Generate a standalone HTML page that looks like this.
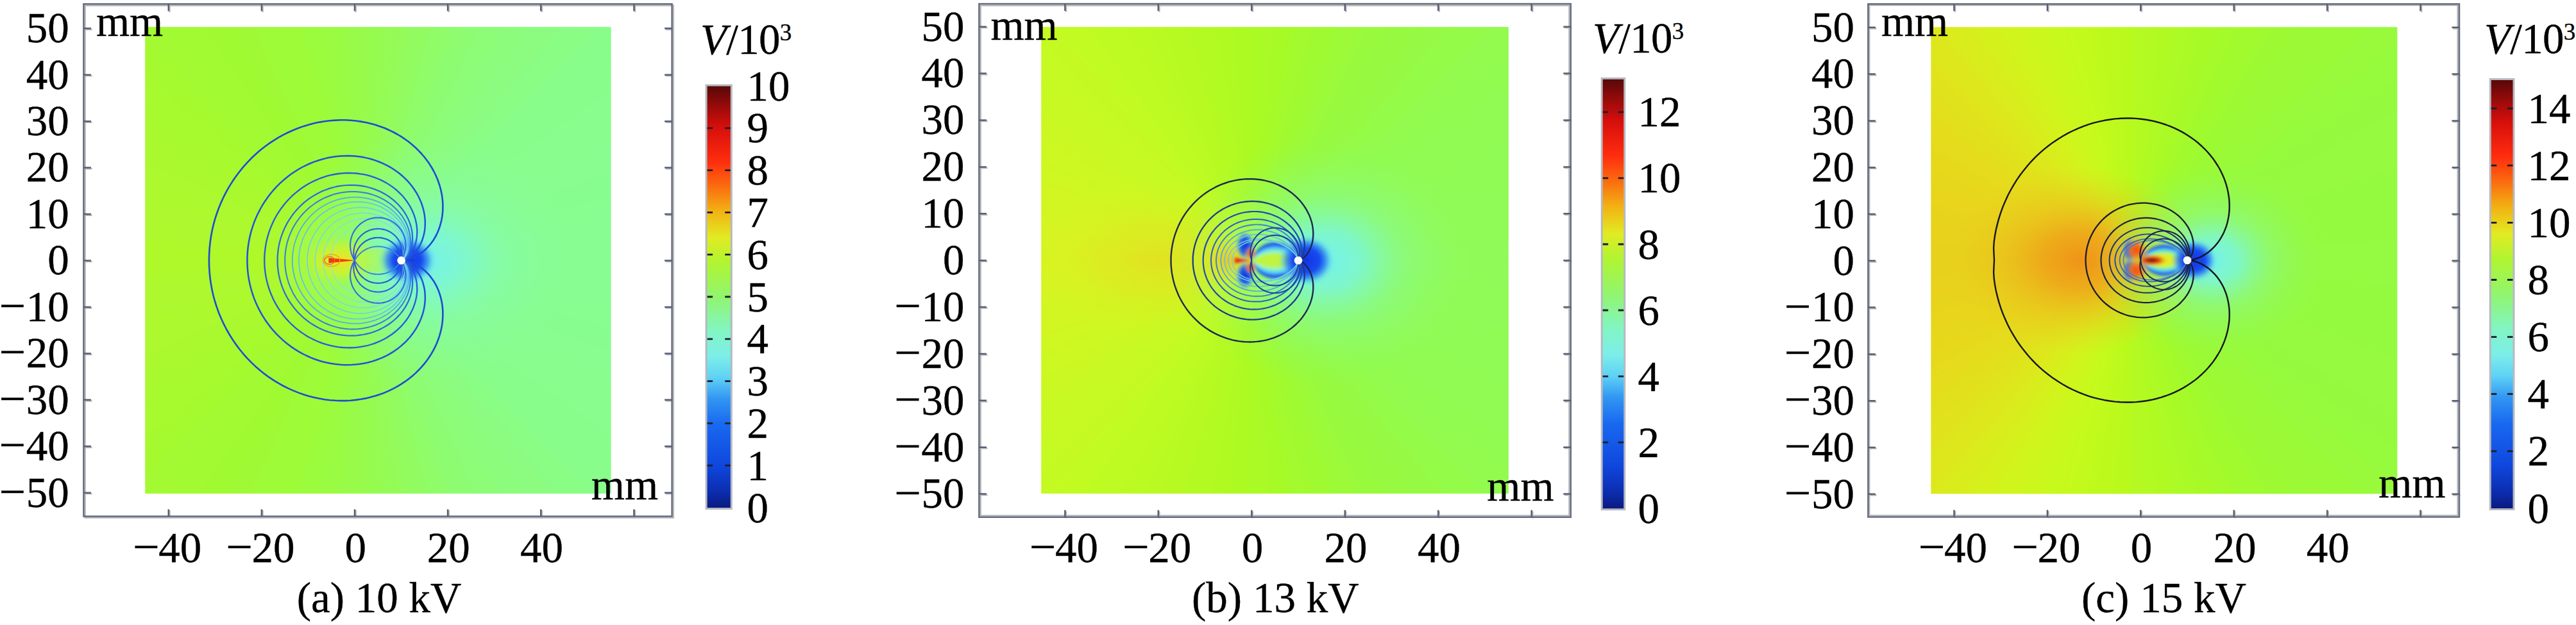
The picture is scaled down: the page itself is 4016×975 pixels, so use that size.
<!DOCTYPE html>
<html><head><meta charset="utf-8"><title>Potential distribution</title>
<style>
html,body{margin:0;padding:0;background:#fff;overflow:hidden;}
svg{display:block;}
text{font-family:"Liberation Serif","Times New Roman",serif;font-size:67px;fill:#000;stroke:#000;stroke-width:0.35px;}
</style></head><body>
<svg width="4016" height="975" viewBox="0 0 4016 975">
<rect width="4016" height="975" fill="#fff"/>
<defs>
<linearGradient id="bga" x1="0" y1="0" x2="1" y2="0">
<stop offset="0" stop-color="#a2fa30"/>
<stop offset="0.3" stop-color="#9dfb38"/>
<stop offset="0.45" stop-color="#97fb4e"/>
<stop offset="0.6" stop-color="#8ffc6c"/>
<stop offset="0.8" stop-color="#8afd84"/>
<stop offset="1" stop-color="#88fd8e"/>
</linearGradient>
<radialGradient id="ra0" cx="0.5" cy="0.5" r="0.5"><stop offset="0" stop-color="#74f2ea" stop-opacity="1"/><stop offset="0.2" stop-color="#7cf6dc" stop-opacity="0.85"/><stop offset="0.5" stop-color="#86fab4" stop-opacity="0.45"/><stop offset="1" stop-color="#88fd8e" stop-opacity="0"/></radialGradient>
<radialGradient id="ra1" cx="0.5" cy="0.5" r="0.5"><stop offset="0" stop-color="#f2e020" stop-opacity="1"/><stop offset="0.5" stop-color="#dcf024" stop-opacity="0.65"/><stop offset="1" stop-color="#b4f62c" stop-opacity="0"/></radialGradient>
<radialGradient id="da0" cx="0.5" cy="0.5" r="0.5"><stop offset="0" stop-color="#1034e4" stop-opacity="1"/><stop offset="0.5" stop-color="#174af0" stop-opacity="1"/><stop offset="0.72" stop-color="#2f86f2" stop-opacity="0.8"/><stop offset="0.88" stop-color="#5cc8f4" stop-opacity="0.4"/><stop offset="1" stop-color="#70e0f0" stop-opacity="0"/></radialGradient>
<clipPath id="cpa"><rect x="226.5" y="42.3" width="725.9" height="727.7"/></clipPath>
<filter id="lba" filterUnits="userSpaceOnUse" x="226.5" y="42.3" width="725.9" height="727.7"><feGaussianBlur stdDeviation="0.6"/></filter>
<filter id="dba" filterUnits="userSpaceOnUse" x="226.5" y="42.3" width="725.9" height="727.7"><feGaussianBlur stdDeviation="2.2"/></filter>
<filter id="fba" filterUnits="userSpaceOnUse" x="166.5" y="-17.7" width="845.9" height="847.7"><feGaussianBlur stdDeviation="7"/></filter>
<filter id="wba" filterUnits="userSpaceOnUse" x="166.5" y="-17.7" width="845.9" height="847.7"><feGaussianBlur stdDeviation="20"/></filter>
<linearGradient id="cba" x1="0" y1="1" x2="0" y2="0">
<stop offset="0.0" stop-color="#0a197d"/>
<stop offset="0.04" stop-color="#0c2daf"/>
<stop offset="0.1" stop-color="#0f46dc"/>
<stop offset="0.2" stop-color="#1969f0"/>
<stop offset="0.26" stop-color="#3296f2"/>
<stop offset="0.31" stop-color="#5fd2f5"/>
<stop offset="0.36" stop-color="#7deee8"/>
<stop offset="0.42" stop-color="#82f5c3"/>
<stop offset="0.5" stop-color="#91f56e"/>
<stop offset="0.58" stop-color="#aff532"/>
<stop offset="0.64" stop-color="#e1eb23"/>
<stop offset="0.7" stop-color="#f2b414"/>
<stop offset="0.76" stop-color="#fa6e0f"/>
<stop offset="0.82" stop-color="#ff2d0f"/>
<stop offset="0.9" stop-color="#d70f0c"/>
<stop offset="0.96" stop-color="#8c0a0a"/>
<stop offset="1.0" stop-color="#550808"/>
</linearGradient>
</defs>
<rect x="226.5" y="42.3" width="725.9" height="727.7" fill="url(#bga)"/>
<g clip-path="url(#cpa)">
<g filter="url(#fba)">
<path d="M567.5 406.2 L-375.7 399.6 L-371.6 494.9Z" fill="#aff82c"/>
<path d="M567.5 406.2 L-372.7 481.8 L-360.3 576.3Z" fill="#aef82d"/>
<path d="M567.5 406.2 L-362.6 563.4 L-341.9 656.5Z" fill="#adf82d"/>
<path d="M567.5 406.2 L-345.3 643.8 L-316.6 734.7Z" fill="#acf92d"/>
<path d="M567.5 406.2 L-321.1 722.4 L-284.6 810.5Z" fill="#abf92e"/>
<path d="M567.5 406.2 L-290.2 798.5 L-246.1 883.1Z" fill="#a9f92e"/>
<path d="M567.5 406.2 L-252.7 871.7 L-201.4 952.2Z" fill="#a8f92f"/>
<path d="M567.5 406.2 L-208.9 941.4 L-150.8 1017.1Z" fill="#a6fa2f"/>
<path d="M567.5 406.2 L-159.3 1007 L-94.8 1077.3Z" fill="#a4fa2f"/>
<path d="M567.5 406.2 L-104.1 1068 L-33.8 1132.4Z" fill="#a3fa30"/>
<path d="M567.5 406.2 L-43.8 1123.9 L31.9 1182Z" fill="#a1fa31"/>
<path d="M567.5 406.2 L21.1 1174.5 L101.6 1225.7Z" fill="#a0fa33"/>
<path d="M567.5 406.2 L90.2 1219.1 L174.8 1263.2Z" fill="#9ffa35"/>
<path d="M567.5 406.2 L162.9 1257.6 L251.1 1294.1Z" fill="#9efb37"/>
<path d="M567.5 406.2 L238.7 1289.6 L329.7 1318.3Z" fill="#9dfb39"/>
<path d="M567.5 406.2 L317 1314.9 L410.2 1335.5Z" fill="#9bfb3d"/>
<path d="M567.5 406.2 L397.2 1333.2 L491.9 1345.7Z" fill="#99fb43"/>
<path d="M567.5 406.2 L478.7 1344.5 L574.1 1348.7Z" fill="#98fb49"/>
<path d="M567.5 406.2 L560.9 1348.7 L656.3 1344.5Z" fill="#96fb4f"/>
<path d="M567.5 406.2 L643.2 1345.7 L737.8 1333.2Z" fill="#94fb56"/>
<path d="M567.5 406.2 L724.8 1335.5 L818 1314.9Z" fill="#92fb5f"/>
<path d="M567.5 406.2 L805.3 1318.3 L896.3 1289.6Z" fill="#90fc67"/>
<path d="M567.5 406.2 L883.9 1294.1 L972.1 1257.6Z" fill="#8efc70"/>
<path d="M567.5 406.2 L960.2 1263.2 L1044.8 1219.1Z" fill="#8dfc76"/>
<path d="M567.5 406.2 L1033.4 1225.7 L1113.9 1174.5Z" fill="#8cfc7b"/>
<path d="M567.5 406.2 L1103.1 1182 L1178.9 1123.9Z" fill="#8bfc80"/>
<path d="M567.5 406.2 L1168.8 1132.4 L1239.2 1068Z" fill="#8afd85"/>
<path d="M567.5 406.2 L1229.8 1077.3 L1294.3 1007Z" fill="#89fd8a"/>
<path d="M567.5 406.2 L1285.9 1017.1 L1344 941.4Z" fill="#89fd8c"/>
<path d="M567.5 406.2 L1336.4 952.2 L1387.7 871.7Z" fill="#89fd8d"/>
<path d="M567.5 406.2 L1381.1 883.1 L1425.2 798.5Z" fill="#89fd8e"/>
<path d="M567.5 406.2 L1419.6 810.5 L1456.1 722.4Z" fill="#89fd8f"/>
<path d="M567.5 406.2 L1451.6 734.7 L1480.3 643.8Z" fill="#88fd8f"/>
<path d="M567.5 406.2 L1476.9 656.5 L1497.6 563.4Z" fill="#88fd90"/>
<path d="M567.5 406.2 L1495.3 576.3 L1507.8 481.8Z" fill="#88fd91"/>
<path d="M567.5 406.2 L1506.6 494.9 L1510.8 399.6Z" fill="#88fd92"/>
<path d="M567.5 406.2 L1510.8 412.8 L1506.6 317.5Z" fill="#88fd92"/>
<path d="M567.5 406.2 L1507.8 330.6 L1495.3 236.1Z" fill="#88fd91"/>
<path d="M567.5 406.2 L1497.6 249 L1476.9 155.9Z" fill="#88fd90"/>
<path d="M567.5 406.2 L1480.3 168.6 L1451.6 77.7Z" fill="#88fd8f"/>
<path d="M567.5 406.2 L1456.1 90 L1419.6 1.9Z" fill="#89fd8f"/>
<path d="M567.5 406.2 L1425.2 13.9 L1381.1 -70.7Z" fill="#89fd8e"/>
<path d="M567.5 406.2 L1387.7 -59.3 L1336.4 -139.8Z" fill="#89fd8d"/>
<path d="M567.5 406.2 L1344 -129 L1285.9 -204.7Z" fill="#89fd8c"/>
<path d="M567.5 406.2 L1294.3 -194.6 L1229.8 -264.9Z" fill="#89fd8a"/>
<path d="M567.5 406.2 L1239.2 -255.6 L1168.8 -320Z" fill="#8afd85"/>
<path d="M567.5 406.2 L1178.9 -311.5 L1103.1 -369.6Z" fill="#8bfc80"/>
<path d="M567.5 406.2 L1113.9 -362.1 L1033.4 -413.3Z" fill="#8cfc7b"/>
<path d="M567.5 406.2 L1044.8 -406.7 L960.2 -450.8Z" fill="#8dfc76"/>
<path d="M567.5 406.2 L972.1 -445.2 L883.9 -481.7Z" fill="#8efc70"/>
<path d="M567.5 406.2 L896.3 -477.2 L805.3 -505.9Z" fill="#90fc67"/>
<path d="M567.5 406.2 L818 -502.5 L724.8 -523.1Z" fill="#92fb5f"/>
<path d="M567.5 406.2 L737.8 -520.8 L643.2 -533.3Z" fill="#94fb56"/>
<path d="M567.5 406.2 L656.3 -532.1 L560.9 -536.3Z" fill="#96fb4f"/>
<path d="M567.5 406.2 L574.1 -536.3 L478.7 -532.1Z" fill="#98fb49"/>
<path d="M567.5 406.2 L491.9 -533.3 L397.2 -520.8Z" fill="#99fb43"/>
<path d="M567.5 406.2 L410.2 -523.1 L317 -502.5Z" fill="#9bfb3d"/>
<path d="M567.5 406.2 L329.7 -505.9 L238.7 -477.2Z" fill="#9dfb39"/>
<path d="M567.5 406.2 L251.1 -481.7 L162.9 -445.2Z" fill="#9efb37"/>
<path d="M567.5 406.2 L174.8 -450.8 L90.2 -406.7Z" fill="#9ffa35"/>
<path d="M567.5 406.2 L101.6 -413.3 L21.1 -362.1Z" fill="#a0fa33"/>
<path d="M567.5 406.2 L31.9 -369.6 L-43.8 -311.5Z" fill="#a1fa31"/>
<path d="M567.5 406.2 L-33.8 -320 L-104.1 -255.6Z" fill="#a3fa30"/>
<path d="M567.5 406.2 L-94.8 -264.9 L-159.3 -194.6Z" fill="#a4fa2f"/>
<path d="M567.5 406.2 L-150.8 -204.7 L-208.9 -129Z" fill="#a6fa2f"/>
<path d="M567.5 406.2 L-201.4 -139.8 L-252.7 -59.3Z" fill="#a8f92f"/>
<path d="M567.5 406.2 L-246.1 -70.7 L-290.2 13.9Z" fill="#a9f92e"/>
<path d="M567.5 406.2 L-284.6 1.9 L-321.1 90Z" fill="#abf92e"/>
<path d="M567.5 406.2 L-316.6 77.7 L-345.3 168.6Z" fill="#acf92d"/>
<path d="M567.5 406.2 L-341.9 155.9 L-362.6 249Z" fill="#adf82d"/>
<path d="M567.5 406.2 L-360.3 236.1 L-372.7 330.6Z" fill="#aef82d"/>
<path d="M567.5 406.2 L-371.6 317.5 L-375.7 412.8Z" fill="#aff82c"/>
</g>

<ellipse cx="669.1" cy="406.2" rx="246.7" ry="195.8" fill="url(#ra0)"/>
<ellipse cx="531.2" cy="406.2" rx="65.3" ry="39.9" fill="url(#ra1)"/>
<g filter="url(#dba)">
<path d="M625.6 406.2 L623.9 403.9 L622 401.8 L620 399.8 L617.9 397.9 L615.7 396.1 L613.4 394.5 L611 393 L608.5 391.7 L605.9 390.6 L603.2 389.6 L600.5 388.8 L597.7 388.2 L594.9 387.7 L592.1 387.4 L589.3 387.3 L586.4 387.4 L583.6 387.7 L580.8 388.2 L578.1 388.8 L575.4 389.6 L572.7 390.6 L570.1 391.7 L567.6 393 L565.2 394.5 L562.8 396.1 L560.6 397.9 L558.5 399.8 L556.5 401.8 L554.7 403.9 L553 406.2 L554.7 408.5 L556.5 410.6 L558.5 412.6 L560.6 414.5 L562.8 416.3 L565.2 417.9 L567.6 419.4 L570.1 420.7 L572.7 421.8 L575.4 422.8 L578.1 423.6 L580.8 424.2 L583.6 424.7 L586.4 425 L589.3 425.1 L592.1 425 L594.9 424.7 L597.7 424.2 L600.5 423.6 L603.2 422.8 L605.9 421.8 L608.5 420.7 L611 419.4 L613.4 417.9 L615.7 416.3 L617.9 414.5 L620 412.6 L622 410.6 L623.9 408.5 L625.6 406.2Z" fill="#b0f850" fill-opacity="0.6"/>
<ellipse cx="635" cy="406.2" rx="45" ry="37.7" fill="url(#da0)"/>

</g>
<g filter="url(#lba)" fill="none" stroke-linejoin="round">
<path d="M325.9 406.2 L326.1 415.6 L326.7 425 L327.6 434.3 L329 443.6 L330.7 452.9 L332.8 462 L335.3 471 L338.2 479.9 L341.4 488.7 L345 497.3 L348.9 505.7 L353.2 514 L357.8 522 L362.7 529.8 L367.9 537.4 L373.4 544.7 L379.1 551.8 L385.2 558.6 L391.5 565.1 L398.1 571.4 L404.8 577.3 L411.8 582.9 L419 588.2 L426.4 593.1 L433.9 597.7 L441.6 602 L449.4 605.9 L457.3 609.4 L465.3 612.6 L473.4 615.5 L481.5 618 L489.7 620.1 L497.9 621.8 L506.2 623.2 L514.4 624.2 L522.6 624.8 L530.7 625.1 L538.8 625.1 L546.8 624.7 L554.8 623.9 L562.6 622.8 L570.3 621.4 L577.8 619.6 L585.2 617.6 L592.4 615.2 L599.5 612.6 L606.3 609.6 L613 606.4 L619.4 602.9 L625.6 599.2 L631.5 595.2 L637.2 591.1 L642.6 586.7 L647.8 582.1 L652.7 577.3 L657.3 572.4 L661.6 567.4 L665.6 562.2 L669.4 556.8 L672.8 551.4 L675.9 545.9 L678.7 540.4 L681.2 534.7 L683.4 529.1 L685.3 523.4 L686.9 517.7 L688.2 512 L689.2 506.4 L689.9 500.8 L690.3 495.3 L690.4 489.8 L690.3 484.4 L689.9 479.1 L689.2 473.9 L688.3 468.9 L687.1 464 L685.7 459.2 L684.1 454.6 L682.3 450.2 L680.3 445.9 L678.1 441.9 L675.8 438 L673.2 434.4 L670.6 430.9 L667.8 427.7 L664.9 424.7 L662 421.9 L658.9 419.4 L655.8 417.1 L652.7 415 L649.6 413.2 L646.4 411.6 L643.3 410.2 L640.3 409 L637.3 408.1 L634.5 407.3 L631.8 406.8 L629.3 406.4 L627.1 406.2 L625.6 406.2 L627.1 406.2 L629.3 406 L631.8 405.6 L634.5 405.1 L637.3 404.3 L640.3 403.4 L643.3 402.2 L646.4 400.8 L649.6 399.2 L652.7 397.4 L655.8 395.3 L658.9 393 L662 390.5 L664.9 387.7 L667.8 384.7 L670.6 381.5 L673.2 378 L675.8 374.4 L678.1 370.5 L680.3 366.5 L682.3 362.2 L684.1 357.8 L685.7 353.2 L687.1 348.4 L688.3 343.5 L689.2 338.5 L689.9 333.3 L690.3 328 L690.4 322.6 L690.3 317.1 L689.9 311.6 L689.2 306 L688.2 300.4 L686.9 294.7 L685.3 289 L683.4 283.3 L681.2 277.7 L678.7 272 L675.9 266.5 L672.8 261 L669.4 255.6 L665.6 250.2 L661.6 245 L657.3 240 L652.7 235.1 L647.8 230.3 L642.6 225.7 L637.2 221.3 L631.5 217.2 L625.6 213.2 L619.4 209.5 L613 206 L606.3 202.8 L599.5 199.8 L592.4 197.2 L585.2 194.8 L577.8 192.8 L570.3 191 L562.6 189.6 L554.8 188.5 L546.8 187.7 L538.8 187.3 L530.7 187.3 L522.6 187.6 L514.4 188.2 L506.2 189.2 L497.9 190.6 L489.7 192.3 L481.5 194.4 L473.4 196.9 L465.3 199.8 L457.3 203 L449.4 206.5 L441.6 210.4 L433.9 214.7 L426.4 219.3 L419 224.2 L411.8 229.5 L404.8 235.1 L398.1 241 L391.5 247.3 L385.2 253.8 L379.1 260.6 L373.4 267.7 L367.9 275 L362.7 282.6 L357.8 290.4 L353.2 298.4 L348.9 306.7 L345 315.1 L341.4 323.7 L338.2 332.5 L335.3 341.4 L332.8 350.4 L330.7 359.5 L329 368.8 L327.6 378.1 L326.7 387.4 L326.1 396.8 L325.9 406.2" stroke="#1f4cd4" stroke-width="2.6"/>
<path d="M385.4 406.2 L385.6 413.7 L386.1 421.3 L386.9 428.7 L388.1 436.2 L389.6 443.5 L391.4 450.8 L393.6 458 L396 465.1 L398.8 472 L401.9 478.8 L405.3 485.4 L408.9 491.9 L412.9 498.2 L417.1 504.2 L421.5 510.1 L426.2 515.7 L431.1 521.1 L436.3 526.2 L441.6 531.1 L447.1 535.7 L452.8 540.1 L458.7 544.1 L464.7 547.9 L470.8 551.4 L477.1 554.5 L483.4 557.4 L489.9 560 L496.4 562.2 L502.9 564.2 L509.5 565.8 L516.1 567.1 L522.7 568.1 L529.3 568.8 L535.9 569.2 L542.4 569.3 L548.8 569.1 L555.2 568.6 L561.5 567.8 L567.7 566.8 L573.8 565.5 L579.7 563.9 L585.5 562 L591.2 559.9 L596.7 557.6 L602 555.1 L607.1 552.3 L612 549.4 L616.7 546.2 L621.3 542.9 L625.6 539.4 L629.6 535.8 L633.5 532.1 L637.1 528.2 L640.5 524.2 L643.6 520.1 L646.5 515.9 L649.2 511.7 L651.6 507.4 L653.7 503.1 L655.7 498.8 L657.4 494.4 L658.8 490.1 L660 485.8 L661 481.5 L661.8 477.2 L662.3 473 L662.7 468.9 L662.8 464.8 L662.7 460.9 L662.5 457 L662.1 453.2 L661.5 449.6 L660.7 446.1 L659.8 442.7 L658.8 439.4 L657.7 436.3 L656.4 433.4 L655 430.5 L653.6 427.9 L652 425.4 L650.4 423.1 L648.8 420.9 L647.1 418.9 L645.4 417.1 L643.7 415.4 L641.9 413.9 L640.2 412.5 L638.6 411.3 L636.9 410.3 L635.4 409.4 L633.8 408.6 L632.4 408 L631.1 407.4 L629.8 407 L628.7 406.7 L627.7 406.5 L626.9 406.3 L626.2 406.2 L625.8 406.2 L625.6 406.2 L625.8 406.2 L626.2 406.2 L626.9 406.1 L627.7 405.9 L628.7 405.7 L629.8 405.4 L631.1 405 L632.4 404.4 L633.8 403.8 L635.4 403 L636.9 402.1 L638.6 401.1 L640.2 399.9 L641.9 398.5 L643.7 397 L645.4 395.3 L647.1 393.5 L648.8 391.5 L650.4 389.3 L652 387 L653.6 384.5 L655 381.9 L656.4 379 L657.7 376.1 L658.8 373 L659.8 369.7 L660.7 366.3 L661.5 362.8 L662.1 359.2 L662.5 355.4 L662.7 351.5 L662.8 347.6 L662.7 343.5 L662.3 339.4 L661.8 335.2 L661 330.9 L660 326.6 L658.8 322.3 L657.4 318 L655.7 313.6 L653.7 309.3 L651.6 305 L649.2 300.7 L646.5 296.5 L643.6 292.3 L640.5 288.2 L637.1 284.2 L633.5 280.3 L629.6 276.6 L625.6 273 L621.3 269.5 L616.7 266.2 L612 263 L607.1 260.1 L602 257.3 L596.7 254.8 L591.2 252.5 L585.5 250.4 L579.7 248.5 L573.8 246.9 L567.7 245.6 L561.5 244.6 L555.2 243.8 L548.8 243.3 L542.4 243.1 L535.9 243.2 L529.3 243.6 L522.7 244.3 L516.1 245.3 L509.5 246.6 L502.9 248.2 L496.4 250.2 L489.9 252.4 L483.4 255 L477.1 257.9 L470.8 261 L464.7 264.5 L458.7 268.3 L452.8 272.3 L447.1 276.7 L441.6 281.3 L436.3 286.2 L431.1 291.3 L426.2 296.7 L421.5 302.3 L417.1 308.2 L412.9 314.2 L408.9 320.5 L405.3 327 L401.9 333.6 L398.8 340.4 L396 347.3 L393.6 354.4 L391.4 361.6 L389.6 368.9 L388.1 376.2 L386.9 383.7 L386.1 391.1 L385.6 398.7 L385.4 406.2" stroke="#2152d8" stroke-width="2.5"/>
<path d="M412.2 406.2 L412.4 412.9 L412.9 419.6 L413.7 426.2 L414.8 432.8 L416.2 439.3 L418 445.8 L420 452.1 L422.4 458.3 L425 464.4 L427.9 470.4 L431.1 476.2 L434.6 481.8 L438.3 487.2 L442.2 492.4 L446.4 497.4 L450.8 502.2 L455.4 506.7 L460.2 511.1 L465.2 515.1 L470.3 518.9 L475.6 522.4 L481 525.7 L486.6 528.6 L492.2 531.3 L497.9 533.7 L503.7 535.8 L509.6 537.7 L515.5 539.2 L521.4 540.4 L527.3 541.4 L533.2 542 L539.1 542.4 L544.9 542.5 L550.7 542.3 L556.4 541.9 L562 541.1 L567.5 540.2 L573 539 L578.2 537.5 L583.4 535.8 L588.4 533.9 L593.3 531.8 L598 529.5 L602.5 527 L606.8 524.3 L611 521.5 L614.9 518.5 L618.7 515.4 L622.2 512.1 L625.6 508.8 L628.7 505.3 L631.6 501.8 L634.3 498.2 L636.7 494.6 L639 490.9 L641 487.1 L642.8 483.4 L644.4 479.7 L645.8 476 L647 472.3 L648 468.6 L648.8 465 L649.5 461.4 L649.9 457.9 L650.2 454.5 L650.3 451.1 L650.2 447.9 L650 444.7 L649.7 441.7 L649.2 438.8 L648.7 436 L648 433.3 L647.2 430.8 L646.4 428.3 L645.4 426.1 L644.4 423.9 L643.4 421.9 L642.3 420 L641.2 418.3 L640 416.7 L638.9 415.3 L637.7 413.9 L636.6 412.7 L635.5 411.6 L634.4 410.7 L633.3 409.9 L632.3 409.1 L631.3 408.5 L630.4 408 L629.6 407.5 L628.8 407.2 L628.1 406.9 L627.5 406.6 L627 406.5 L626.5 406.4 L626.2 406.3 L625.9 406.2 L625.7 406.2 L625.6 406.2 L625.6 406.2 L625.6 406.2 L625.7 406.2 L625.9 406.2 L626.2 406.1 L626.5 406 L627 405.9 L627.5 405.8 L628.1 405.5 L628.8 405.2 L629.6 404.9 L630.4 404.4 L631.3 403.9 L632.3 403.3 L633.3 402.5 L634.4 401.7 L635.5 400.8 L636.6 399.7 L637.7 398.5 L638.9 397.1 L640 395.7 L641.2 394.1 L642.3 392.4 L643.4 390.5 L644.4 388.5 L645.4 386.3 L646.4 384.1 L647.2 381.6 L648 379.1 L648.7 376.4 L649.2 373.6 L649.7 370.7 L650 367.7 L650.2 364.5 L650.3 361.3 L650.2 357.9 L649.9 354.5 L649.5 351 L648.8 347.4 L648 343.8 L647 340.1 L645.8 336.4 L644.4 332.7 L642.8 329 L641 325.3 L639 321.5 L636.7 317.8 L634.3 314.2 L631.6 310.6 L628.7 307.1 L625.6 303.6 L622.2 300.3 L618.7 297 L614.9 293.9 L611 290.9 L606.8 288.1 L602.5 285.4 L598 282.9 L593.3 280.6 L588.4 278.5 L583.4 276.6 L578.2 274.9 L573 273.4 L567.5 272.2 L562 271.3 L556.4 270.5 L550.7 270.1 L544.9 269.9 L539.1 270 L533.2 270.4 L527.3 271 L521.4 272 L515.5 273.2 L509.6 274.7 L503.7 276.6 L497.9 278.7 L492.2 281.1 L486.6 283.8 L481 286.7 L475.6 290 L470.3 293.5 L465.2 297.3 L460.2 301.3 L455.4 305.7 L450.8 310.2 L446.4 315 L442.2 320 L438.3 325.2 L434.6 330.6 L431.1 336.2 L427.9 342 L425 348 L422.4 354.1 L420 360.3 L418 366.6 L416.2 373.1 L414.8 379.6 L413.7 386.2 L412.9 392.8 L412.4 399.5 L412.2 406.2" stroke="#255cdc" stroke-width="2.3"/>
<path d="M432.6 406.2 L432.7 412.3 L433.2 418.3 L433.9 424.3 L435 430.3 L436.4 436.1 L438 441.9 L440 447.6 L442.2 453.2 L444.8 458.7 L447.5 464 L450.6 469.1 L453.9 474.1 L457.4 478.9 L461.2 483.5 L465.1 487.9 L469.3 492 L473.6 496 L478.2 499.7 L482.8 503.1 L487.7 506.3 L492.6 509.2 L497.7 511.9 L502.8 514.3 L508.1 516.4 L513.4 518.3 L518.7 519.9 L524.1 521.2 L529.5 522.2 L534.9 522.9 L540.3 523.4 L545.7 523.6 L551 523.6 L556.3 523.3 L561.4 522.7 L566.5 522 L571.5 520.9 L576.4 519.7 L581.2 518.2 L585.8 516.5 L590.3 514.7 L594.6 512.6 L598.8 510.4 L602.8 508 L606.6 505.5 L610.2 502.8 L613.7 500 L617 497.1 L620 494.1 L622.9 491.1 L625.6 487.9 L628 484.7 L630.3 481.5 L632.4 478.2 L634.2 474.9 L635.9 471.6 L637.4 468.3 L638.7 465 L639.8 461.7 L640.8 458.5 L641.5 455.4 L642.2 452.3 L642.6 449.2 L642.9 446.3 L643.1 443.4 L643.1 440.6 L643 437.9 L642.8 435.3 L642.5 432.9 L642.1 430.5 L641.6 428.2 L641 426.1 L640.4 424.1 L639.7 422.2 L639 420.5 L638.2 418.8 L637.4 417.3 L636.6 415.9 L635.7 414.6 L634.9 413.4 L634.1 412.4 L633.2 411.4 L632.5 410.6 L631.7 409.8 L630.9 409.2 L630.2 408.6 L629.6 408.1 L629 407.7 L628.4 407.3 L627.9 407 L627.4 406.8 L627 406.6 L626.6 406.5 L626.3 406.4 L626.1 406.3 L625.9 406.3 L625.8 406.2 L625.7 406.2 L625.6 406.2 L625.6 406.2 L625.6 406.2 L625.6 406.2 L625.6 406.2 L625.7 406.2 L625.8 406.2 L625.9 406.1 L626.1 406.1 L626.3 406 L626.6 405.9 L627 405.8 L627.4 405.6 L627.9 405.4 L628.4 405.1 L629 404.7 L629.6 404.3 L630.2 403.8 L630.9 403.2 L631.7 402.6 L632.5 401.8 L633.2 401 L634.1 400 L634.9 399 L635.7 397.8 L636.6 396.5 L637.4 395.1 L638.2 393.6 L639 391.9 L639.7 390.2 L640.4 388.3 L641 386.3 L641.6 384.2 L642.1 381.9 L642.5 379.5 L642.8 377.1 L643 374.5 L643.1 371.8 L643.1 369 L642.9 366.1 L642.6 363.2 L642.2 360.1 L641.5 357 L640.8 353.9 L639.8 350.7 L638.7 347.4 L637.4 344.1 L635.9 340.8 L634.2 337.5 L632.4 334.2 L630.3 330.9 L628 327.7 L625.6 324.5 L622.9 321.3 L620 318.3 L617 315.3 L613.7 312.4 L610.2 309.6 L606.6 306.9 L602.8 304.4 L598.8 302 L594.6 299.8 L590.3 297.7 L585.8 295.9 L581.2 294.2 L576.4 292.7 L571.5 291.5 L566.5 290.4 L561.4 289.7 L556.3 289.1 L551 288.8 L545.7 288.8 L540.3 289 L534.9 289.5 L529.5 290.2 L524.1 291.2 L518.7 292.5 L513.4 294.1 L508.1 296 L502.8 298.1 L497.7 300.5 L492.6 303.2 L487.7 306.1 L482.8 309.3 L478.2 312.7 L473.6 316.4 L469.3 320.4 L465.1 324.5 L461.2 328.9 L457.4 333.5 L453.9 338.3 L450.6 343.3 L447.5 348.4 L444.8 353.7 L442.2 359.2 L440 364.8 L438 370.5 L436.4 376.3 L435 382.1 L433.9 388.1 L433.2 394.1 L432.7 400.1 L432.6 406.2" stroke="#2b68e0" stroke-width="2.2"/>
<path d="M444.2 406.2 L444.3 411.9 L444.8 417.6 L445.5 423.2 L446.6 428.8 L447.9 434.3 L449.5 439.8 L451.4 445.1 L453.6 450.3 L456 455.4 L458.7 460.4 L461.7 465.2 L464.9 469.8 L468.3 474.2 L471.9 478.4 L475.7 482.5 L479.8 486.3 L484 489.9 L488.3 493.2 L492.8 496.3 L497.5 499.2 L502.2 501.8 L507.1 504.2 L512 506.2 L517 508.1 L522 509.6 L527.1 510.9 L532.3 511.9 L537.4 512.7 L542.5 513.2 L547.6 513.5 L552.6 513.5 L557.6 513.2 L562.5 512.7 L567.3 512 L572.1 511.1 L576.7 509.9 L581.2 508.5 L585.6 507 L589.9 505.2 L594 503.3 L597.9 501.2 L601.7 499 L605.3 496.6 L608.8 494.1 L612 491.4 L615.1 488.7 L618 485.9 L620.7 483 L623.2 480.1 L625.6 477.1 L627.7 474.1 L629.6 471 L631.4 467.9 L633 464.9 L634.4 461.8 L635.6 458.8 L636.7 455.8 L637.5 452.8 L638.3 449.9 L638.8 447.1 L639.3 444.3 L639.6 441.6 L639.8 439 L639.8 436.5 L639.8 434 L639.6 431.7 L639.3 429.5 L639 427.4 L638.6 425.4 L638.1 423.5 L637.6 421.7 L637 420 L636.4 418.5 L635.7 417 L635.1 415.7 L634.4 414.5 L633.7 413.4 L633 412.4 L632.3 411.4 L631.7 410.6 L631 409.9 L630.4 409.3 L629.8 408.7 L629.2 408.2 L628.7 407.8 L628.2 407.4 L627.8 407.2 L627.4 406.9 L627 406.7 L626.7 406.6 L626.4 406.5 L626.2 406.4 L626 406.3 L625.9 406.3 L625.7 406.2 L625.7 406.2 L625.6 406.2 L625.6 406.2 L625.6 406.2 L625.6 406.2 L625.6 406.2 L625.6 406.2 L625.6 406.2 L625.7 406.2 L625.7 406.2 L625.9 406.1 L626 406.1 L626.2 406 L626.4 405.9 L626.7 405.8 L627 405.7 L627.4 405.5 L627.8 405.2 L628.2 405 L628.7 404.6 L629.2 404.2 L629.8 403.7 L630.4 403.1 L631 402.5 L631.7 401.8 L632.3 401 L633 400 L633.7 399 L634.4 397.9 L635.1 396.7 L635.7 395.4 L636.4 393.9 L637 392.4 L637.6 390.7 L638.1 388.9 L638.6 387 L639 385 L639.3 382.9 L639.6 380.7 L639.8 378.4 L639.8 375.9 L639.8 373.4 L639.6 370.8 L639.3 368.1 L638.8 365.3 L638.3 362.5 L637.5 359.6 L636.7 356.6 L635.6 353.6 L634.4 350.6 L633 347.5 L631.4 344.5 L629.6 341.4 L627.7 338.3 L625.6 335.3 L623.2 332.3 L620.7 329.4 L618 326.5 L615.1 323.7 L612 321 L608.8 318.3 L605.3 315.8 L601.7 313.4 L597.9 311.2 L594 309.1 L589.9 307.2 L585.6 305.4 L581.2 303.9 L576.7 302.5 L572.1 301.3 L567.3 300.4 L562.5 299.7 L557.6 299.2 L552.6 298.9 L547.6 298.9 L542.5 299.2 L537.4 299.7 L532.3 300.5 L527.1 301.5 L522 302.8 L517 304.3 L512 306.2 L507.1 308.2 L502.2 310.6 L497.5 313.2 L492.8 316.1 L488.3 319.2 L484 322.5 L479.8 326.1 L475.7 329.9 L471.9 334 L468.3 338.2 L464.9 342.6 L461.7 347.2 L458.7 352 L456 357 L453.6 362.1 L451.4 367.3 L449.5 372.6 L447.9 378.1 L446.6 383.6 L445.5 389.2 L444.8 394.8 L444.3 400.5 L444.2 406.2" stroke="#357ce4" stroke-width="2.0"/>
<path d="M455.8 406.2 L455.9 411.5 L456.3 416.8 L457.1 422.1 L458.1 427.3 L459.3 432.5 L460.9 437.6 L462.7 442.6 L464.8 447.4 L467.1 452.2 L469.7 456.8 L472.5 461.2 L475.6 465.5 L478.8 469.6 L482.3 473.6 L485.9 477.3 L489.8 480.8 L493.8 484.1 L497.9 487.1 L502.2 490 L506.6 492.6 L511.1 494.9 L515.7 497 L520.4 498.9 L525.1 500.5 L529.9 501.8 L534.7 502.9 L539.5 503.7 L544.3 504.3 L549.1 504.7 L553.9 504.8 L558.6 504.7 L563.2 504.3 L567.8 503.7 L572.3 502.9 L576.7 501.9 L581 500.7 L585.2 499.3 L589.3 497.7 L593.2 496 L597 494.1 L600.6 492 L604.1 489.9 L607.4 487.6 L610.5 485.1 L613.4 482.6 L616.2 480 L618.8 477.4 L621.3 474.6 L623.5 471.8 L625.6 469 L627.4 466.2 L629.2 463.3 L630.7 460.5 L632.1 457.7 L633.3 454.8 L634.3 452 L635.2 449.3 L635.9 446.6 L636.5 444 L637 441.4 L637.3 438.9 L637.6 436.5 L637.7 434.1 L637.7 431.9 L637.6 429.7 L637.4 427.7 L637.1 425.7 L636.8 423.9 L636.4 422.1 L635.9 420.5 L635.5 418.9 L634.9 417.5 L634.4 416.2 L633.8 415 L633.2 413.8 L632.6 412.8 L632 411.9 L631.4 411.1 L630.9 410.3 L630.3 409.6 L629.8 409.1 L629.3 408.5 L628.8 408.1 L628.3 407.7 L627.9 407.4 L627.5 407.1 L627.2 406.9 L626.9 406.7 L626.6 406.6 L626.4 406.5 L626.2 406.4 L626 406.3 L625.9 406.3 L625.8 406.2 L625.7 406.2 L625.6 406.2 L625.6 406.2 L625.6 406.2 L625.6 406.2 L625.6 406.2 L625.6 406.2 L625.6 406.2 L625.6 406.2 L625.6 406.2 L625.7 406.2 L625.8 406.2 L625.9 406.1 L626 406.1 L626.2 406 L626.4 405.9 L626.6 405.8 L626.9 405.7 L627.2 405.5 L627.5 405.3 L627.9 405 L628.3 404.7 L628.8 404.3 L629.3 403.9 L629.8 403.3 L630.3 402.8 L630.9 402.1 L631.4 401.3 L632 400.5 L632.6 399.6 L633.2 398.6 L633.8 397.4 L634.4 396.2 L634.9 394.9 L635.5 393.5 L635.9 391.9 L636.4 390.3 L636.8 388.5 L637.1 386.7 L637.4 384.7 L637.6 382.7 L637.7 380.5 L637.7 378.3 L637.6 375.9 L637.3 373.5 L637 371 L636.5 368.4 L635.9 365.8 L635.2 363.1 L634.3 360.4 L633.3 357.6 L632.1 354.7 L630.7 351.9 L629.2 349.1 L627.4 346.2 L625.6 343.4 L623.5 340.6 L621.3 337.8 L618.8 335 L616.2 332.4 L613.4 329.8 L610.5 327.3 L607.4 324.8 L604.1 322.5 L600.6 320.4 L597 318.3 L593.2 316.4 L589.3 314.7 L585.2 313.1 L581 311.7 L576.7 310.5 L572.3 309.5 L567.8 308.7 L563.2 308.1 L558.6 307.7 L553.9 307.6 L549.1 307.7 L544.3 308.1 L539.5 308.7 L534.7 309.5 L529.9 310.6 L525.1 311.9 L520.4 313.5 L515.7 315.4 L511.1 317.5 L506.6 319.8 L502.2 322.4 L497.9 325.3 L493.8 328.3 L489.8 331.6 L485.9 335.1 L482.3 338.8 L478.8 342.8 L475.6 346.9 L472.5 351.2 L469.7 355.6 L467.1 360.2 L464.8 365 L462.7 369.8 L460.9 374.8 L459.3 379.9 L458.1 385.1 L457.1 390.3 L456.3 395.6 L455.9 400.9 L455.8 406.2" stroke="#50b0ea" stroke-width="1.8"/>
<path d="M465.9 406.2 L466.1 411.2 L466.5 416.2 L467.2 421.2 L468.1 426.1 L469.3 430.9 L470.8 435.7 L472.6 440.4 L474.6 444.9 L476.8 449.4 L479.3 453.7 L482 457.9 L484.9 461.9 L488 465.7 L491.3 469.3 L494.8 472.8 L498.4 476 L502.2 479.1 L506.2 481.9 L510.3 484.5 L514.4 486.9 L518.7 489 L523.1 490.9 L527.5 492.6 L532 494 L536.5 495.2 L541.1 496.1 L545.6 496.8 L550.1 497.3 L554.7 497.5 L559.2 497.5 L563.6 497.3 L568 496.9 L572.3 496.2 L576.5 495.4 L580.6 494.4 L584.6 493.1 L588.5 491.7 L592.3 490.2 L595.9 488.5 L599.4 486.6 L602.8 484.6 L606 482.5 L609 480.3 L611.9 478 L614.6 475.6 L617.1 473.1 L619.5 470.5 L621.7 468 L623.7 465.3 L625.6 462.7 L627.3 460 L628.8 457.4 L630.1 454.7 L631.4 452.1 L632.4 449.4 L633.3 446.9 L634.1 444.3 L634.7 441.9 L635.2 439.4 L635.6 437.1 L635.9 434.8 L636 432.6 L636.1 430.5 L636 428.5 L635.9 426.5 L635.7 424.7 L635.5 423 L635.2 421.3 L634.8 419.8 L634.4 418.3 L633.9 417 L633.4 415.7 L632.9 414.6 L632.4 413.5 L631.9 412.5 L631.4 411.7 L630.9 410.9 L630.4 410.2 L629.9 409.5 L629.4 409 L628.9 408.5 L628.5 408.1 L628.1 407.7 L627.7 407.4 L627.4 407.1 L627.1 406.9 L626.8 406.7 L626.5 406.6 L626.3 406.5 L626.1 406.4 L626 406.3 L625.9 406.3 L625.8 406.2 L625.7 406.2 L625.6 406.2 L625.6 406.2 L625.6 406.2 L625.6 406.2 L625.6 406.2 L625.6 406.2 L625.6 406.2 L625.6 406.2 L625.6 406.2 L625.6 406.2 L625.6 406.2 L625.7 406.2 L625.8 406.2 L625.9 406.1 L626 406.1 L626.1 406 L626.3 405.9 L626.5 405.8 L626.8 405.7 L627.1 405.5 L627.4 405.3 L627.7 405 L628.1 404.7 L628.5 404.3 L628.9 403.9 L629.4 403.4 L629.9 402.9 L630.4 402.2 L630.9 401.5 L631.4 400.7 L631.9 399.9 L632.4 398.9 L632.9 397.8 L633.4 396.7 L633.9 395.4 L634.4 394.1 L634.8 392.6 L635.2 391.1 L635.5 389.4 L635.7 387.7 L635.9 385.9 L636 383.9 L636.1 381.9 L636 379.8 L635.9 377.6 L635.6 375.3 L635.2 373 L634.7 370.5 L634.1 368.1 L633.3 365.5 L632.4 363 L631.4 360.3 L630.1 357.7 L628.8 355 L627.3 352.4 L625.6 349.7 L623.7 347.1 L621.7 344.4 L619.5 341.9 L617.1 339.3 L614.6 336.8 L611.9 334.4 L609 332.1 L606 329.9 L602.8 327.8 L599.4 325.8 L595.9 323.9 L592.3 322.2 L588.5 320.7 L584.6 319.3 L580.6 318 L576.5 317 L572.3 316.2 L568 315.5 L563.6 315.1 L559.2 314.9 L554.7 314.9 L550.1 315.1 L545.6 315.6 L541.1 316.3 L536.5 317.2 L532 318.4 L527.5 319.8 L523.1 321.5 L518.7 323.4 L514.4 325.5 L510.3 327.9 L506.2 330.5 L502.2 333.3 L498.4 336.4 L494.8 339.6 L491.3 343.1 L488 346.7 L484.9 350.5 L482 354.5 L479.3 358.7 L476.8 363 L474.6 367.5 L472.6 372 L470.8 376.7 L469.3 381.5 L468.1 386.3 L467.2 391.2 L466.5 396.2 L466.1 401.2 L465.9 406.2" stroke="#60c4ec" stroke-width="1.7"/>
<path d="M479 406.2 L479.1 410.8 L479.5 415.4 L480.1 419.9 L481 424.4 L482.2 428.9 L483.6 433.3 L485.2 437.5 L487.1 441.7 L489.2 445.8 L491.5 449.7 L494 453.5 L496.7 457.2 L499.6 460.7 L502.7 464 L505.9 467.1 L509.3 470 L512.9 472.8 L516.5 475.3 L520.3 477.7 L524.2 479.8 L528.2 481.7 L532.2 483.3 L536.3 484.8 L540.5 486 L544.7 487 L548.9 487.8 L553.1 488.4 L557.2 488.7 L561.4 488.8 L565.5 488.8 L569.6 488.5 L573.6 488 L577.5 487.3 L581.4 486.5 L585.2 485.4 L588.8 484.2 L592.4 482.9 L595.8 481.4 L599.1 479.7 L602.2 478 L605.2 476.1 L608.1 474.1 L610.8 472 L613.4 469.8 L615.8 467.6 L618.1 465.3 L620.2 462.9 L622.1 460.6 L623.9 458.1 L625.6 455.7 L627 453.3 L628.4 450.8 L629.6 448.4 L630.6 446 L631.5 443.7 L632.3 441.4 L632.9 439.1 L633.4 436.9 L633.8 434.7 L634.1 432.6 L634.3 430.6 L634.5 428.6 L634.5 426.8 L634.4 425 L634.3 423.3 L634.1 421.7 L633.8 420.2 L633.6 418.8 L633.2 417.5 L632.8 416.2 L632.4 415.1 L632 414 L631.6 413 L631.1 412.1 L630.7 411.3 L630.2 410.6 L629.8 409.9 L629.4 409.4 L629 408.8 L628.6 408.4 L628.2 408 L627.8 407.6 L627.5 407.4 L627.2 407.1 L626.9 406.9 L626.7 406.7 L626.5 406.6 L626.3 406.5 L626.1 406.4 L626 406.3 L625.9 406.3 L625.8 406.3 L625.7 406.2 L625.6 406.2 L625.6 406.2 L625.6 406.2 L625.6 406.2 L625.6 406.2 L625.6 406.2 L625.6 406.2 L625.6 406.2 L625.6 406.2 L625.6 406.2 L625.6 406.2 L625.6 406.2 L625.6 406.2 L625.7 406.2 L625.8 406.1 L625.9 406.1 L626 406.1 L626.1 406 L626.3 405.9 L626.5 405.8 L626.7 405.7 L626.9 405.5 L627.2 405.3 L627.5 405 L627.8 404.8 L628.2 404.4 L628.6 404 L629 403.6 L629.4 403 L629.8 402.5 L630.2 401.8 L630.7 401.1 L631.1 400.3 L631.6 399.4 L632 398.4 L632.4 397.3 L632.8 396.2 L633.2 394.9 L633.6 393.6 L633.8 392.2 L634.1 390.7 L634.3 389.1 L634.4 387.4 L634.5 385.6 L634.5 383.8 L634.3 381.8 L634.1 379.8 L633.8 377.7 L633.4 375.5 L632.9 373.3 L632.3 371 L631.5 368.7 L630.6 366.4 L629.6 364 L628.4 361.6 L627 359.1 L625.6 356.7 L623.9 354.3 L622.1 351.8 L620.2 349.5 L618.1 347.1 L615.8 344.8 L613.4 342.6 L610.8 340.4 L608.1 338.3 L605.2 336.3 L602.2 334.4 L599.1 332.7 L595.8 331 L592.4 329.5 L588.8 328.2 L585.2 327 L581.4 325.9 L577.5 325.1 L573.6 324.4 L569.6 323.9 L565.5 323.6 L561.4 323.6 L557.2 323.7 L553.1 324 L548.9 324.6 L544.7 325.4 L540.5 326.4 L536.3 327.6 L532.2 329.1 L528.2 330.7 L524.2 332.6 L520.3 334.7 L516.5 337.1 L512.9 339.6 L509.3 342.4 L505.9 345.3 L502.7 348.4 L499.6 351.7 L496.7 355.2 L494 358.9 L491.5 362.7 L489.2 366.6 L487.1 370.7 L485.2 374.9 L483.6 379.1 L482.2 383.5 L481 388 L480.1 392.5 L479.5 397 L479.1 401.6 L479 406.2" stroke="#6cd0ec" stroke-width="1.6"/>
<path d="M491.3 406.2 L491.4 410.4 L491.8 414.6 L492.4 418.8 L493.3 422.9 L494.3 427 L495.7 431 L497.2 434.9 L498.9 438.7 L500.9 442.4 L503.1 446 L505.4 449.4 L508 452.7 L510.7 455.9 L513.6 458.8 L516.7 461.6 L519.9 464.3 L523.2 466.7 L526.6 468.9 L530.1 471 L533.8 472.8 L537.5 474.5 L541.2 475.9 L545 477.1 L548.9 478.1 L552.8 478.9 L556.6 479.5 L560.5 479.9 L564.4 480.1 L568.2 480.1 L572 479.9 L575.7 479.5 L579.3 479 L582.9 478.2 L586.4 477.3 L589.8 476.3 L593.1 475.1 L596.3 473.7 L599.4 472.2 L602.3 470.6 L605.2 468.9 L607.8 467.1 L610.4 465.2 L612.8 463.3 L615.1 461.2 L617.2 459.1 L619.1 457 L621 454.8 L622.6 452.6 L624.2 450.4 L625.6 448.2 L626.8 446 L627.9 443.8 L628.9 441.6 L629.8 439.5 L630.5 437.4 L631.1 435.4 L631.6 433.4 L632 431.4 L632.3 429.5 L632.6 427.7 L632.7 426 L632.7 424.3 L632.7 422.7 L632.6 421.2 L632.5 419.8 L632.3 418.4 L632.1 417.2 L631.8 416 L631.5 414.9 L631.2 413.9 L630.8 413 L630.5 412.1 L630.1 411.3 L629.7 410.6 L629.4 410 L629 409.4 L628.7 408.9 L628.3 408.5 L628 408.1 L627.7 407.7 L627.4 407.4 L627.1 407.2 L626.9 407 L626.7 406.8 L626.5 406.7 L626.3 406.5 L626.1 406.5 L626 406.4 L625.9 406.3 L625.8 406.3 L625.7 406.3 L625.7 406.2 L625.6 406.2 L625.6 406.2 L625.6 406.2 L625.6 406.2 L625.6 406.2 L625.6 406.2 L625.6 406.2 L625.6 406.2 L625.6 406.2 L625.6 406.2 L625.6 406.2 L625.6 406.2 L625.6 406.2 L625.6 406.2 L625.6 406.2 L625.7 406.2 L625.7 406.1 L625.8 406.1 L625.9 406.1 L626 406 L626.1 405.9 L626.3 405.9 L626.5 405.7 L626.7 405.6 L626.9 405.4 L627.1 405.2 L627.4 405 L627.7 404.7 L628 404.3 L628.3 403.9 L628.7 403.5 L629 403 L629.4 402.4 L629.7 401.8 L630.1 401.1 L630.5 400.3 L630.8 399.4 L631.2 398.5 L631.5 397.5 L631.8 396.4 L632.1 395.2 L632.3 394 L632.5 392.6 L632.6 391.2 L632.7 389.7 L632.7 388.1 L632.7 386.4 L632.6 384.7 L632.3 382.9 L632 381 L631.6 379 L631.1 377 L630.5 375 L629.8 372.9 L628.9 370.8 L627.9 368.6 L626.8 366.4 L625.6 364.2 L624.2 362 L622.6 359.8 L621 357.6 L619.1 355.4 L617.2 353.3 L615.1 351.2 L612.8 349.1 L610.4 347.2 L607.8 345.3 L605.2 343.5 L602.3 341.8 L599.4 340.2 L596.3 338.7 L593.1 337.3 L589.8 336.1 L586.4 335.1 L582.9 334.2 L579.3 333.4 L575.7 332.9 L572 332.5 L568.2 332.3 L564.4 332.3 L560.5 332.5 L556.6 332.9 L552.8 333.5 L548.9 334.3 L545 335.3 L541.2 336.5 L537.5 337.9 L533.8 339.6 L530.1 341.4 L526.6 343.5 L523.2 345.7 L519.9 348.1 L516.7 350.8 L513.6 353.6 L510.7 356.5 L508 359.7 L505.4 363 L503.1 366.4 L500.9 370 L498.9 373.7 L497.2 377.5 L495.7 381.4 L494.3 385.4 L493.3 389.5 L492.4 393.6 L491.8 397.8 L491.4 402 L491.3 406.2" stroke="#78d8e8" stroke-width="1.5"/>
<path d="M503.7 406.2 L503.8 410 L504.1 413.8 L504.7 417.6 L505.5 421.4 L506.5 425 L507.7 428.7 L509.2 432.2 L510.8 435.6 L512.7 439 L514.7 442.2 L517 445.3 L519.3 448.2 L521.9 451 L524.6 453.7 L527.5 456.1 L530.4 458.4 L533.5 460.6 L536.7 462.5 L540 464.3 L543.4 465.9 L546.8 467.2 L550.3 468.4 L553.8 469.4 L557.4 470.2 L560.9 470.8 L564.5 471.2 L568 471.4 L571.5 471.4 L575 471.3 L578.5 471 L581.8 470.5 L585.1 469.8 L588.4 469 L591.5 468.1 L594.6 467 L597.5 465.8 L600.3 464.4 L603.1 463 L605.7 461.4 L608.1 459.8 L610.5 458.1 L612.7 456.3 L614.8 454.5 L616.7 452.6 L618.5 450.6 L620.2 448.7 L621.7 446.7 L623.1 444.7 L624.4 442.7 L625.6 440.7 L626.6 438.8 L627.5 436.8 L628.3 434.9 L629 433.1 L629.5 431.2 L630 429.5 L630.4 427.8 L630.7 426.1 L630.9 424.5 L631 423 L631.1 421.5 L631.1 420.1 L631 418.8 L630.9 417.6 L630.8 416.4 L630.6 415.4 L630.4 414.4 L630.2 413.4 L629.9 412.6 L629.6 411.8 L629.3 411.1 L629 410.4 L628.8 409.8 L628.5 409.3 L628.2 408.8 L627.9 408.4 L627.6 408 L627.4 407.7 L627.2 407.4 L626.9 407.2 L626.7 407 L626.6 406.8 L626.4 406.7 L626.2 406.6 L626.1 406.5 L626 406.4 L625.9 406.3 L625.8 406.3 L625.8 406.3 L625.7 406.2 L625.7 406.2 L625.6 406.2 L625.6 406.2 L625.6 406.2 L625.6 406.2 L625.6 406.2 L625.6 406.2 L625.6 406.2 L625.6 406.2 L625.6 406.2 L625.6 406.2 L625.6 406.2 L625.6 406.2 L625.6 406.2 L625.6 406.2 L625.6 406.2 L625.6 406.2 L625.6 406.2 L625.7 406.2 L625.7 406.2 L625.8 406.1 L625.8 406.1 L625.9 406.1 L626 406 L626.1 405.9 L626.2 405.8 L626.4 405.7 L626.6 405.6 L626.7 405.4 L626.9 405.2 L627.2 405 L627.4 404.7 L627.6 404.4 L627.9 404 L628.2 403.6 L628.5 403.1 L628.8 402.6 L629 402 L629.3 401.3 L629.6 400.6 L629.9 399.8 L630.2 399 L630.4 398 L630.6 397 L630.8 396 L630.9 394.8 L631 393.6 L631.1 392.3 L631.1 390.9 L631 389.4 L630.9 387.9 L630.7 386.3 L630.4 384.6 L630 382.9 L629.5 381.2 L629 379.3 L628.3 377.5 L627.5 375.6 L626.6 373.6 L625.6 371.7 L624.4 369.7 L623.1 367.7 L621.7 365.7 L620.2 363.7 L618.5 361.8 L616.7 359.8 L614.8 357.9 L612.7 356.1 L610.5 354.3 L608.1 352.6 L605.7 351 L603.1 349.4 L600.3 348 L597.5 346.6 L594.6 345.4 L591.5 344.3 L588.4 343.4 L585.1 342.6 L581.8 341.9 L578.5 341.4 L575 341.1 L571.5 341 L568 341 L564.5 341.2 L560.9 341.6 L557.4 342.2 L553.8 343 L550.3 344 L546.8 345.2 L543.4 346.5 L540 348.1 L536.7 349.9 L533.5 351.8 L530.4 354 L527.5 356.3 L524.6 358.7 L521.9 361.4 L519.3 364.2 L517 367.1 L514.7 370.2 L512.7 373.4 L510.8 376.8 L509.2 380.2 L507.7 383.7 L506.5 387.4 L505.5 391 L504.7 394.8 L504.1 398.6 L503.8 402.4 L503.7 406.2" stroke="#84e0e0" stroke-width="1.4"/>
<path d="M515.3 406.2 L515.4 409.7 L515.7 413.1 L516.3 416.5 L517.1 419.9 L518.1 423.2 L519.3 426.4 L520.8 429.6 L522.4 432.7 L524.2 435.6 L526.2 438.4 L528.4 441.1 L530.8 443.7 L533.3 446.1 L535.9 448.4 L538.7 450.4 L541.6 452.3 L544.5 454.1 L547.6 455.6 L550.8 457 L554 458.2 L557.2 459.1 L560.5 459.9 L563.9 460.6 L567.2 461 L570.5 461.2 L573.8 461.3 L577 461.2 L580.3 460.9 L583.4 460.5 L586.5 459.9 L589.5 459.2 L592.5 458.3 L595.3 457.3 L598.1 456.2 L600.7 454.9 L603.2 453.6 L605.6 452.2 L607.9 450.7 L610.1 449.1 L612.1 447.5 L614 445.8 L615.8 444.1 L617.5 442.4 L619 440.6 L620.4 438.9 L621.7 437.1 L622.8 435.4 L623.8 433.6 L624.8 431.9 L625.6 430.2 L626.3 428.6 L626.9 427 L627.4 425.5 L627.8 424 L628.2 422.5 L628.4 421.2 L628.6 419.9 L628.8 418.6 L628.8 417.5 L628.9 416.4 L628.8 415.3 L628.8 414.4 L628.7 413.5 L628.6 412.6 L628.5 411.9 L628.3 411.2 L628.1 410.5 L627.9 410 L627.8 409.4 L627.6 409 L627.4 408.6 L627.2 408.2 L627 407.9 L626.9 407.6 L626.7 407.3 L626.6 407.1 L626.4 407 L626.3 406.8 L626.2 406.7 L626.1 406.6 L626 406.5 L625.9 406.4 L625.8 406.4 L625.8 406.3 L625.7 406.3 L625.7 406.3 L625.7 406.2 L625.6 406.2 L625.6 406.2 L625.6 406.2 L625.6 406.2 L625.6 406.2 L625.6 406.2 L625.6 406.2 L625.6 406.2 L625.6 406.2 L625.6 406.2 L625.6 406.2 L625.6 406.2 L625.6 406.2 L625.6 406.2 L625.6 406.2 L625.6 406.2 L625.6 406.2 L625.6 406.2 L625.6 406.2 L625.6 406.2 L625.6 406.2 L625.6 406.2 L625.6 406.2 L625.6 406.2 L625.6 406.2 L625.7 406.2 L625.7 406.1 L625.7 406.1 L625.8 406.1 L625.8 406 L625.9 406 L626 405.9 L626.1 405.8 L626.2 405.7 L626.3 405.6 L626.4 405.4 L626.6 405.3 L626.7 405.1 L626.9 404.8 L627 404.5 L627.2 404.2 L627.4 403.8 L627.6 403.4 L627.8 403 L627.9 402.4 L628.1 401.9 L628.3 401.2 L628.5 400.5 L628.6 399.8 L628.7 398.9 L628.8 398 L628.8 397.1 L628.9 396 L628.8 394.9 L628.8 393.8 L628.6 392.5 L628.4 391.2 L628.2 389.9 L627.8 388.4 L627.4 386.9 L626.9 385.4 L626.3 383.8 L625.6 382.2 L624.8 380.5 L623.8 378.8 L622.8 377 L621.7 375.3 L620.4 373.5 L619 371.8 L617.5 370 L615.8 368.3 L614 366.6 L612.1 364.9 L610.1 363.3 L607.9 361.7 L605.6 360.2 L603.2 358.8 L600.7 357.5 L598.1 356.2 L595.3 355.1 L592.5 354.1 L589.5 353.2 L586.5 352.5 L583.4 351.9 L580.3 351.5 L577 351.2 L573.8 351.1 L570.5 351.2 L567.2 351.4 L563.9 351.8 L560.5 352.5 L557.2 353.3 L554 354.2 L550.8 355.4 L547.6 356.8 L544.5 358.3 L541.6 360.1 L538.7 362 L535.9 364 L533.3 366.3 L530.8 368.7 L528.4 371.3 L526.2 374 L524.2 376.8 L522.4 379.7 L520.8 382.8 L519.3 386 L518.1 389.2 L517.1 392.5 L516.3 395.9 L515.7 399.3 L515.4 402.7 L515.3 406.2" stroke="#8ce4d8" stroke-width="1.3"/>
<path d="M625.6 406.2 L627.1 403.5 L628.5 400.8 L629.7 397.9 L630.7 395 L631.5 392 L632.1 389 L632.4 385.9 L632.5 382.8 L632.4 379.7 L632.1 376.7 L631.6 373.6 L630.8 370.6 L629.8 367.7 L628.6 364.8 L627.3 362.1 L625.7 359.4 L623.9 356.9 L622 354.5 L619.9 352.2 L617.6 350.1 L615.2 348.1 L612.7 346.4 L610 344.8 L607.3 343.4 L604.4 342.2 L601.5 341.3 L598.5 340.5 L595.4 339.9 L592.4 339.6 L589.3 339.5 L586.2 339.6 L583.1 339.9 L580.1 340.5 L577.1 341.3 L574.1 342.2 L571.3 343.4 L568.5 344.8 L565.9 346.4 L563.3 348.1 L560.9 350.1 L558.7 352.2 L556.6 354.5 L554.6 356.9 L552.9 359.4 L551.3 362.1 L549.9 364.8 L548.7 367.7 L547.8 370.6 L547 373.6 L546.5 376.7 L546.1 379.7 L546 382.8 L546.2 385.9 L546.5 389 L547.1 392 L547.8 395 L548.8 397.9 L550 400.8 L551.4 403.5 L553 406.2" stroke="#2f6fe0" stroke-width="2.1"/>
<path d="M625.6 406.2 L627.1 408.9 L628.5 411.6 L629.7 414.5 L630.7 417.4 L631.5 420.4 L632.1 423.4 L632.4 426.5 L632.5 429.6 L632.4 432.7 L632.1 435.7 L631.6 438.8 L630.8 441.8 L629.8 444.7 L628.6 447.6 L627.3 450.3 L625.7 453 L623.9 455.5 L622 457.9 L619.9 460.2 L617.6 462.3 L615.2 464.3 L612.7 466 L610 467.6 L607.3 469 L604.4 470.2 L601.5 471.1 L598.5 471.9 L595.4 472.5 L592.4 472.8 L589.3 472.9 L586.2 472.8 L583.1 472.5 L580.1 471.9 L577.1 471.1 L574.1 470.2 L571.3 469 L568.5 467.6 L565.9 466 L563.3 464.3 L560.9 462.3 L558.7 460.2 L556.6 457.9 L554.6 455.5 L552.9 453 L551.3 450.3 L549.9 447.6 L548.7 444.7 L547.8 441.8 L547 438.8 L546.5 435.7 L546.1 432.7 L546 429.6 L546.2 426.5 L546.5 423.4 L547.1 420.4 L547.8 417.4 L548.8 414.5 L550 411.6 L551.4 408.9 L553 406.2" stroke="#2f6fe0" stroke-width="2.1"/>
<path d="M625.6 406.2 L626.2 403.9 L626.7 401.6 L627 399.2 L627.2 396.9 L627.3 394.5 L627.2 392.1 L626.9 389.8 L626.6 387.4 L626 385.1 L625.3 382.9 L624.5 380.6 L623.6 378.5 L622.5 376.4 L621.2 374.3 L619.9 372.4 L618.4 370.5 L616.9 368.7 L615.2 367.1 L613.4 365.5 L611.5 364.1 L609.5 362.7 L607.5 361.5 L605.4 360.5 L603.2 359.5 L601 358.7 L598.7 358.1 L596.4 357.6 L594 357.2 L591.7 357 L589.3 356.9 L586.9 357 L584.5 357.2 L582.2 357.6 L579.9 358.1 L577.6 358.7 L575.4 359.5 L573.2 360.5 L571.1 361.5 L569 362.7 L567.1 364.1 L565.2 365.5 L563.4 367.1 L561.7 368.7 L560.1 370.5 L558.7 372.4 L557.3 374.3 L556.1 376.4 L555 378.5 L554 380.6 L553.2 382.9 L552.5 385.1 L552 387.4 L551.6 389.8 L551.4 392.1 L551.3 394.5 L551.3 396.9 L551.5 399.2 L551.9 401.6 L552.4 403.9 L553 406.2" stroke="#2a62dc" stroke-width="2.1"/>
<path d="M625.6 406.2 L626.2 408.5 L626.7 410.8 L627 413.2 L627.2 415.5 L627.3 417.9 L627.2 420.3 L626.9 422.6 L626.6 425 L626 427.3 L625.3 429.5 L624.5 431.8 L623.6 433.9 L622.5 436 L621.2 438.1 L619.9 440 L618.4 441.9 L616.9 443.7 L615.2 445.3 L613.4 446.9 L611.5 448.3 L609.5 449.7 L607.5 450.9 L605.4 451.9 L603.2 452.9 L601 453.7 L598.7 454.3 L596.4 454.8 L594 455.2 L591.7 455.4 L589.3 455.5 L586.9 455.4 L584.5 455.2 L582.2 454.8 L579.9 454.3 L577.6 453.7 L575.4 452.9 L573.2 451.9 L571.1 450.9 L569 449.7 L567.1 448.3 L565.2 446.9 L563.4 445.3 L561.7 443.7 L560.1 441.9 L558.7 440 L557.3 438.1 L556.1 436 L555 433.9 L554 431.8 L553.2 429.5 L552.5 427.3 L552 425 L551.6 422.6 L551.4 420.3 L551.3 417.9 L551.3 415.5 L551.5 413.2 L551.9 410.8 L552.4 408.5 L553 406.2" stroke="#2a62dc" stroke-width="2.1"/>
<path d="M625.6 406.2 L625.5 404.3 L625.3 402.5 L625 400.6 L624.6 398.8 L624.2 397 L623.6 395.2 L623 393.4 L622.2 391.7 L621.4 390 L620.5 388.4 L619.5 386.8 L618.4 385.3 L617.2 383.8 L616 382.4 L614.7 381 L613.3 379.8 L611.9 378.6 L610.4 377.4 L608.8 376.4 L607.2 375.4 L605.6 374.5 L603.9 373.7 L602.1 373 L600.4 372.4 L598.6 371.9 L596.7 371.4 L594.9 371.1 L593 370.9 L591.2 370.7 L589.3 370.7 L587.4 370.7 L585.5 370.9 L583.7 371.1 L581.8 371.4 L580 371.9 L578.2 372.4 L576.4 373 L574.7 373.7 L573 374.5 L571.3 375.4 L569.7 376.4 L568.2 377.4 L566.7 378.6 L565.3 379.8 L563.9 381 L562.6 382.4 L561.3 383.8 L560.2 385.3 L559.1 386.8 L558.1 388.4 L557.2 390 L556.4 391.7 L555.6 393.4 L555 395.2 L554.4 397 L553.9 398.8 L553.5 400.6 L553.3 402.5 L553.1 404.3 L553 406.2" stroke="#2458d8" stroke-width="2.1"/>
<path d="M625.6 406.2 L625.5 408.1 L625.3 409.9 L625 411.8 L624.6 413.6 L624.2 415.4 L623.6 417.2 L623 419 L622.2 420.7 L621.4 422.4 L620.5 424 L619.5 425.6 L618.4 427.1 L617.2 428.6 L616 430 L614.7 431.4 L613.3 432.6 L611.9 433.8 L610.4 435 L608.8 436 L607.2 437 L605.6 437.9 L603.9 438.7 L602.1 439.4 L600.4 440 L598.6 440.5 L596.7 441 L594.9 441.3 L593 441.5 L591.2 441.7 L589.3 441.7 L587.4 441.7 L585.5 441.5 L583.7 441.3 L581.8 441 L580 440.5 L578.2 440 L576.4 439.4 L574.7 438.7 L573 437.9 L571.3 437 L569.7 436 L568.2 435 L566.7 433.8 L565.3 432.6 L563.9 431.4 L562.6 430 L561.3 428.6 L560.2 427.1 L559.1 425.6 L558.1 424 L557.2 422.4 L556.4 420.7 L555.6 419 L555 417.2 L554.4 415.4 L553.9 413.6 L553.5 411.8 L553.3 409.9 L553.1 408.1 L553 406.2" stroke="#2458d8" stroke-width="2.1"/>
<path d="M625.6 406.2 L624.8 404.9 L624.1 403.6 L623.3 402.4 L622.4 401.2 L621.5 400 L620.6 398.9 L619.6 397.8 L618.6 396.7 L617.5 395.7 L616.4 394.7 L615.3 393.7 L614.1 392.8 L612.9 391.9 L611.7 391.1 L610.4 390.3 L609.2 389.6 L607.8 388.9 L606.5 388.2 L605.2 387.6 L603.8 387.1 L602.4 386.6 L601 386.1 L599.5 385.7 L598.1 385.4 L596.6 385.1 L595.2 384.9 L593.7 384.7 L592.2 384.6 L590.8 384.5 L589.3 384.4 L587.8 384.5 L586.3 384.6 L584.8 384.7 L583.4 384.9 L581.9 385.1 L580.5 385.4 L579 385.7 L577.6 386.1 L576.2 386.6 L574.8 387.1 L573.4 387.6 L572.1 388.2 L570.7 388.9 L569.4 389.6 L568.1 390.3 L566.9 391.1 L565.6 391.9 L564.4 392.8 L563.3 393.7 L562.2 394.7 L561.1 395.7 L560 396.7 L559 397.8 L558 398.9 L557.1 400 L556.2 401.2 L555.3 402.4 L554.5 403.6 L553.7 404.9 L553 406.2" stroke="#3b7fe0" stroke-width="1.9"/>
<path d="M625.6 406.2 L624.8 407.5 L624.1 408.8 L623.3 410 L622.4 411.2 L621.5 412.4 L620.6 413.5 L619.6 414.6 L618.6 415.7 L617.5 416.7 L616.4 417.7 L615.3 418.7 L614.1 419.6 L612.9 420.5 L611.7 421.3 L610.4 422.1 L609.2 422.8 L607.8 423.5 L606.5 424.2 L605.2 424.8 L603.8 425.3 L602.4 425.8 L601 426.3 L599.5 426.7 L598.1 427 L596.6 427.3 L595.2 427.5 L593.7 427.7 L592.2 427.8 L590.8 427.9 L589.3 427.9 L587.8 427.9 L586.3 427.8 L584.8 427.7 L583.4 427.5 L581.9 427.3 L580.5 427 L579 426.7 L577.6 426.3 L576.2 425.8 L574.8 425.3 L573.4 424.8 L572.1 424.2 L570.7 423.5 L569.4 422.8 L568.1 422.1 L566.9 421.3 L565.6 420.5 L564.4 419.6 L563.3 418.7 L562.2 417.7 L561.1 416.7 L560 415.7 L559 414.6 L558 413.5 L557.1 412.4 L556.2 411.2 L555.3 410 L554.5 408.8 L553.7 407.5 L553 406.2" stroke="#3b7fe0" stroke-width="1.9"/>
<path d="M512.4 402.2 L555.2 406.2 L512.4 410.2 Z" fill="#f03a10"/><ellipse cx="513.8" cy="406.2" rx="8" ry="6" stroke="#f06820" stroke-width="1.4"/><ellipse cx="516.7" cy="406.2" rx="13" ry="9.5" stroke="#f0a020" stroke-width="1.3"/>
</g>
<circle cx="625.6" cy="406.2" r="6.3" fill="#fff"/>
</g>
<g fill="none" stroke-width="2.5"><g stroke="#b3b9b7"><path d="M132.6 8.5 H1049.8 V807.6 H132.6 Z"/><path transform="translate(1.6,1.6)" d="M130.4 768.7 h11.5 M1047.6 768.7 h-11.5 M130.4 696.3 h11.5 M1047.6 696.3 h-11.5 M130.4 623.8 h11.5 M1047.6 623.8 h-11.5 M130.4 551.4 h11.5 M1047.6 551.4 h-11.5 M130.4 478.9 h11.5 M1047.6 478.9 h-11.5 M130.4 406.5 h11.5 M1047.6 406.5 h-11.5 M130.4 334.1 h11.5 M1047.6 334.1 h-11.5 M130.4 261.6 h11.5 M1047.6 261.6 h-11.5 M130.4 189.2 h11.5 M1047.6 189.2 h-11.5 M130.4 116.7 h11.5 M1047.6 116.7 h-11.5 M130.4 44.3 h11.5 M1047.6 44.3 h-11.5 M262.8 6.3 v11 M262.8 805.4 v-11 M407.9 6.3 v11 M407.9 805.4 v-11 M553 6.3 v11 M553 805.4 v-11 M698.1 6.3 v11 M698.1 805.4 v-11 M843.2 6.3 v11 M843.2 805.4 v-11 M988.4 6.3 v11 M988.4 805.4 v-11"/></g><path d="M130.4 6.3 H1047.6 V805.4 H130.4 Z" stroke="#676b81"/><path d="M130.4 768.7 h11.5 M1047.6 768.7 h-11.5 M130.4 696.3 h11.5 M1047.6 696.3 h-11.5 M130.4 623.8 h11.5 M1047.6 623.8 h-11.5 M130.4 551.4 h11.5 M1047.6 551.4 h-11.5 M130.4 478.9 h11.5 M1047.6 478.9 h-11.5 M130.4 406.5 h11.5 M1047.6 406.5 h-11.5 M130.4 334.1 h11.5 M1047.6 334.1 h-11.5 M130.4 261.6 h11.5 M1047.6 261.6 h-11.5 M130.4 189.2 h11.5 M1047.6 189.2 h-11.5 M130.4 116.7 h11.5 M1047.6 116.7 h-11.5 M130.4 44.3 h11.5 M1047.6 44.3 h-11.5 M262.8 6.3 v11 M262.8 805.4 v-11 M407.9 6.3 v11 M407.9 805.4 v-11 M553 6.3 v11 M553 805.4 v-11 M698.1 6.3 v11 M698.1 805.4 v-11 M843.2 6.3 v11 M843.2 805.4 v-11 M988.4 6.3 v11 M988.4 805.4 v-11" stroke="#5a5e74"/></g>
<text x="107.7" y="790.5" text-anchor="end"><tspan font-size="74" dy="1.2">−</tspan><tspan dy="-1.2" dx="0.5">50</tspan></text>
<text x="107.7" y="718.1" text-anchor="end"><tspan font-size="74" dy="1.2">−</tspan><tspan dy="-1.2" dx="0.5">40</tspan></text>
<text x="107.7" y="645.6" text-anchor="end"><tspan font-size="74" dy="1.2">−</tspan><tspan dy="-1.2" dx="0.5">30</tspan></text>
<text x="107.7" y="573.2" text-anchor="end"><tspan font-size="74" dy="1.2">−</tspan><tspan dy="-1.2" dx="0.5">20</tspan></text>
<text x="107.7" y="500.7" text-anchor="end"><tspan font-size="74" dy="1.2">−</tspan><tspan dy="-1.2" dx="0.5">10</tspan></text>
<text x="107.7" y="428.3" text-anchor="end">0</text>
<text x="107.7" y="355.9" text-anchor="end">10</text>
<text x="107.7" y="283.4" text-anchor="end">20</text>
<text x="107.7" y="211" text-anchor="end">30</text>
<text x="107.7" y="138.5" text-anchor="end">40</text>
<text x="107.7" y="66.1" text-anchor="end">50</text>
<text x="207.1" y="876.5"><tspan font-size="74" dy="1.2">−</tspan><tspan dy="-1.2" dx="-1.5">40</tspan></text>
<text x="352.2" y="876.5"><tspan font-size="74" dy="1.2">−</tspan><tspan dy="-1.2" dx="-1.5">20</tspan></text>
<text x="554.2" y="876.5" text-anchor="middle">0</text>
<text x="699.3" y="876.5" text-anchor="middle">20</text>
<text x="844.4" y="876.5" text-anchor="middle">40</text>
<text x="149.9" y="56.3">mm</text>
<text x="1026" y="779" text-anchor="end">mm</text>
<text x="591" y="954.5" text-anchor="middle">(a) 10 kV</text>
<rect x="1101.1" y="133" width="39.2" height="660.5" fill="url(#cba)" stroke="#b6b9c0" stroke-width="3"/>
<path d="M1102.6 726.2 h8.5 M1138.8 726.2 h-8.5 M1102.6 660.4 h8.5 M1138.8 660.4 h-8.5 M1102.6 594.6 h8.5 M1138.8 594.6 h-8.5 M1102.6 528.8 h8.5 M1138.8 528.8 h-8.5 M1102.6 463 h8.5 M1138.8 463 h-8.5 M1102.6 397.2 h8.5 M1138.8 397.2 h-8.5 M1102.6 331.4 h8.5 M1138.8 331.4 h-8.5 M1102.6 265.6 h8.5 M1138.8 265.6 h-8.5 M1102.6 199.8 h8.5 M1138.8 199.8 h-8.5" stroke="#1c1c28" stroke-width="2.8" fill="none"/>
<text x="1164.5" y="814.5">0</text>
<text x="1164.5" y="748.7">1</text>
<text x="1164.5" y="682.9">2</text>
<text x="1164.5" y="617.1">3</text>
<text x="1164.5" y="551.3">4</text>
<text x="1164.5" y="485.5">5</text>
<text x="1164.5" y="419.7">6</text>
<text x="1164.5" y="353.9">7</text>
<text x="1164.5" y="288.1">8</text>
<text x="1164.5" y="222.3">9</text>
<text x="1164.5" y="156.5">10</text>
<text x="1092" y="84" letter-spacing="-0.7"><tspan font-style="italic">V</tspan>/10<tspan font-size="37" dy="-21">3</tspan></text>
<defs>
<linearGradient id="bgb" x1="0" y1="0" x2="1" y2="0">
<stop offset="0" stop-color="#c4fc20"/>
<stop offset="0.3" stop-color="#bafb20"/>
<stop offset="0.5" stop-color="#a6fa28"/>
<stop offset="0.7" stop-color="#97fb44"/>
<stop offset="1" stop-color="#90fb54"/>
</linearGradient>
<radialGradient id="rb0" cx="0.5" cy="0.5" r="0.5"><stop offset="0" stop-color="#e8d420" stop-opacity="0.55"/><stop offset="0.4" stop-color="#e4e020" stop-opacity="0.4"/><stop offset="1" stop-color="#d4f420" stop-opacity="0"/></radialGradient>
<radialGradient id="rb1" cx="0.5" cy="0.5" r="0.5"><stop offset="0" stop-color="#74f2ea" stop-opacity="1"/><stop offset="0.22" stop-color="#7cf6dc" stop-opacity="0.88"/><stop offset="0.5" stop-color="#88fa9c" stop-opacity="0.5"/><stop offset="1" stop-color="#90fb54" stop-opacity="0"/></radialGradient>
<radialGradient id="rb2" cx="0.5" cy="0.5" r="0.5"><stop offset="0" stop-color="#f0c020" stop-opacity="0.9"/><stop offset="0.5" stop-color="#e8dc20" stop-opacity="0.6"/><stop offset="1" stop-color="#d8ec20" stop-opacity="0"/></radialGradient>
<radialGradient id="db0" cx="0.5" cy="0.5" r="0.5"><stop offset="0" stop-color="#1034e4" stop-opacity="1"/><stop offset="0.5" stop-color="#174af0" stop-opacity="1"/><stop offset="0.72" stop-color="#2f86f2" stop-opacity="0.8"/><stop offset="0.88" stop-color="#5cc8f4" stop-opacity="0.4"/><stop offset="1" stop-color="#70e0f0" stop-opacity="0"/></radialGradient>
<radialGradient id="db1" cx="0.5" cy="0.5" r="0.5"><stop offset="0" stop-color="#0c34e0" stop-opacity="1"/><stop offset="0.55" stop-color="#1c58f0" stop-opacity="0.95"/><stop offset="0.8" stop-color="#4090f0" stop-opacity="0.6"/><stop offset="1" stop-color="#70d0f0" stop-opacity="0"/></radialGradient>
<radialGradient id="db2" cx="0.5" cy="0.5" r="0.5"><stop offset="0" stop-color="#0c34e0" stop-opacity="1"/><stop offset="0.55" stop-color="#1c58f0" stop-opacity="0.95"/><stop offset="0.8" stop-color="#4090f0" stop-opacity="0.6"/><stop offset="1" stop-color="#70d0f0" stop-opacity="0"/></radialGradient>
<radialGradient id="db3" cx="0.5" cy="0.5" r="0.5"><stop offset="0" stop-color="#f84814" stop-opacity="1"/><stop offset="0.45" stop-color="#f67016" stop-opacity="0.95"/><stop offset="0.8" stop-color="#f0a01c" stop-opacity="0.5"/><stop offset="1" stop-color="#f0b020" stop-opacity="0"/></radialGradient>
<radialGradient id="db4" cx="0.5" cy="0.5" r="0.5"><stop offset="0" stop-color="#f84814" stop-opacity="1"/><stop offset="0.45" stop-color="#f67016" stop-opacity="0.95"/><stop offset="0.8" stop-color="#f0a01c" stop-opacity="0.5"/><stop offset="1" stop-color="#f0b020" stop-opacity="0"/></radialGradient>
<clipPath id="cpb"><rect x="1623.5" y="42.3" width="728.1" height="727.7"/></clipPath>
<filter id="lbb" filterUnits="userSpaceOnUse" x="1623.5" y="42.3" width="728.1" height="727.7"><feGaussianBlur stdDeviation="0.6"/></filter>
<filter id="dbb" filterUnits="userSpaceOnUse" x="1623.5" y="42.3" width="728.1" height="727.7"><feGaussianBlur stdDeviation="2.2"/></filter>
<filter id="fbb" filterUnits="userSpaceOnUse" x="1563.5" y="-17.7" width="848.1" height="847.7"><feGaussianBlur stdDeviation="7"/></filter>
<filter id="wbb" filterUnits="userSpaceOnUse" x="1563.5" y="-17.7" width="848.1" height="847.7"><feGaussianBlur stdDeviation="20"/></filter>
<linearGradient id="cbb" x1="0" y1="1" x2="0" y2="0">
<stop offset="0.0" stop-color="#0a197d"/>
<stop offset="0.04" stop-color="#0c2daf"/>
<stop offset="0.1" stop-color="#0f46dc"/>
<stop offset="0.2" stop-color="#1969f0"/>
<stop offset="0.26" stop-color="#3296f2"/>
<stop offset="0.31" stop-color="#5fd2f5"/>
<stop offset="0.36" stop-color="#7deee8"/>
<stop offset="0.42" stop-color="#82f5c3"/>
<stop offset="0.5" stop-color="#91f56e"/>
<stop offset="0.58" stop-color="#aff532"/>
<stop offset="0.64" stop-color="#e1eb23"/>
<stop offset="0.7" stop-color="#f2b414"/>
<stop offset="0.76" stop-color="#fa6e0f"/>
<stop offset="0.82" stop-color="#ff2d0f"/>
<stop offset="0.9" stop-color="#d70f0c"/>
<stop offset="0.96" stop-color="#8c0a0a"/>
<stop offset="1.0" stop-color="#550808"/>
</linearGradient>
</defs>
<rect x="1623.5" y="42.3" width="728.1" height="727.7" fill="url(#bgb)"/>
<g clip-path="url(#cpb)">
<g filter="url(#fbb)">
<path d="M1951.3 406.3 L1005.8 399.7 L1010 495.2Z" fill="#d7f420"/>
<path d="M1951.3 406.3 L1008.9 482.1 L1021.3 576.8Z" fill="#d5f520"/>
<path d="M1951.3 406.3 L1019.1 563.8 L1039.8 657.2Z" fill="#d3f620"/>
<path d="M1951.3 406.3 L1036.3 644.4 L1065.1 735.6Z" fill="#d1f620"/>
<path d="M1951.3 406.3 L1060.6 723.2 L1097.2 811.5Z" fill="#cff720"/>
<path d="M1951.3 406.3 L1091.6 799.6 L1135.8 884.4Z" fill="#cdf820"/>
<path d="M1951.3 406.3 L1129.2 872.9 L1180.6 953.6Z" fill="#cbf820"/>
<path d="M1951.3 406.3 L1173 942.7 L1231.3 1018.6Z" fill="#c8f920"/>
<path d="M1951.3 406.3 L1222.8 1008.5 L1287.4 1079Z" fill="#c6fa20"/>
<path d="M1951.3 406.3 L1278.1 1069.6 L1348.6 1134.2Z" fill="#c4fa20"/>
<path d="M1951.3 406.3 L1338.5 1125.7 L1414.4 1183.9Z" fill="#c1fb20"/>
<path d="M1951.3 406.3 L1403.6 1176.4 L1484.3 1227.7Z" fill="#befb20"/>
<path d="M1951.3 406.3 L1472.9 1221.1 L1557.7 1265.3Z" fill="#bcfb20"/>
<path d="M1951.3 406.3 L1545.7 1259.7 L1634.1 1296.3Z" fill="#b8fa20"/>
<path d="M1951.3 406.3 L1621.7 1291.8 L1713 1320.5Z" fill="#b6fa20"/>
<path d="M1951.3 406.3 L1700.2 1317.1 L1793.6 1337.8Z" fill="#b2fa21"/>
<path d="M1951.3 406.3 L1780.6 1335.5 L1875.5 1348Z" fill="#b0fa22"/>
<path d="M1951.3 406.3 L1862.3 1346.8 L1957.9 1351Z" fill="#acfa24"/>
<path d="M1951.3 406.3 L1944.7 1351 L2040.3 1346.8Z" fill="#aafa25"/>
<path d="M1951.3 406.3 L2027.1 1348 L2122 1335.5Z" fill="#a6fa28"/>
<path d="M1951.3 406.3 L2109 1337.8 L2202.4 1317.1Z" fill="#a3fa2e"/>
<path d="M1951.3 406.3 L2189.6 1320.5 L2280.9 1291.8Z" fill="#9ffa32"/>
<path d="M1951.3 406.3 L2268.5 1296.3 L2356.9 1259.7Z" fill="#9cfa38"/>
<path d="M1951.3 406.3 L2344.9 1265.3 L2429.7 1221.1Z" fill="#99fa3c"/>
<path d="M1951.3 406.3 L2418.3 1227.7 L2499 1176.4Z" fill="#97fa41"/>
<path d="M1951.3 406.3 L2488.2 1183.9 L2564.1 1125.7Z" fill="#96fa45"/>
<path d="M1951.3 406.3 L2554 1134.2 L2624.5 1069.6Z" fill="#94fb49"/>
<path d="M1951.3 406.3 L2615.2 1079 L2679.8 1008.5Z" fill="#92fb4e"/>
<path d="M1951.3 406.3 L2671.3 1018.6 L2729.6 942.7Z" fill="#91fb50"/>
<path d="M1951.3 406.3 L2722 953.6 L2773.4 872.9Z" fill="#91fb52"/>
<path d="M1951.3 406.3 L2766.8 884.4 L2811 799.6Z" fill="#91fb52"/>
<path d="M1951.3 406.3 L2805.4 811.5 L2842 723.2Z" fill="#91fb54"/>
<path d="M1951.3 406.3 L2837.5 735.6 L2866.3 644.4Z" fill="#90fb54"/>
<path d="M1951.3 406.3 L2862.8 657.2 L2883.5 563.8Z" fill="#90fb56"/>
<path d="M1951.3 406.3 L2881.3 576.8 L2893.7 482.1Z" fill="#90fb56"/>
<path d="M1951.3 406.3 L2892.6 495.2 L2896.8 399.7Z" fill="#90fb58"/>
<path d="M1951.3 406.3 L2896.8 412.9 L2892.6 317.4Z" fill="#90fb58"/>
<path d="M1951.3 406.3 L2893.7 330.5 L2881.3 235.8Z" fill="#90fb56"/>
<path d="M1951.3 406.3 L2883.5 248.8 L2862.8 155.4Z" fill="#90fb56"/>
<path d="M1951.3 406.3 L2866.3 168.2 L2837.5 77Z" fill="#90fb54"/>
<path d="M1951.3 406.3 L2842 89.4 L2805.4 1.1Z" fill="#91fb54"/>
<path d="M1951.3 406.3 L2811 13 L2766.8 -71.8Z" fill="#91fb52"/>
<path d="M1951.3 406.3 L2773.4 -60.3 L2722 -141Z" fill="#91fb52"/>
<path d="M1951.3 406.3 L2729.6 -130.1 L2671.3 -206Z" fill="#91fb50"/>
<path d="M1951.3 406.3 L2679.8 -195.9 L2615.2 -266.4Z" fill="#92fb4e"/>
<path d="M1951.3 406.3 L2624.5 -257 L2554 -321.6Z" fill="#94fb49"/>
<path d="M1951.3 406.3 L2564.1 -313.1 L2488.2 -371.3Z" fill="#96fa45"/>
<path d="M1951.3 406.3 L2499 -363.8 L2418.3 -415.1Z" fill="#97fa41"/>
<path d="M1951.3 406.3 L2429.7 -408.5 L2344.9 -452.7Z" fill="#99fa3c"/>
<path d="M1951.3 406.3 L2356.9 -447.1 L2268.5 -483.7Z" fill="#9cfa38"/>
<path d="M1951.3 406.3 L2280.9 -479.2 L2189.6 -507.9Z" fill="#9ffa32"/>
<path d="M1951.3 406.3 L2202.4 -504.5 L2109 -525.2Z" fill="#a3fa2e"/>
<path d="M1951.3 406.3 L2122 -522.9 L2027.1 -535.4Z" fill="#a6fa28"/>
<path d="M1951.3 406.3 L2040.3 -534.2 L1944.7 -538.4Z" fill="#aafa25"/>
<path d="M1951.3 406.3 L1957.9 -538.4 L1862.3 -534.2Z" fill="#acfa24"/>
<path d="M1951.3 406.3 L1875.5 -535.4 L1780.6 -522.9Z" fill="#b0fa22"/>
<path d="M1951.3 406.3 L1793.6 -525.2 L1700.2 -504.5Z" fill="#b2fa21"/>
<path d="M1951.3 406.3 L1713 -507.9 L1621.7 -479.2Z" fill="#b6fa20"/>
<path d="M1951.3 406.3 L1634.1 -483.7 L1545.7 -447.1Z" fill="#b8fa20"/>
<path d="M1951.3 406.3 L1557.7 -452.7 L1472.9 -408.5Z" fill="#bcfb20"/>
<path d="M1951.3 406.3 L1484.3 -415.1 L1403.6 -363.8Z" fill="#befb20"/>
<path d="M1951.3 406.3 L1414.4 -371.3 L1338.5 -313.1Z" fill="#c1fb20"/>
<path d="M1951.3 406.3 L1348.6 -321.6 L1278.1 -257Z" fill="#c4fa20"/>
<path d="M1951.3 406.3 L1287.4 -266.4 L1222.8 -195.9Z" fill="#c6fa20"/>
<path d="M1951.3 406.3 L1231.3 -206 L1173 -130.1Z" fill="#c8f920"/>
<path d="M1951.3 406.3 L1180.6 -141 L1129.2 -60.3Z" fill="#cbf820"/>
<path d="M1951.3 406.3 L1135.8 -71.8 L1091.6 13Z" fill="#cdf820"/>
<path d="M1951.3 406.3 L1097.2 1.1 L1060.6 89.4Z" fill="#cff720"/>
<path d="M1951.3 406.3 L1065.1 77 L1036.3 168.2Z" fill="#d1f620"/>
<path d="M1951.3 406.3 L1039.8 155.4 L1019.1 248.8Z" fill="#d3f620"/>
<path d="M1951.3 406.3 L1021.3 235.8 L1008.9 330.5Z" fill="#d5f520"/>
<path d="M1951.3 406.3 L1010 317.4 L1005.8 412.9Z" fill="#d7f420"/>
</g>

<ellipse cx="1805.8" cy="406.3" rx="218.2" ry="123.5" fill="url(#rb0)"/>
<ellipse cx="2067.7" cy="406.3" rx="240" ry="196.2" fill="url(#rb1)"/>
<ellipse cx="1914.9" cy="406.3" rx="50.9" ry="43.6" fill="url(#rb2)"/>
<g filter="url(#dbb)">
<path d="M2024 406.3 L2023.1 403.1 L2021.9 400.1 L2020.4 397.1 L2018.6 394.3 L2016.6 391.6 L2014.4 389.2 L2012 386.9 L2009.4 384.9 L2006.6 383.1 L2003.7 381.6 L2000.6 380.3 L1997.5 379.3 L1994.3 378.5 L1991 378.1 L1987.7 378 L1984.4 378.1 L1981.1 378.5 L1977.8 379.3 L1974.7 380.3 L1971.6 381.6 L1968.7 383.1 L1965.9 384.9 L1963.3 386.9 L1960.9 389.2 L1958.7 391.6 L1956.7 394.3 L1955 397.1 L1953.5 400.1 L1952.2 403.1 L1951.3 406.3 L1952.2 409.5 L1953.5 412.5 L1955 415.5 L1956.7 418.3 L1958.7 421 L1960.9 423.4 L1963.3 425.7 L1965.9 427.7 L1968.7 429.5 L1971.6 431 L1974.7 432.3 L1977.8 433.3 L1981.1 434.1 L1984.4 434.5 L1987.7 434.6 L1991 434.5 L1994.3 434.1 L1997.5 433.3 L2000.6 432.3 L2003.7 431 L2006.6 429.5 L2009.4 427.7 L2012 425.7 L2014.4 423.4 L2016.6 421 L2018.6 418.3 L2020.4 415.5 L2021.9 412.5 L2023.1 409.5 L2024 406.3Z" fill="#1c50f0" fill-opacity="0.95"/>
<path d="M2024 406.3 L2022.5 403.7 L2020.9 401.3 L2019 399 L2017 396.8 L2014.9 394.7 L2012.6 392.9 L2010.1 391.2 L2007.6 389.6 L2004.9 388.3 L2002.2 387.1 L1999.4 386.2 L1996.5 385.5 L1993.6 384.9 L1990.6 384.6 L1987.7 384.5 L1984.7 384.6 L1981.7 384.9 L1978.8 385.5 L1976 386.2 L1973.1 387.1 L1970.4 388.3 L1967.7 389.6 L1965.2 391.2 L1962.8 392.9 L1960.5 394.7 L1958.3 396.8 L1956.3 399 L1954.5 401.3 L1952.8 403.7 L1951.3 406.3 L1952.8 408.9 L1954.5 411.3 L1956.3 413.6 L1958.3 415.8 L1960.5 417.9 L1962.8 419.7 L1965.2 421.4 L1967.7 423 L1970.4 424.3 L1973.1 425.5 L1976 426.4 L1978.8 427.1 L1981.7 427.7 L1984.7 428 L1987.7 428.1 L1990.6 428 L1993.6 427.7 L1996.5 427.1 L1999.4 426.4 L2002.2 425.5 L2004.9 424.3 L2007.6 423 L2010.1 421.4 L2012.6 419.7 L2014.9 417.9 L2017 415.8 L2019 413.6 L2020.9 411.3 L2022.5 408.9 L2024 406.3Z" fill="#50c8f4" fill-opacity="1"/>
<path d="M2024 406.3 L2022.2 404.3 L2020.2 402.3 L2018.1 400.5 L2016 398.8 L2013.7 397.3 L2011.4 395.8 L2008.9 394.6 L2006.4 393.4 L2003.9 392.4 L2001.2 391.5 L1998.6 390.8 L1995.9 390.3 L1993.2 389.9 L1990.4 389.7 L1987.7 389.6 L1984.9 389.7 L1982.2 389.9 L1979.4 390.3 L1976.7 390.8 L1974.1 391.5 L1971.5 392.4 L1968.9 393.4 L1966.4 394.6 L1964 395.8 L1961.6 397.3 L1959.4 398.8 L1957.2 400.5 L1955.1 402.3 L1953.2 404.3 L1951.3 406.3 L1953.2 408.3 L1955.1 410.3 L1957.2 412.1 L1959.4 413.8 L1961.6 415.3 L1964 416.8 L1966.4 418 L1968.9 419.2 L1971.5 420.2 L1974.1 421.1 L1976.7 421.8 L1979.4 422.3 L1982.2 422.7 L1984.9 422.9 L1987.7 423 L1990.4 422.9 L1993.2 422.7 L1995.9 422.3 L1998.6 421.8 L2001.2 421.1 L2003.9 420.2 L2006.4 419.2 L2008.9 418 L2011.4 416.8 L2013.7 415.3 L2016 413.8 L2018.1 412.1 L2020.2 410.3 L2022.2 408.3 L2024 406.3Z" fill="#90f4c0" fill-opacity="1"/>
<path d="M2024 406.3 L2021.9 404.9 L2019.6 403.6 L2017.4 402.4 L2015.1 401.3 L2012.7 400.3 L2010.3 399.4 L2007.9 398.6 L2005.4 397.8 L2002.9 397.2 L2000.4 396.6 L1997.9 396.2 L1995.3 395.8 L1992.8 395.6 L1990.2 395.4 L1987.7 395.4 L1985.1 395.4 L1982.5 395.6 L1980 395.8 L1977.4 396.2 L1974.9 396.6 L1972.4 397.2 L1969.9 397.8 L1967.5 398.6 L1965 399.4 L1962.6 400.3 L1960.3 401.3 L1958 402.4 L1955.7 403.6 L1953.5 404.9 L1951.3 406.3 L1953.5 407.7 L1955.7 409 L1958 410.2 L1960.3 411.3 L1962.6 412.3 L1965 413.2 L1967.5 414 L1969.9 414.8 L1972.4 415.4 L1974.9 416 L1977.4 416.4 L1980 416.8 L1982.5 417 L1985.1 417.2 L1987.7 417.2 L1990.2 417.2 L1992.8 417 L1995.3 416.8 L1997.9 416.4 L2000.4 416 L2002.9 415.4 L2005.4 414.8 L2007.9 414 L2010.3 413.2 L2012.7 412.3 L2015.1 411.3 L2017.4 410.2 L2019.6 409 L2021.9 407.7 L2024 406.3Z" fill="#c0f440" fill-opacity="1"/>
<ellipse cx="2036.4" cy="406.3" rx="43.6" ry="39.2" fill="url(#db0)"/>
<ellipse cx="1941.1" cy="383" rx="14.5" ry="21.8" fill="url(#db1)"/>
<ellipse cx="1941.1" cy="429.6" rx="14.5" ry="21.8" fill="url(#db2)"/>
<ellipse cx="1949.8" cy="395.4" rx="8.7" ry="10.2" fill="url(#db3)"/>
<ellipse cx="1949.8" cy="417.2" rx="8.7" ry="10.2" fill="url(#db4)"/>
<path d="M1925.1 401.9 L1951.3 406.3 L1925.1 410.7 Z" fill="#e02c10"/>
</g>
<g filter="url(#lbb)" fill="none" stroke-linejoin="round">
<path d="M1825.5 406.3 L1825.6 412.5 L1826.1 418.7 L1826.8 424.9 L1827.9 431.1 L1829.2 437.1 L1830.8 443.1 L1832.7 449 L1834.9 454.8 L1837.3 460.5 L1840 466 L1843 471.4 L1846.2 476.7 L1849.6 481.7 L1853.3 486.6 L1857.2 491.2 L1861.3 495.7 L1865.6 499.9 L1870 504 L1874.6 507.7 L1879.4 511.3 L1884.3 514.6 L1889.4 517.6 L1894.5 520.4 L1899.7 522.9 L1905.1 525.2 L1910.5 527.1 L1915.9 528.9 L1921.4 530.3 L1926.9 531.5 L1932.4 532.4 L1937.9 533 L1943.3 533.4 L1948.8 533.5 L1954.1 533.3 L1959.5 532.9 L1964.7 532.3 L1969.9 531.4 L1974.9 530.3 L1979.8 528.9 L1984.7 527.4 L1989.3 525.6 L1993.9 523.7 L1998.2 521.5 L2002.5 519.2 L2006.5 516.8 L2010.4 514.1 L2014.1 511.4 L2017.6 508.5 L2020.9 505.5 L2024 502.4 L2027 499.2 L2029.7 495.9 L2032.2 492.5 L2034.5 489.1 L2036.6 485.7 L2038.5 482.2 L2040.2 478.8 L2041.8 475.3 L2043.1 471.8 L2044.2 468.4 L2045.2 464.9 L2045.9 461.5 L2046.5 458.2 L2046.9 454.9 L2047.2 451.7 L2047.3 448.6 L2047.3 445.6 L2047.1 442.6 L2046.8 439.8 L2046.4 437 L2045.9 434.4 L2045.2 431.9 L2044.5 429.5 L2043.7 427.2 L2042.8 425.1 L2041.9 423.1 L2040.9 421.2 L2039.9 419.4 L2038.9 417.8 L2037.8 416.3 L2036.7 414.9 L2035.6 413.7 L2034.5 412.5 L2033.5 411.5 L2032.5 410.6 L2031.5 409.8 L2030.5 409.1 L2029.6 408.5 L2028.7 408 L2027.9 407.6 L2027.2 407.2 L2026.5 406.9 L2025.9 406.7 L2025.4 406.6 L2025 406.5 L2024.6 406.4 L2024.4 406.3 L2024.2 406.3 L2024.1 406.3 L2024 406.3 L2024.1 406.3 L2024.2 406.3 L2024.4 406.3 L2024.6 406.2 L2025 406.1 L2025.4 406 L2025.9 405.9 L2026.5 405.7 L2027.2 405.4 L2027.9 405 L2028.7 404.6 L2029.6 404.1 L2030.5 403.5 L2031.5 402.8 L2032.5 402 L2033.5 401.1 L2034.5 400.1 L2035.6 398.9 L2036.7 397.7 L2037.8 396.3 L2038.9 394.8 L2039.9 393.2 L2040.9 391.4 L2041.9 389.5 L2042.8 387.5 L2043.7 385.4 L2044.5 383.1 L2045.2 380.7 L2045.9 378.2 L2046.4 375.6 L2046.8 372.8 L2047.1 370 L2047.3 367 L2047.3 364 L2047.2 360.9 L2046.9 357.7 L2046.5 354.4 L2045.9 351.1 L2045.2 347.7 L2044.2 344.2 L2043.1 340.8 L2041.8 337.3 L2040.2 333.8 L2038.5 330.4 L2036.6 326.9 L2034.5 323.5 L2032.2 320.1 L2029.7 316.7 L2027 313.4 L2024 310.2 L2020.9 307.1 L2017.6 304.1 L2014.1 301.2 L2010.4 298.5 L2006.5 295.8 L2002.5 293.4 L1998.2 291.1 L1993.9 288.9 L1989.3 287 L1984.7 285.2 L1979.8 283.7 L1974.9 282.3 L1969.9 281.2 L1964.7 280.3 L1959.5 279.7 L1954.1 279.3 L1948.8 279.1 L1943.3 279.2 L1937.9 279.6 L1932.4 280.2 L1926.9 281.1 L1921.4 282.3 L1915.9 283.7 L1910.5 285.5 L1905.1 287.4 L1899.7 289.7 L1894.5 292.2 L1889.4 295 L1884.3 298 L1879.4 301.3 L1874.6 304.9 L1870 308.6 L1865.6 312.7 L1861.3 316.9 L1857.2 321.4 L1853.3 326 L1849.6 330.9 L1846.2 335.9 L1843 341.2 L1840 346.6 L1837.3 352.1 L1834.9 357.8 L1832.7 363.6 L1830.8 369.5 L1829.2 375.5 L1827.9 381.5 L1826.8 387.7 L1826.1 393.9 L1825.6 400.1 L1825.5 406.3" stroke="#1c2a50" stroke-width="2.4"/>
<path d="M1859.7 406.3 L1859.8 411.5 L1860.2 416.6 L1861 421.7 L1862 426.8 L1863.3 431.7 L1864.8 436.6 L1866.7 441.4 L1868.8 446.1 L1871.1 450.7 L1873.7 455.1 L1876.6 459.3 L1879.6 463.4 L1882.9 467.3 L1886.4 471 L1890 474.5 L1893.8 477.8 L1897.8 480.9 L1902 483.7 L1906.2 486.3 L1910.6 488.6 L1915.1 490.7 L1919.6 492.6 L1924.2 494.2 L1928.9 495.6 L1933.6 496.7 L1938.3 497.5 L1943 498.1 L1947.7 498.5 L1952.4 498.6 L1957 498.5 L1961.6 498.1 L1966.1 497.6 L1970.5 496.8 L1974.8 495.8 L1979 494.6 L1983.1 493.2 L1987.1 491.7 L1990.9 490 L1994.6 488.1 L1998.1 486.1 L2001.4 484 L2004.7 481.7 L2007.7 479.4 L2010.5 476.9 L2013.2 474.4 L2015.7 471.8 L2018.1 469.2 L2020.2 466.5 L2022.2 463.8 L2024 461.1 L2025.7 458.3 L2027.1 455.6 L2028.4 452.9 L2029.6 450.2 L2030.6 447.6 L2031.4 445 L2032.1 442.5 L2032.7 440 L2033.1 437.6 L2033.5 435.3 L2033.7 433.1 L2033.8 430.9 L2033.8 428.8 L2033.7 426.9 L2033.6 425 L2033.3 423.2 L2033.1 421.6 L2032.7 420 L2032.4 418.5 L2031.9 417.2 L2031.5 415.9 L2031 414.8 L2030.6 413.7 L2030.1 412.7 L2029.6 411.8 L2029.1 411 L2028.6 410.3 L2028.1 409.7 L2027.7 409.1 L2027.2 408.6 L2026.8 408.2 L2026.5 407.8 L2026.1 407.5 L2025.8 407.3 L2025.5 407 L2025.2 406.9 L2025 406.7 L2024.8 406.6 L2024.6 406.5 L2024.5 406.4 L2024.3 406.4 L2024.3 406.4 L2024.2 406.3 L2024.1 406.3 L2024.1 406.3 L2024.1 406.3 L2024 406.3 L2024 406.3 L2024 406.3 L2024 406.3 L2024 406.3 L2024 406.3 L2024 406.3 L2024.1 406.3 L2024.1 406.3 L2024.1 406.3 L2024.2 406.3 L2024.3 406.2 L2024.3 406.2 L2024.5 406.2 L2024.6 406.1 L2024.8 406 L2025 405.9 L2025.2 405.7 L2025.5 405.6 L2025.8 405.3 L2026.1 405.1 L2026.5 404.8 L2026.8 404.4 L2027.2 404 L2027.7 403.5 L2028.1 402.9 L2028.6 402.3 L2029.1 401.6 L2029.6 400.8 L2030.1 399.9 L2030.6 398.9 L2031 397.8 L2031.5 396.7 L2031.9 395.4 L2032.4 394.1 L2032.7 392.6 L2033.1 391 L2033.3 389.4 L2033.6 387.6 L2033.7 385.7 L2033.8 383.8 L2033.8 381.7 L2033.7 379.5 L2033.5 377.3 L2033.1 375 L2032.7 372.6 L2032.1 370.1 L2031.4 367.6 L2030.6 365 L2029.6 362.4 L2028.4 359.7 L2027.1 357 L2025.7 354.3 L2024 351.5 L2022.2 348.8 L2020.2 346.1 L2018.1 343.4 L2015.7 340.8 L2013.2 338.2 L2010.5 335.7 L2007.7 333.2 L2004.7 330.9 L2001.4 328.6 L1998.1 326.5 L1994.6 324.5 L1990.9 322.6 L1987.1 320.9 L1983.1 319.4 L1979 318 L1974.8 316.8 L1970.5 315.8 L1966.1 315 L1961.6 314.5 L1957 314.1 L1952.4 314 L1947.7 314.1 L1943 314.5 L1938.3 315.1 L1933.6 315.9 L1928.9 317 L1924.2 318.4 L1919.6 320 L1915.1 321.9 L1910.6 324 L1906.2 326.3 L1902 328.9 L1897.8 331.7 L1893.8 334.8 L1890 338.1 L1886.4 341.6 L1882.9 345.3 L1879.6 349.2 L1876.6 353.3 L1873.7 357.5 L1871.1 361.9 L1868.8 366.5 L1866.7 371.2 L1864.8 376 L1863.3 380.9 L1862 385.8 L1861 390.9 L1860.2 396 L1859.8 401.1 L1859.7 406.3" stroke="#1f3a8a" stroke-width="2.3"/>
<path d="M1875.7 406.3 L1875.8 411 L1876.3 415.6 L1877 420.2 L1878 424.7 L1879.3 429.2 L1880.9 433.6 L1882.8 437.9 L1884.9 442 L1887.2 446 L1889.8 449.9 L1892.7 453.5 L1895.7 457.1 L1899 460.4 L1902.4 463.5 L1906.1 466.4 L1909.8 469 L1913.7 471.5 L1917.8 473.7 L1921.9 475.6 L1926.1 477.4 L1930.4 478.8 L1934.8 480.1 L1939.2 481.1 L1943.6 481.8 L1948 482.3 L1952.4 482.6 L1956.7 482.6 L1961 482.4 L1965.3 482 L1969.5 481.4 L1973.5 480.5 L1977.5 479.5 L1981.4 478.3 L1985.2 476.9 L1988.8 475.4 L1992.3 473.8 L1995.6 472 L1998.8 470 L2001.8 468 L2004.6 465.9 L2007.3 463.7 L2009.9 461.5 L2012.2 459.2 L2014.4 456.8 L2016.4 454.4 L2018.2 452 L2019.9 449.6 L2021.5 447.3 L2022.8 444.9 L2024 442.6 L2025.1 440.3 L2026 438 L2026.8 435.8 L2027.5 433.7 L2028 431.7 L2028.5 429.7 L2028.8 427.8 L2029.1 426 L2029.2 424.2 L2029.3 422.6 L2029.3 421 L2029.3 419.6 L2029.2 418.2 L2029 416.9 L2028.9 415.8 L2028.6 414.7 L2028.4 413.7 L2028.1 412.7 L2027.8 411.9 L2027.6 411.2 L2027.3 410.5 L2027 409.9 L2026.7 409.3 L2026.4 408.8 L2026.1 408.4 L2025.9 408.1 L2025.7 407.7 L2025.4 407.5 L2025.2 407.2 L2025 407 L2024.9 406.9 L2024.7 406.7 L2024.6 406.6 L2024.5 406.6 L2024.4 406.5 L2024.3 406.4 L2024.2 406.4 L2024.2 406.4 L2024.1 406.3 L2024.1 406.3 L2024.1 406.3 L2024.1 406.3 L2024 406.3 L2024 406.3 L2024 406.3 L2024 406.3 L2024 406.3 L2024 406.3 L2024 406.3 L2024 406.3 L2024 406.3 L2024 406.3 L2024 406.3 L2024 406.3 L2024 406.3 L2024 406.3 L2024 406.3 L2024.1 406.3 L2024.1 406.3 L2024.1 406.3 L2024.1 406.3 L2024.2 406.2 L2024.2 406.2 L2024.3 406.2 L2024.4 406.1 L2024.5 406 L2024.6 406 L2024.7 405.9 L2024.9 405.7 L2025 405.6 L2025.2 405.4 L2025.4 405.1 L2025.7 404.9 L2025.9 404.5 L2026.1 404.2 L2026.4 403.8 L2026.7 403.3 L2027 402.7 L2027.3 402.1 L2027.6 401.4 L2027.8 400.7 L2028.1 399.9 L2028.4 398.9 L2028.6 397.9 L2028.9 396.8 L2029 395.7 L2029.2 394.4 L2029.3 393 L2029.3 391.6 L2029.3 390 L2029.2 388.4 L2029.1 386.6 L2028.8 384.8 L2028.5 382.9 L2028 380.9 L2027.5 378.9 L2026.8 376.8 L2026 374.6 L2025.1 372.3 L2024 370 L2022.8 367.7 L2021.5 365.3 L2019.9 363 L2018.2 360.6 L2016.4 358.2 L2014.4 355.8 L2012.2 353.4 L2009.9 351.1 L2007.3 348.9 L2004.6 346.7 L2001.8 344.6 L1998.8 342.6 L1995.6 340.6 L1992.3 338.8 L1988.8 337.2 L1985.2 335.7 L1981.4 334.3 L1977.5 333.1 L1973.5 332.1 L1969.5 331.2 L1965.3 330.6 L1961 330.2 L1956.7 330 L1952.4 330 L1948 330.3 L1943.6 330.8 L1939.2 331.5 L1934.8 332.5 L1930.4 333.8 L1926.1 335.2 L1921.9 337 L1917.8 338.9 L1913.7 341.1 L1909.8 343.6 L1906.1 346.2 L1902.4 349.1 L1899 352.2 L1895.7 355.5 L1892.7 359.1 L1889.8 362.7 L1887.2 366.6 L1884.9 370.6 L1882.8 374.7 L1880.9 379 L1879.3 383.4 L1878 387.9 L1877 392.4 L1876.3 397 L1875.8 401.6 L1875.7 406.3" stroke="#2248b0" stroke-width="2.2"/>
<path d="M1888 406.3 L1888.2 410.6 L1888.6 414.8 L1889.4 419 L1890.4 423.2 L1891.8 427.2 L1893.4 431.2 L1895.3 435 L1897.5 438.8 L1899.9 442.3 L1902.6 445.7 L1905.4 449 L1908.5 452 L1911.8 454.8 L1915.3 457.4 L1918.9 459.8 L1922.7 462 L1926.6 463.9 L1930.5 465.6 L1934.6 467 L1938.7 468.2 L1942.9 469.2 L1947.1 469.9 L1951.3 470.3 L1955.5 470.6 L1959.7 470.6 L1963.8 470.4 L1967.9 470 L1971.9 469.3 L1975.7 468.5 L1979.5 467.5 L1983.2 466.3 L1986.7 465 L1990.2 463.5 L1993.4 461.9 L1996.5 460.2 L1999.5 458.4 L2002.3 456.5 L2004.9 454.5 L2007.4 452.5 L2009.7 450.4 L2011.8 448.3 L2013.8 446.1 L2015.6 444 L2017.2 441.8 L2018.7 439.7 L2020.1 437.6 L2021.3 435.6 L2022.3 433.6 L2023.2 431.6 L2024 429.7 L2024.7 427.9 L2025.3 426.1 L2025.7 424.4 L2026.1 422.8 L2026.4 421.3 L2026.6 419.9 L2026.8 418.5 L2026.8 417.3 L2026.9 416.1 L2026.9 415 L2026.8 414 L2026.7 413.1 L2026.6 412.2 L2026.5 411.5 L2026.3 410.8 L2026.2 410.2 L2026 409.6 L2025.8 409.1 L2025.6 408.7 L2025.5 408.3 L2025.3 408 L2025.2 407.7 L2025 407.4 L2024.9 407.2 L2024.8 407 L2024.7 406.9 L2024.6 406.8 L2024.5 406.7 L2024.4 406.6 L2024.3 406.5 L2024.3 406.5 L2024.2 406.4 L2024.2 406.4 L2024.1 406.4 L2024.1 406.3 L2024.1 406.3 L2024.1 406.3 L2024.1 406.3 L2024 406.3 L2024 406.3 L2024 406.3 L2024 406.3 L2024 406.3 L2024 406.3 L2024 406.3 L2024 406.3 L2024 406.3 L2024 406.3 L2024 406.3 L2024 406.3 L2024 406.3 L2024 406.3 L2024 406.3 L2024 406.3 L2024 406.3 L2024 406.3 L2024 406.3 L2024 406.3 L2024 406.3 L2024 406.3 L2024 406.3 L2024.1 406.3 L2024.1 406.3 L2024.1 406.3 L2024.1 406.3 L2024.1 406.2 L2024.2 406.2 L2024.2 406.2 L2024.3 406.1 L2024.3 406.1 L2024.4 406 L2024.5 405.9 L2024.6 405.8 L2024.7 405.7 L2024.8 405.6 L2024.9 405.4 L2025 405.2 L2025.2 404.9 L2025.3 404.6 L2025.5 404.3 L2025.6 403.9 L2025.8 403.5 L2026 403 L2026.2 402.4 L2026.3 401.8 L2026.5 401.1 L2026.6 400.4 L2026.7 399.5 L2026.8 398.6 L2026.9 397.6 L2026.9 396.5 L2026.8 395.3 L2026.8 394.1 L2026.6 392.7 L2026.4 391.3 L2026.1 389.8 L2025.7 388.2 L2025.3 386.5 L2024.7 384.7 L2024 382.9 L2023.2 381 L2022.3 379 L2021.3 377 L2020.1 375 L2018.7 372.9 L2017.2 370.8 L2015.6 368.6 L2013.8 366.5 L2011.8 364.3 L2009.7 362.2 L2007.4 360.1 L2004.9 358.1 L2002.3 356.1 L1999.5 354.2 L1996.5 352.4 L1993.4 350.7 L1990.2 349.1 L1986.7 347.6 L1983.2 346.3 L1979.5 345.1 L1975.7 344.1 L1971.9 343.3 L1967.9 342.6 L1963.8 342.2 L1959.7 342 L1955.5 342 L1951.3 342.3 L1947.1 342.7 L1942.9 343.4 L1938.7 344.4 L1934.6 345.6 L1930.5 347 L1926.6 348.7 L1922.7 350.6 L1918.9 352.8 L1915.3 355.2 L1911.8 357.8 L1908.5 360.6 L1905.4 363.6 L1902.6 366.9 L1899.9 370.3 L1897.5 373.8 L1895.3 377.6 L1893.4 381.4 L1891.8 385.4 L1890.4 389.4 L1889.4 393.6 L1888.6 397.8 L1888.2 402 L1888 406.3" stroke="#2a5cc8" stroke-width="2.0"/>
<path d="M1896 406.3 L1896.2 410.3 L1896.7 414.3 L1897.5 418.3 L1898.6 422.1 L1900 425.9 L1901.7 429.6 L1903.7 433.2 L1906 436.6 L1908.5 439.8 L1911.3 442.9 L1914.3 445.8 L1917.5 448.4 L1920.9 450.9 L1924.4 453.1 L1928.1 455.1 L1932 456.9 L1935.9 458.4 L1939.9 459.6 L1944 460.6 L1948.1 461.4 L1952.3 461.9 L1956.4 462.2 L1960.5 462.2 L1964.6 462.1 L1968.6 461.7 L1972.5 461.1 L1976.4 460.3 L1980.1 459.3 L1983.7 458.2 L1987.2 456.9 L1990.6 455.5 L1993.8 454 L1996.8 452.3 L1999.7 450.6 L2002.4 448.8 L2004.9 446.9 L2007.3 445 L2009.5 443 L2011.5 441 L2013.4 439 L2015.1 437.1 L2016.6 435.1 L2018 433.2 L2019.3 431.3 L2020.4 429.5 L2021.3 427.7 L2022.2 426 L2022.9 424.3 L2023.5 422.7 L2024 421.3 L2024.5 419.8 L2024.8 418.5 L2025.1 417.3 L2025.3 416.1 L2025.4 415 L2025.5 414 L2025.6 413.1 L2025.6 412.3 L2025.5 411.5 L2025.5 410.8 L2025.4 410.2 L2025.4 409.7 L2025.3 409.2 L2025.2 408.7 L2025.1 408.3 L2025 408 L2024.9 407.7 L2024.8 407.5 L2024.7 407.3 L2024.6 407.1 L2024.5 406.9 L2024.4 406.8 L2024.4 406.7 L2024.3 406.6 L2024.3 406.5 L2024.2 406.5 L2024.2 406.4 L2024.2 406.4 L2024.1 406.4 L2024.1 406.4 L2024.1 406.3 L2024.1 406.3 L2024.1 406.3 L2024.1 406.3 L2024 406.3 L2024 406.3 L2024 406.3 L2024 406.3 L2024 406.3 L2024 406.3 L2024 406.3 L2024 406.3 L2024 406.3 L2024 406.3 L2024 406.3 L2024 406.3 L2024 406.3 L2024 406.3 L2024 406.3 L2024 406.3 L2024 406.3 L2024 406.3 L2024 406.3 L2024 406.3 L2024 406.3 L2024 406.3 L2024 406.3 L2024 406.3 L2024 406.3 L2024 406.3 L2024 406.3 L2024 406.3 L2024 406.3 L2024 406.3 L2024 406.3 L2024.1 406.3 L2024.1 406.3 L2024.1 406.3 L2024.1 406.3 L2024.1 406.2 L2024.1 406.2 L2024.2 406.2 L2024.2 406.2 L2024.2 406.1 L2024.3 406.1 L2024.3 406 L2024.4 405.9 L2024.4 405.8 L2024.5 405.7 L2024.6 405.5 L2024.7 405.3 L2024.8 405.1 L2024.9 404.9 L2025 404.6 L2025.1 404.3 L2025.2 403.9 L2025.3 403.4 L2025.4 402.9 L2025.4 402.4 L2025.5 401.8 L2025.5 401.1 L2025.6 400.3 L2025.6 399.5 L2025.5 398.6 L2025.4 397.6 L2025.3 396.5 L2025.1 395.3 L2024.8 394.1 L2024.5 392.8 L2024 391.3 L2023.5 389.9 L2022.9 388.3 L2022.2 386.6 L2021.3 384.9 L2020.4 383.1 L2019.3 381.3 L2018 379.4 L2016.6 377.5 L2015.1 375.5 L2013.4 373.6 L2011.5 371.6 L2009.5 369.6 L2007.3 367.6 L2004.9 365.7 L2002.4 363.8 L1999.7 362 L1996.8 360.3 L1993.8 358.6 L1990.6 357.1 L1987.2 355.7 L1983.7 354.4 L1980.1 353.3 L1976.4 352.3 L1972.5 351.5 L1968.6 350.9 L1964.6 350.5 L1960.5 350.4 L1956.4 350.4 L1952.3 350.7 L1948.1 351.2 L1944 352 L1939.9 353 L1935.9 354.2 L1932 355.7 L1928.1 357.5 L1924.4 359.5 L1920.9 361.7 L1917.5 364.2 L1914.3 366.8 L1911.3 369.7 L1908.5 372.8 L1906 376 L1903.7 379.4 L1901.7 383 L1900 386.7 L1898.6 390.5 L1897.5 394.3 L1896.7 398.3 L1896.2 402.3 L1896 406.3" stroke="#3b7fd8" stroke-width="1.9"/>
<path d="M1903.3 406.3 L1903.5 410.1 L1904 413.8 L1904.9 417.6 L1906.1 421.2 L1907.6 424.7 L1909.5 428.1 L1911.7 431.4 L1914.1 434.5 L1916.8 437.4 L1919.8 440.1 L1923 442.6 L1926.4 444.9 L1930 447 L1933.7 448.8 L1937.6 450.3 L1941.6 451.6 L1945.6 452.6 L1949.8 453.4 L1953.9 453.9 L1958 454.2 L1962.2 454.3 L1966.2 454.1 L1970.3 453.7 L1974.2 453.1 L1978 452.3 L1981.8 451.3 L1985.4 450.1 L1988.8 448.8 L1992.1 447.4 L1995.2 445.9 L1998.2 444.3 L2001 442.6 L2003.6 440.8 L2006 439.1 L2008.3 437.2 L2010.3 435.4 L2012.2 433.6 L2013.9 431.7 L2015.5 430 L2016.9 428.2 L2018.2 426.5 L2019.3 424.9 L2020.2 423.3 L2021.1 421.8 L2021.8 420.3 L2022.4 419 L2023 417.7 L2023.4 416.5 L2023.7 415.4 L2024 414.3 L2024.3 413.4 L2024.4 412.5 L2024.5 411.7 L2024.6 411 L2024.7 410.4 L2024.7 409.8 L2024.7 409.3 L2024.7 408.8 L2024.7 408.5 L2024.6 408.1 L2024.6 407.8 L2024.5 407.5 L2024.5 407.3 L2024.4 407.1 L2024.4 407 L2024.3 406.8 L2024.3 406.7 L2024.2 406.6 L2024.2 406.6 L2024.2 406.5 L2024.2 406.5 L2024.1 406.4 L2024.1 406.4 L2024.1 406.4 L2024.1 406.3 L2024.1 406.3 L2024.1 406.3 L2024 406.3 L2024 406.3 L2024 406.3 L2024 406.3 L2024 406.3 L2024 406.3 L2024 406.3 L2024 406.3 L2024 406.3 L2024 406.3 L2024 406.3 L2024 406.3 L2024 406.3 L2024 406.3 L2024 406.3 L2024 406.3 L2024 406.3 L2024 406.3 L2024 406.3 L2024 406.3 L2024 406.3 L2024 406.3 L2024 406.3 L2024 406.3 L2024 406.3 L2024 406.3 L2024 406.3 L2024 406.3 L2024 406.3 L2024 406.3 L2024 406.3 L2024 406.3 L2024 406.3 L2024 406.3 L2024 406.3 L2024 406.3 L2024 406.3 L2024 406.3 L2024 406.3 L2024 406.3 L2024 406.3 L2024 406.3 L2024 406.3 L2024 406.3 L2024 406.3 L2024.1 406.3 L2024.1 406.3 L2024.1 406.3 L2024.1 406.2 L2024.1 406.2 L2024.1 406.2 L2024.2 406.1 L2024.2 406.1 L2024.2 406 L2024.2 406 L2024.3 405.9 L2024.3 405.8 L2024.4 405.6 L2024.4 405.5 L2024.5 405.3 L2024.5 405.1 L2024.6 404.8 L2024.6 404.5 L2024.7 404.1 L2024.7 403.8 L2024.7 403.3 L2024.7 402.8 L2024.7 402.2 L2024.6 401.6 L2024.5 400.9 L2024.4 400.1 L2024.3 399.2 L2024 398.3 L2023.7 397.2 L2023.4 396.1 L2023 394.9 L2022.4 393.6 L2021.8 392.3 L2021.1 390.8 L2020.2 389.3 L2019.3 387.7 L2018.2 386.1 L2016.9 384.4 L2015.5 382.6 L2013.9 380.9 L2012.2 379 L2010.3 377.2 L2008.3 375.4 L2006 373.5 L2003.6 371.8 L2001 370 L1998.2 368.3 L1995.2 366.7 L1992.1 365.2 L1988.8 363.8 L1985.4 362.5 L1981.8 361.3 L1978 360.3 L1974.2 359.5 L1970.3 358.9 L1966.2 358.5 L1962.2 358.3 L1958 358.4 L1953.9 358.7 L1949.8 359.2 L1945.6 360 L1941.6 361 L1937.6 362.3 L1933.7 363.8 L1930 365.6 L1926.4 367.7 L1923 370 L1919.8 372.5 L1916.8 375.2 L1914.1 378.1 L1911.7 381.2 L1909.5 384.5 L1907.6 387.9 L1906.1 391.4 L1904.9 395 L1904 398.8 L1903.5 402.5 L1903.3 406.3" stroke="#55a8e0" stroke-width="1.8"/>
<path d="M1909.1 406.3 L1909.3 409.9 L1909.9 413.5 L1910.9 417 L1912.3 420.4 L1914.1 423.7 L1916.2 426.9 L1918.6 429.8 L1921.4 432.6 L1924.4 435.2 L1927.7 437.6 L1931.3 439.7 L1935 441.5 L1938.9 443.1 L1943 444.4 L1947.1 445.4 L1951.4 446.2 L1955.6 446.7 L1959.9 447 L1964.1 447 L1968.4 446.7 L1972.5 446.2 L1976.5 445.6 L1980.4 444.7 L1984.2 443.7 L1987.8 442.5 L1991.3 441.1 L1994.6 439.7 L1997.7 438.1 L2000.6 436.5 L2003.3 434.9 L2005.8 433.2 L2008.1 431.5 L2010.2 429.7 L2012.1 428 L2013.8 426.4 L2015.3 424.7 L2016.7 423.2 L2017.9 421.6 L2019 420.2 L2020 418.8 L2020.8 417.5 L2021.5 416.3 L2022 415.2 L2022.5 414.2 L2022.9 413.2 L2023.3 412.3 L2023.5 411.5 L2023.7 410.8 L2023.9 410.2 L2024 409.6 L2024.1 409.1 L2024.2 408.7 L2024.2 408.3 L2024.2 408 L2024.2 407.7 L2024.2 407.4 L2024.2 407.2 L2024.2 407 L2024.2 406.9 L2024.2 406.8 L2024.2 406.7 L2024.1 406.6 L2024.1 406.5 L2024.1 406.5 L2024.1 406.4 L2024.1 406.4 L2024.1 406.4 L2024.1 406.4 L2024.1 406.3 L2024.1 406.3 L2024 406.3 L2024 406.3 L2024 406.3 L2024 406.3 L2024 406.3 L2024 406.3 L2024 406.3 L2024 406.3 L2024 406.3 L2024 406.3 L2024 406.3 L2024 406.3 L2024 406.3 L2024 406.3 L2024 406.3 L2024 406.3 L2024 406.3 L2024 406.3 L2024 406.3 L2024 406.3 L2024 406.3 L2024 406.3 L2024 406.3 L2024 406.3 L2024 406.3 L2024 406.3 L2024 406.3 L2024 406.3 L2024 406.3 L2024 406.3 L2024 406.3 L2024 406.3 L2024 406.3 L2024 406.3 L2024 406.3 L2024 406.3 L2024 406.3 L2024 406.3 L2024 406.3 L2024 406.3 L2024 406.3 L2024 406.3 L2024 406.3 L2024 406.3 L2024 406.3 L2024 406.3 L2024 406.3 L2024 406.3 L2024 406.3 L2024 406.3 L2024 406.3 L2024 406.3 L2024 406.3 L2024 406.3 L2024 406.3 L2024 406.3 L2024 406.3 L2024 406.3 L2024 406.3 L2024.1 406.3 L2024.1 406.3 L2024.1 406.2 L2024.1 406.2 L2024.1 406.2 L2024.1 406.2 L2024.1 406.1 L2024.1 406.1 L2024.1 406 L2024.2 405.9 L2024.2 405.8 L2024.2 405.7 L2024.2 405.6 L2024.2 405.4 L2024.2 405.2 L2024.2 404.9 L2024.2 404.6 L2024.2 404.3 L2024.2 403.9 L2024.1 403.5 L2024 403 L2023.9 402.4 L2023.7 401.8 L2023.5 401.1 L2023.3 400.3 L2022.9 399.4 L2022.5 398.4 L2022 397.4 L2021.5 396.3 L2020.8 395.1 L2020 393.8 L2019 392.4 L2017.9 391 L2016.7 389.4 L2015.3 387.9 L2013.8 386.2 L2012.1 384.6 L2010.2 382.9 L2008.1 381.1 L2005.8 379.4 L2003.3 377.7 L2000.6 376.1 L1997.7 374.5 L1994.6 372.9 L1991.3 371.5 L1987.8 370.1 L1984.2 368.9 L1980.4 367.9 L1976.5 367 L1972.5 366.4 L1968.4 365.9 L1964.1 365.6 L1959.9 365.6 L1955.6 365.9 L1951.4 366.4 L1947.1 367.2 L1943 368.2 L1938.9 369.5 L1935 371.1 L1931.3 372.9 L1927.7 375 L1924.4 377.4 L1921.4 380 L1918.6 382.8 L1916.2 385.7 L1914.1 388.9 L1912.3 392.2 L1910.9 395.6 L1909.9 399.1 L1909.3 402.7 L1909.1 406.3" stroke="#66c0e4" stroke-width="1.7"/>
<path d="M1914.9 406.3 L1915.2 409.7 L1915.9 413.1 L1917.1 416.4 L1918.7 419.6 L1920.8 422.6 L1923.3 425.5 L1926.2 428.1 L1929.4 430.6 L1933 432.7 L1936.8 434.6 L1940.8 436.2 L1945 437.5 L1949.4 438.6 L1953.9 439.3 L1958.4 439.7 L1962.9 439.9 L1967.4 439.8 L1971.8 439.4 L1976.1 438.8 L1980.3 438 L1984.4 437.1 L1988.2 435.9 L1991.9 434.6 L1995.3 433.2 L1998.6 431.7 L2001.6 430.2 L2004.3 428.6 L2006.9 427 L2009.2 425.4 L2011.3 423.8 L2013.2 422.3 L2014.8 420.8 L2016.3 419.4 L2017.6 418 L2018.7 416.7 L2019.7 415.5 L2020.5 414.4 L2021.2 413.4 L2021.8 412.5 L2022.3 411.6 L2022.7 410.9 L2023 410.2 L2023.3 409.6 L2023.5 409.1 L2023.7 408.6 L2023.8 408.2 L2023.9 407.9 L2023.9 407.6 L2024 407.4 L2024 407.2 L2024.1 407 L2024.1 406.8 L2024.1 406.7 L2024.1 406.6 L2024.1 406.6 L2024.1 406.5 L2024.1 406.4 L2024.1 406.4 L2024.1 406.4 L2024 406.4 L2024 406.3 L2024 406.3 L2024 406.3 L2024 406.3 L2024 406.3 L2024 406.3 L2024 406.3 L2024 406.3 L2024 406.3 L2024 406.3 L2024 406.3 L2024 406.3 L2024 406.3 L2024 406.3 L2024 406.3 L2024 406.3 L2024 406.3 L2024 406.3 L2024 406.3 L2024 406.3 L2024 406.3 L2024 406.3 L2024 406.3 L2024 406.3 L2024 406.3 L2024 406.3 L2024 406.3 L2024 406.3 L2024 406.3 L2024 406.3 L2024 406.3 L2024 406.3 L2024 406.3 L2024 406.3 L2024 406.3 L2024 406.3 L2024 406.3 L2024 406.3 L2024 406.3 L2024 406.3 L2024 406.3 L2024 406.3 L2024 406.3 L2024 406.3 L2024 406.3 L2024 406.3 L2024 406.3 L2024 406.3 L2024 406.3 L2024 406.3 L2024 406.3 L2024 406.3 L2024 406.3 L2024 406.3 L2024 406.3 L2024 406.3 L2024 406.3 L2024 406.3 L2024 406.3 L2024 406.3 L2024 406.3 L2024 406.3 L2024 406.3 L2024 406.3 L2024 406.3 L2024 406.3 L2024 406.3 L2024 406.3 L2024 406.3 L2024 406.3 L2024 406.3 L2024 406.3 L2024 406.3 L2024 406.3 L2024 406.3 L2024 406.3 L2024 406.3 L2024 406.3 L2024 406.3 L2024 406.2 L2024.1 406.2 L2024.1 406.2 L2024.1 406.2 L2024.1 406.1 L2024.1 406 L2024.1 406 L2024.1 405.9 L2024.1 405.8 L2024.1 405.6 L2024 405.4 L2024 405.2 L2023.9 405 L2023.9 404.7 L2023.8 404.4 L2023.7 404 L2023.5 403.5 L2023.3 403 L2023 402.4 L2022.7 401.7 L2022.3 401 L2021.8 400.1 L2021.2 399.2 L2020.5 398.2 L2019.7 397.1 L2018.7 395.9 L2017.6 394.6 L2016.3 393.2 L2014.8 391.8 L2013.2 390.3 L2011.3 388.8 L2009.2 387.2 L2006.9 385.6 L2004.3 384 L2001.6 382.4 L1998.6 380.9 L1995.3 379.4 L1991.9 378 L1988.2 376.7 L1984.4 375.5 L1980.3 374.6 L1976.1 373.8 L1971.8 373.2 L1967.4 372.8 L1962.9 372.7 L1958.4 372.9 L1953.9 373.3 L1949.4 374 L1945 375.1 L1940.8 376.4 L1936.8 378 L1933 379.9 L1929.4 382 L1926.2 384.5 L1923.3 387.1 L1920.8 390 L1918.7 393 L1917.1 396.2 L1915.9 399.5 L1915.2 402.9 L1914.9 406.3" stroke="#70c8e0" stroke-width="1.6"/>
<path d="M1920.8 406.3 L1921 409.5 L1921.7 412.7 L1922.8 415.9 L1924.4 418.9 L1926.3 421.8 L1928.7 424.5 L1931.4 427 L1934.5 429.3 L1937.8 431.3 L1941.4 433.1 L1945.3 434.6 L1949.3 435.9 L1953.4 436.8 L1957.6 437.5 L1961.9 437.9 L1966.1 438.1 L1970.4 438 L1974.6 437.7 L1978.7 437.1 L1982.6 436.3 L1986.5 435.4 L1990.1 434.3 L1993.6 433.1 L1996.9 431.8 L1999.9 430.4 L2002.8 428.9 L2005.4 427.4 L2007.8 425.9 L2010 424.4 L2012 422.9 L2013.7 421.4 L2015.3 420 L2016.7 418.7 L2017.9 417.4 L2019 416.2 L2019.9 415 L2020.7 414 L2021.4 413 L2021.9 412.1 L2022.4 411.3 L2022.8 410.6 L2023.1 410 L2023.3 409.4 L2023.5 408.9 L2023.7 408.5 L2023.8 408.1 L2023.9 407.8 L2024 407.5 L2024 407.3 L2024 407.1 L2024.1 406.9 L2024.1 406.8 L2024.1 406.7 L2024.1 406.6 L2024.1 406.5 L2024.1 406.5 L2024.1 406.4 L2024.1 406.4 L2024.1 406.4 L2024 406.4 L2024 406.3 L2024 406.3 L2024 406.3 L2024 406.3 L2024 406.3 L2024 406.3 L2024 406.3 L2024 406.3 L2024 406.3 L2024 406.3 L2024 406.3 L2024 406.3 L2024 406.3 L2024 406.3 L2024 406.3 L2024 406.3 L2024 406.3 L2024 406.3 L2024 406.3 L2024 406.3 L2024 406.3 L2024 406.3 L2024 406.3 L2024 406.3 L2024 406.3 L2024 406.3 L2024 406.3 L2024 406.3 L2024 406.3 L2024 406.3 L2024 406.3 L2024 406.3 L2024 406.3 L2024 406.3 L2024 406.3 L2024 406.3 L2024 406.3 L2024 406.3 L2024 406.3 L2024 406.3 L2024 406.3 L2024 406.3 L2024 406.3 L2024 406.3 L2024 406.3 L2024 406.3 L2024 406.3 L2024 406.3 L2024 406.3 L2024 406.3 L2024 406.3 L2024 406.3 L2024 406.3 L2024 406.3 L2024 406.3 L2024 406.3 L2024 406.3 L2024 406.3 L2024 406.3 L2024 406.3 L2024 406.3 L2024 406.3 L2024 406.3 L2024 406.3 L2024 406.3 L2024 406.3 L2024 406.3 L2024 406.3 L2024 406.3 L2024 406.3 L2024 406.3 L2024 406.3 L2024 406.3 L2024 406.3 L2024 406.3 L2024 406.3 L2024 406.3 L2024 406.3 L2024 406.3 L2024 406.2 L2024.1 406.2 L2024.1 406.2 L2024.1 406.2 L2024.1 406.1 L2024.1 406.1 L2024.1 406 L2024.1 405.9 L2024.1 405.8 L2024.1 405.7 L2024 405.5 L2024 405.3 L2024 405.1 L2023.9 404.8 L2023.8 404.5 L2023.7 404.1 L2023.5 403.7 L2023.3 403.2 L2023.1 402.6 L2022.8 402 L2022.4 401.3 L2021.9 400.5 L2021.4 399.6 L2020.7 398.6 L2019.9 397.6 L2019 396.4 L2017.9 395.2 L2016.7 393.9 L2015.3 392.6 L2013.7 391.2 L2012 389.7 L2010 388.2 L2007.8 386.7 L2005.4 385.2 L2002.8 383.7 L1999.9 382.2 L1996.9 380.8 L1993.6 379.5 L1990.1 378.3 L1986.5 377.2 L1982.6 376.3 L1978.7 375.5 L1974.6 374.9 L1970.4 374.6 L1966.1 374.5 L1961.9 374.7 L1957.6 375.1 L1953.4 375.8 L1949.3 376.7 L1945.3 378 L1941.4 379.5 L1937.8 381.3 L1934.5 383.3 L1931.4 385.6 L1928.7 388.1 L1926.3 390.8 L1924.4 393.7 L1922.8 396.7 L1921.7 399.9 L1921 403.1 L1920.8 406.3" stroke="#78cce0" stroke-width="1.5"/>
<path d="M2024 406.3 L2024.7 404 L2025.3 401.6 L2025.7 399.2 L2026 396.8 L2026.1 394.4 L2026.1 391.9 L2025.9 389.5 L2025.5 387.1 L2025 384.7 L2024.4 382.4 L2023.6 380.1 L2022.6 377.8 L2021.5 375.6 L2020.3 373.5 L2018.9 371.5 L2017.5 369.6 L2015.9 367.7 L2014.2 366 L2012.3 364.4 L2010.4 362.9 L2008.4 361.5 L2006.3 360.3 L2004.2 359.1 L2001.9 358.2 L1999.6 357.3 L1997.3 356.7 L1994.9 356.1 L1992.5 355.7 L1990.1 355.5 L1987.7 355.4 L1985.2 355.5 L1982.8 355.7 L1980.4 356.1 L1978 356.7 L1975.7 357.3 L1973.4 358.2 L1971.2 359.1 L1969 360.3 L1966.9 361.5 L1964.9 362.9 L1963 364.4 L1961.2 366 L1959.5 367.7 L1957.9 369.6 L1956.4 371.5 L1955 373.5 L1953.8 375.6 L1952.7 377.8 L1951.8 380.1 L1951 382.4 L1950.3 384.7 L1949.8 387.1 L1949.5 389.5 L1949.3 391.9 L1949.2 394.4 L1949.3 396.8 L1949.6 399.2 L1950 401.6 L1950.6 404 L1951.3 406.3" stroke="#1f3fa8" stroke-width="2.0"/>
<path d="M2024 406.3 L2024.7 408.6 L2025.3 411 L2025.7 413.4 L2026 415.8 L2026.1 418.2 L2026.1 420.7 L2025.9 423.1 L2025.5 425.5 L2025 427.9 L2024.4 430.2 L2023.6 432.5 L2022.6 434.8 L2021.5 437 L2020.3 439.1 L2018.9 441.1 L2017.5 443 L2015.9 444.9 L2014.2 446.6 L2012.3 448.2 L2010.4 449.7 L2008.4 451.1 L2006.3 452.3 L2004.2 453.5 L2001.9 454.4 L1999.6 455.3 L1997.3 455.9 L1994.9 456.5 L1992.5 456.9 L1990.1 457.1 L1987.7 457.2 L1985.2 457.1 L1982.8 456.9 L1980.4 456.5 L1978 455.9 L1975.7 455.3 L1973.4 454.4 L1971.2 453.5 L1969 452.3 L1966.9 451.1 L1964.9 449.7 L1963 448.2 L1961.2 446.6 L1959.5 444.9 L1957.9 443 L1956.4 441.1 L1955 439.1 L1953.8 437 L1952.7 434.8 L1951.8 432.5 L1951 430.2 L1950.3 427.9 L1949.8 425.5 L1949.5 423.1 L1949.3 420.7 L1949.2 418.2 L1949.3 415.8 L1949.6 413.4 L1950 411 L1950.6 408.6 L1951.3 406.3" stroke="#1f3fa8" stroke-width="2.0"/>
<path d="M2024 406.3 L2024.1 404.3 L2024.1 402.3 L2024 400.3 L2023.8 398.3 L2023.4 396.3 L2023 394.4 L2022.4 392.5 L2021.8 390.6 L2021 388.7 L2020.1 386.9 L2019.2 385.2 L2018.1 383.5 L2017 381.8 L2015.7 380.2 L2014.4 378.7 L2013 377.3 L2011.5 376 L2010 374.7 L2008.4 373.5 L2006.7 372.4 L2005 371.4 L2003.2 370.5 L2001.3 369.7 L1999.5 369 L1997.6 368.4 L1995.6 367.9 L1993.6 367.6 L1991.7 367.3 L1989.7 367.1 L1987.7 367.1 L1985.7 367.1 L1983.7 367.3 L1981.7 367.6 L1979.7 367.9 L1977.8 368.4 L1975.9 369 L1974 369.7 L1972.2 370.5 L1970.4 371.4 L1968.6 372.4 L1966.9 373.5 L1965.3 374.7 L1963.8 376 L1962.3 377.3 L1960.9 378.7 L1959.6 380.2 L1958.3 381.8 L1957.2 383.5 L1956.1 385.2 L1955.2 386.9 L1954.3 388.7 L1953.6 390.6 L1952.9 392.5 L1952.4 394.4 L1951.9 396.3 L1951.6 398.3 L1951.3 400.3 L1951.2 402.3 L1951.2 404.3 L1951.3 406.3" stroke="#1c3aa0" stroke-width="2.0"/>
<path d="M2024 406.3 L2024.1 408.3 L2024.1 410.3 L2024 412.3 L2023.8 414.3 L2023.4 416.3 L2023 418.2 L2022.4 420.1 L2021.8 422 L2021 423.9 L2020.1 425.7 L2019.2 427.4 L2018.1 429.1 L2017 430.8 L2015.7 432.4 L2014.4 433.9 L2013 435.3 L2011.5 436.6 L2010 437.9 L2008.4 439.1 L2006.7 440.2 L2005 441.2 L2003.2 442.1 L2001.3 442.9 L1999.5 443.6 L1997.6 444.2 L1995.6 444.7 L1993.6 445 L1991.7 445.3 L1989.7 445.5 L1987.7 445.5 L1985.7 445.5 L1983.7 445.3 L1981.7 445 L1979.7 444.7 L1977.8 444.2 L1975.9 443.6 L1974 442.9 L1972.2 442.1 L1970.4 441.2 L1968.6 440.2 L1966.9 439.1 L1965.3 437.9 L1963.8 436.6 L1962.3 435.3 L1960.9 433.9 L1959.6 432.4 L1958.3 430.8 L1957.2 429.1 L1956.1 427.4 L1955.2 425.7 L1954.3 423.9 L1953.6 422 L1952.9 420.1 L1952.4 418.2 L1951.9 416.3 L1951.6 414.3 L1951.3 412.3 L1951.2 410.3 L1951.2 408.3 L1951.3 406.3" stroke="#1c3aa0" stroke-width="2.0"/>

</g>
<circle cx="2024" cy="406.3" r="6.3" fill="#fff"/>
</g>
<g fill="none" stroke-width="2.5"><g stroke="#b3b9b7"><path d="M1528.7 8.4 H2446.5 V804.5 H1528.7 Z"/><path transform="translate(1.6,1.6)" d="M1526.4 770.6 h11.5 M2448.8 770.6 h-11.5 M1526.4 697.7 h11.5 M2448.8 697.7 h-11.5 M1526.4 624.8 h11.5 M2448.8 624.8 h-11.5 M1526.4 551.9 h11.5 M2448.8 551.9 h-11.5 M1526.4 479 h11.5 M2448.8 479 h-11.5 M1526.4 406.2 h11.5 M2448.8 406.2 h-11.5 M1526.4 333.3 h11.5 M2448.8 333.3 h-11.5 M1526.4 260.4 h11.5 M2448.8 260.4 h-11.5 M1526.4 187.5 h11.5 M2448.8 187.5 h-11.5 M1526.4 114.6 h11.5 M2448.8 114.6 h-11.5 M1526.4 41.7 h11.5 M2448.8 41.7 h-11.5 M1660.4 6.1 v11 M1660.4 806.8 v-11 M1805.8 6.1 v11 M1805.8 806.8 v-11 M1951.3 6.1 v11 M1951.3 806.8 v-11 M2096.8 6.1 v11 M2096.8 806.8 v-11 M2242.2 6.1 v11 M2242.2 806.8 v-11 M2387.7 6.1 v11 M2387.7 806.8 v-11"/></g><path d="M1526.4 6.1 H2448.8 V806.8 H1526.4 Z" stroke="#676b81"/><path d="M1526.4 770.6 h11.5 M2448.8 770.6 h-11.5 M1526.4 697.7 h11.5 M2448.8 697.7 h-11.5 M1526.4 624.8 h11.5 M2448.8 624.8 h-11.5 M1526.4 551.9 h11.5 M2448.8 551.9 h-11.5 M1526.4 479 h11.5 M2448.8 479 h-11.5 M1526.4 406.2 h11.5 M2448.8 406.2 h-11.5 M1526.4 333.3 h11.5 M2448.8 333.3 h-11.5 M1526.4 260.4 h11.5 M2448.8 260.4 h-11.5 M1526.4 187.5 h11.5 M2448.8 187.5 h-11.5 M1526.4 114.6 h11.5 M2448.8 114.6 h-11.5 M1526.4 41.7 h11.5 M2448.8 41.7 h-11.5 M1660.4 6.1 v11 M1660.4 806.8 v-11 M1805.8 6.1 v11 M1805.8 806.8 v-11 M1951.3 6.1 v11 M1951.3 806.8 v-11 M2096.8 6.1 v11 M2096.8 806.8 v-11 M2242.2 6.1 v11 M2242.2 806.8 v-11 M2387.7 6.1 v11 M2387.7 806.8 v-11" stroke="#5a5e74"/></g>
<text x="1503.6" y="792.4" text-anchor="end"><tspan font-size="74" dy="1.2">−</tspan><tspan dy="-1.2" dx="0.5">50</tspan></text>
<text x="1503.6" y="719.5" text-anchor="end"><tspan font-size="74" dy="1.2">−</tspan><tspan dy="-1.2" dx="0.5">40</tspan></text>
<text x="1503.6" y="646.6" text-anchor="end"><tspan font-size="74" dy="1.2">−</tspan><tspan dy="-1.2" dx="0.5">30</tspan></text>
<text x="1503.6" y="573.7" text-anchor="end"><tspan font-size="74" dy="1.2">−</tspan><tspan dy="-1.2" dx="0.5">20</tspan></text>
<text x="1503.6" y="500.8" text-anchor="end"><tspan font-size="74" dy="1.2">−</tspan><tspan dy="-1.2" dx="0.5">10</tspan></text>
<text x="1503.6" y="428" text-anchor="end">0</text>
<text x="1503.6" y="355.1" text-anchor="end">10</text>
<text x="1503.6" y="282.2" text-anchor="end">20</text>
<text x="1503.6" y="209.3" text-anchor="end">30</text>
<text x="1503.6" y="136.4" text-anchor="end">40</text>
<text x="1503.6" y="63.5" text-anchor="end">50</text>
<text x="1604.7" y="876.5"><tspan font-size="74" dy="1.2">−</tspan><tspan dy="-1.2" dx="-1.5">40</tspan></text>
<text x="1750.1" y="876.5"><tspan font-size="74" dy="1.2">−</tspan><tspan dy="-1.2" dx="-1.5">20</tspan></text>
<text x="1952.5" y="876.5" text-anchor="middle">0</text>
<text x="2098" y="876.5" text-anchor="middle">20</text>
<text x="2243.4" y="876.5" text-anchor="middle">40</text>
<text x="1544.5" y="62.1">mm</text>
<text x="2422.6" y="780.6" text-anchor="end">mm</text>
<text x="1988.3" y="954.5" text-anchor="middle">(b) 13 kV</text>
<rect x="2497.2" y="122.3" width="35.6" height="672.4" fill="url(#cbb)" stroke="#b6b9c0" stroke-width="3"/>
<path d="M2498.7 690.1 h8.5 M2531.3 690.1 h-8.5 M2498.7 587.1 h8.5 M2531.3 587.1 h-8.5 M2498.7 484 h8.5 M2531.3 484 h-8.5 M2498.7 381 h8.5 M2531.3 381 h-8.5 M2498.7 277.9 h8.5 M2531.3 277.9 h-8.5 M2498.7 174.8 h8.5 M2531.3 174.8 h-8.5" stroke="#1c1c28" stroke-width="2.8" fill="none"/>
<text x="2553.5" y="815.7">0</text>
<text x="2553.5" y="712.6">2</text>
<text x="2553.5" y="609.6">4</text>
<text x="2553.5" y="506.5">6</text>
<text x="2553.5" y="403.5">8</text>
<text x="2553.5" y="300.4">10</text>
<text x="2553.5" y="197.3">12</text>
<text x="2483" y="82.3" letter-spacing="-0.7"><tspan font-style="italic">V</tspan>/10<tspan font-size="37" dy="-21">3</tspan></text>
<defs>
<linearGradient id="bgc" x1="0" y1="0" x2="1" y2="0">
<stop offset="0" stop-color="#dcee1c"/>
<stop offset="0.25" stop-color="#d0f81c"/>
<stop offset="0.5" stop-color="#b2fa20"/>
<stop offset="0.7" stop-color="#9dfa30"/>
<stop offset="1" stop-color="#94fa40"/>
</linearGradient>
<radialGradient id="rc0" cx="0.5" cy="0.5" r="0.5"><stop offset="0" stop-color="#f09418" stop-opacity="1"/><stop offset="0.3" stop-color="#eea41a" stop-opacity="0.85"/><stop offset="0.6" stop-color="#ebba1c" stop-opacity="0.5"/><stop offset="1" stop-color="#e8cc1e" stop-opacity="0"/></radialGradient>
<radialGradient id="rc1" cx="0.5" cy="0.5" r="0.5"><stop offset="0" stop-color="#74f2ea" stop-opacity="1"/><stop offset="0.22" stop-color="#7cf6dc" stop-opacity="0.85"/><stop offset="0.5" stop-color="#8cf890" stop-opacity="0.5"/><stop offset="1" stop-color="#98fa44" stop-opacity="0"/></radialGradient>
<radialGradient id="dc0" cx="0.5" cy="0.5" r="0.5"><stop offset="0" stop-color="#1034e4" stop-opacity="1"/><stop offset="0.5" stop-color="#174af0" stop-opacity="1"/><stop offset="0.72" stop-color="#2f86f2" stop-opacity="0.8"/><stop offset="0.88" stop-color="#5cc8f4" stop-opacity="0.4"/><stop offset="1" stop-color="#70e0f0" stop-opacity="0"/></radialGradient>
<radialGradient id="dc1" cx="0.5" cy="0.5" r="0.5"><stop offset="0" stop-color="#0c34e0" stop-opacity="1"/><stop offset="0.55" stop-color="#1c58f0" stop-opacity="0.95"/><stop offset="0.8" stop-color="#4090f0" stop-opacity="0.6"/><stop offset="1" stop-color="#70d0f0" stop-opacity="0"/></radialGradient>
<radialGradient id="dc2" cx="0.5" cy="0.5" r="0.5"><stop offset="0" stop-color="#0c34e0" stop-opacity="1"/><stop offset="0.55" stop-color="#1c58f0" stop-opacity="0.95"/><stop offset="0.8" stop-color="#4090f0" stop-opacity="0.6"/><stop offset="1" stop-color="#70d0f0" stop-opacity="0"/></radialGradient>
<radialGradient id="dc3" cx="0.5" cy="0.5" r="0.5"><stop offset="0" stop-color="#f84814" stop-opacity="1"/><stop offset="0.45" stop-color="#f67016" stop-opacity="0.95"/><stop offset="0.8" stop-color="#f0a01c" stop-opacity="0.5"/><stop offset="1" stop-color="#f0b020" stop-opacity="0"/></radialGradient>
<radialGradient id="dc4" cx="0.5" cy="0.5" r="0.5"><stop offset="0" stop-color="#f84814" stop-opacity="1"/><stop offset="0.45" stop-color="#f67016" stop-opacity="0.95"/><stop offset="0.8" stop-color="#f0a01c" stop-opacity="0.5"/><stop offset="1" stop-color="#f0b020" stop-opacity="0"/></radialGradient>
<radialGradient id="dc5" cx="0.5" cy="0.5" r="0.5"><stop offset="0" stop-color="#6a0808" stop-opacity="1"/><stop offset="0.45" stop-color="#d82410" stop-opacity="0.95"/><stop offset="0.8" stop-color="#f0a020" stop-opacity="0.6"/><stop offset="1" stop-color="#f0e020" stop-opacity="0"/></radialGradient>
<clipPath id="cpc"><rect x="3010.6" y="42.5" width="726.6" height="727.7"/></clipPath>
<filter id="lbc" filterUnits="userSpaceOnUse" x="3010.6" y="42.5" width="726.6" height="727.7"><feGaussianBlur stdDeviation="0.6"/></filter>
<filter id="dbc" filterUnits="userSpaceOnUse" x="3010.6" y="42.5" width="726.6" height="727.7"><feGaussianBlur stdDeviation="2.2"/></filter>
<filter id="fbc" filterUnits="userSpaceOnUse" x="2950.6" y="-17.5" width="846.6" height="847.7"><feGaussianBlur stdDeviation="7"/></filter>
<filter id="wbc" filterUnits="userSpaceOnUse" x="2950.6" y="-17.5" width="846.6" height="847.7"><feGaussianBlur stdDeviation="20"/></filter>
<linearGradient id="cbc" x1="0" y1="1" x2="0" y2="0">
<stop offset="0.0" stop-color="#0a197d"/>
<stop offset="0.04" stop-color="#0c2daf"/>
<stop offset="0.1" stop-color="#0f46dc"/>
<stop offset="0.2" stop-color="#1969f0"/>
<stop offset="0.26" stop-color="#3296f2"/>
<stop offset="0.31" stop-color="#5fd2f5"/>
<stop offset="0.36" stop-color="#7deee8"/>
<stop offset="0.42" stop-color="#82f5c3"/>
<stop offset="0.5" stop-color="#91f56e"/>
<stop offset="0.58" stop-color="#aff532"/>
<stop offset="0.64" stop-color="#e1eb23"/>
<stop offset="0.7" stop-color="#f2b414"/>
<stop offset="0.76" stop-color="#fa6e0f"/>
<stop offset="0.82" stop-color="#ff2d0f"/>
<stop offset="0.9" stop-color="#d70f0c"/>
<stop offset="0.96" stop-color="#8c0a0a"/>
<stop offset="1.0" stop-color="#550808"/>
</linearGradient>
</defs>
<rect x="3010.6" y="42.5" width="726.6" height="727.7" fill="url(#bgc)"/>
<g clip-path="url(#cpc)">
<g filter="url(#fbc)">
<path d="M3322.8 406 L2377.7 399.4 L2381.9 494.9Z" fill="#e8d11e"/>
<path d="M3322.8 406 L2380.7 481.7 L2393.2 576.5Z" fill="#e8d21e"/>
<path d="M3322.8 406 L2390.9 563.5 L2411.6 656.8Z" fill="#e8d31e"/>
<path d="M3322.8 406 L2408.2 644 L2436.9 735.2Z" fill="#e8d51e"/>
<path d="M3322.8 406 L2432.4 722.8 L2469 811.1Z" fill="#e7d71e"/>
<path d="M3322.8 406 L2463.4 799.1 L2507.6 883.9Z" fill="#e6d91e"/>
<path d="M3322.8 406 L2501 872.4 L2552.4 953Z" fill="#e5dc1e"/>
<path d="M3322.8 406 L2544.8 942.2 L2603 1018Z" fill="#e2df1d"/>
<path d="M3322.8 406 L2594.5 1007.9 L2659.2 1078.4Z" fill="#e0e31d"/>
<path d="M3322.8 406 L2649.8 1069.1 L2720.3 1133.6Z" fill="#dee71c"/>
<path d="M3322.8 406 L2710.2 1125.1 L2786.1 1183.3Z" fill="#d9ec1c"/>
<path d="M3322.8 406 L2775.3 1175.7 L2855.9 1227.1Z" fill="#d4f11c"/>
<path d="M3322.8 406 L2844.5 1220.5 L2929.3 1264.6Z" fill="#d0f51c"/>
<path d="M3322.8 406 L2917.4 1259 L3005.7 1295.6Z" fill="#cbf71c"/>
<path d="M3322.8 406 L2993.3 1291.1 L3084.5 1319.8Z" fill="#c6f91c"/>
<path d="M3322.8 406 L3071.8 1316.4 L3165.1 1337.1Z" fill="#c2fa1c"/>
<path d="M3322.8 406 L3152.2 1334.8 L3247 1347.3Z" fill="#bdfa1e"/>
<path d="M3322.8 406 L3233.8 1346.1 L3329.4 1350.3Z" fill="#b9fa1e"/>
<path d="M3322.8 406 L3316.2 1350.3 L3411.7 1346.1Z" fill="#b4fa20"/>
<path d="M3322.8 406 L3398.6 1347.3 L3493.4 1334.8Z" fill="#b0fa22"/>
<path d="M3322.8 406 L3480.4 1337.1 L3573.7 1316.4Z" fill="#acfa25"/>
<path d="M3322.8 406 L3561 1319.8 L3652.2 1291.1Z" fill="#a8fa28"/>
<path d="M3322.8 406 L3639.8 1295.6 L3728.1 1259Z" fill="#a4fa2b"/>
<path d="M3322.8 406 L3716.2 1264.6 L3801 1220.5Z" fill="#a0fa2e"/>
<path d="M3322.8 406 L3789.6 1227.1 L3870.2 1175.7Z" fill="#9dfa31"/>
<path d="M3322.8 406 L3859.4 1183.3 L3935.3 1125.1Z" fill="#9bfa34"/>
<path d="M3322.8 406 L3925.2 1133.6 L3995.7 1069.1Z" fill="#9afa37"/>
<path d="M3322.8 406 L3986.4 1078.4 L4051 1007.9Z" fill="#98fa3a"/>
<path d="M3322.8 406 L4042.5 1018 L4100.7 942.2Z" fill="#96fa3d"/>
<path d="M3322.8 406 L4093.1 953 L4144.5 872.4Z" fill="#95fa3e"/>
<path d="M3322.8 406 L4137.9 883.9 L4182.1 799.1Z" fill="#95fa3f"/>
<path d="M3322.8 406 L4176.5 811.1 L4213.1 722.8Z" fill="#95fa3f"/>
<path d="M3322.8 406 L4208.6 735.2 L4237.3 644Z" fill="#94fa40"/>
<path d="M3322.8 406 L4233.9 656.8 L4254.6 563.5Z" fill="#94fa41"/>
<path d="M3322.8 406 L4252.3 576.5 L4264.8 481.7Z" fill="#94fa41"/>
<path d="M3322.8 406 L4263.7 494.9 L4267.8 399.4Z" fill="#94fa42"/>
<path d="M3322.8 406 L4267.8 412.6 L4263.7 317.1Z" fill="#94fa42"/>
<path d="M3322.8 406 L4264.8 330.3 L4252.3 235.5Z" fill="#94fa41"/>
<path d="M3322.8 406 L4254.6 248.5 L4233.9 155.2Z" fill="#94fa41"/>
<path d="M3322.8 406 L4237.3 168 L4208.6 76.8Z" fill="#94fa40"/>
<path d="M3322.8 406 L4213.1 89.2 L4176.5 0.9Z" fill="#95fa3f"/>
<path d="M3322.8 406 L4182.1 12.9 L4137.9 -71.9Z" fill="#95fa3f"/>
<path d="M3322.8 406 L4144.5 -60.4 L4093.1 -141Z" fill="#95fa3e"/>
<path d="M3322.8 406 L4100.7 -130.2 L4042.5 -206Z" fill="#96fa3d"/>
<path d="M3322.8 406 L4051 -195.9 L3986.4 -266.4Z" fill="#98fa3a"/>
<path d="M3322.8 406 L3995.7 -257.1 L3925.2 -321.6Z" fill="#9afa37"/>
<path d="M3322.8 406 L3935.3 -313.1 L3859.4 -371.3Z" fill="#9bfa34"/>
<path d="M3322.8 406 L3870.2 -363.7 L3789.6 -415.1Z" fill="#9dfa31"/>
<path d="M3322.8 406 L3801 -408.5 L3716.2 -452.6Z" fill="#a0fa2e"/>
<path d="M3322.8 406 L3728.1 -447 L3639.8 -483.6Z" fill="#a4fa2b"/>
<path d="M3322.8 406 L3652.2 -479.1 L3561 -507.8Z" fill="#a8fa28"/>
<path d="M3322.8 406 L3573.7 -504.4 L3480.4 -525.1Z" fill="#acfa25"/>
<path d="M3322.8 406 L3493.4 -522.8 L3398.6 -535.3Z" fill="#b0fa22"/>
<path d="M3322.8 406 L3411.7 -534.1 L3316.2 -538.3Z" fill="#b4fa20"/>
<path d="M3322.8 406 L3329.4 -538.3 L3233.8 -534.1Z" fill="#b9fa1e"/>
<path d="M3322.8 406 L3247 -535.3 L3152.2 -522.8Z" fill="#bdfa1e"/>
<path d="M3322.8 406 L3165.1 -525.1 L3071.8 -504.4Z" fill="#c2fa1c"/>
<path d="M3322.8 406 L3084.5 -507.8 L2993.3 -479.1Z" fill="#c6f91c"/>
<path d="M3322.8 406 L3005.7 -483.6 L2917.4 -447Z" fill="#cbf71c"/>
<path d="M3322.8 406 L2929.3 -452.6 L2844.5 -408.5Z" fill="#d0f51c"/>
<path d="M3322.8 406 L2855.9 -415.1 L2775.3 -363.7Z" fill="#d4f11c"/>
<path d="M3322.8 406 L2786.1 -371.3 L2710.2 -313.1Z" fill="#d9ec1c"/>
<path d="M3322.8 406 L2720.3 -321.6 L2649.8 -257.1Z" fill="#dee71c"/>
<path d="M3322.8 406 L2659.2 -266.4 L2594.5 -195.9Z" fill="#e0e31d"/>
<path d="M3322.8 406 L2603 -206 L2544.8 -130.2Z" fill="#e2df1d"/>
<path d="M3322.8 406 L2552.4 -141 L2501 -60.4Z" fill="#e5dc1e"/>
<path d="M3322.8 406 L2507.6 -71.9 L2463.4 12.9Z" fill="#e6d91e"/>
<path d="M3322.8 406 L2469 0.9 L2432.4 89.2Z" fill="#e7d71e"/>
<path d="M3322.8 406 L2436.9 76.8 L2408.2 168Z" fill="#e8d51e"/>
<path d="M3322.8 406 L2411.6 155.2 L2390.9 248.5Z" fill="#e8d31e"/>
<path d="M3322.8 406 L2393.2 235.5 L2380.7 330.3Z" fill="#e8d21e"/>
<path d="M3322.8 406 L2381.9 317.1 L2377.7 412.6Z" fill="#e8d11e"/>
</g>

<ellipse cx="3242.8" cy="406" rx="203.6" ry="145.3" fill="url(#rc0)"/>
<ellipse cx="3450" cy="406" rx="181.8" ry="152.5" fill="url(#rc1)"/>
<g filter="url(#dbc)">
<path d="M3410 406 L3408.7 403.2 L3407.2 400.6 L3405.4 398 L3403.5 395.6 L3401.4 393.4 L3399.1 391.3 L3396.7 389.4 L3394.1 387.7 L3391.4 386.3 L3388.6 385 L3385.8 383.9 L3382.8 383.1 L3379.8 382.5 L3376.7 382.1 L3373.7 382 L3370.6 382.1 L3367.5 382.5 L3364.5 383.1 L3361.5 383.9 L3358.7 385 L3355.9 386.3 L3353.2 387.7 L3350.6 389.4 L3348.2 391.3 L3345.9 393.4 L3343.8 395.6 L3341.9 398 L3340.1 400.6 L3338.6 403.2 L3337.3 406 L3338.6 408.8 L3340.1 411.4 L3341.9 414 L3343.8 416.4 L3345.9 418.6 L3348.2 420.7 L3350.6 422.6 L3353.2 424.3 L3355.9 425.7 L3358.7 427 L3361.5 428.1 L3364.5 428.9 L3367.5 429.5 L3370.6 429.9 L3373.7 430 L3376.7 429.9 L3379.8 429.5 L3382.8 428.9 L3385.8 428.1 L3388.6 427 L3391.4 425.7 L3394.1 424.3 L3396.7 422.6 L3399.1 420.7 L3401.4 418.6 L3403.5 416.4 L3405.4 414 L3407.2 411.4 L3408.7 408.8 L3410 406Z" fill="#1c50f0" fill-opacity="0.95"/>
<path d="M3410 406 L3408.3 403.7 L3406.5 401.6 L3404.5 399.5 L3402.4 397.6 L3400.1 395.9 L3397.8 394.3 L3395.4 392.8 L3392.9 391.5 L3390.3 390.3 L3387.6 389.4 L3384.9 388.6 L3382.1 387.9 L3379.3 387.5 L3376.5 387.2 L3373.7 387.1 L3370.8 387.2 L3368 387.5 L3365.2 387.9 L3362.4 388.6 L3359.7 389.4 L3357 390.3 L3354.4 391.5 L3351.9 392.8 L3349.5 394.3 L3347.2 395.9 L3344.9 397.6 L3342.8 399.5 L3340.8 401.6 L3339 403.7 L3337.3 406 L3339 408.3 L3340.8 410.4 L3342.8 412.5 L3344.9 414.4 L3347.2 416.1 L3349.5 417.7 L3351.9 419.2 L3354.4 420.5 L3357 421.7 L3359.7 422.6 L3362.4 423.4 L3365.2 424.1 L3368 424.5 L3370.8 424.8 L3373.7 424.9 L3376.5 424.8 L3379.3 424.5 L3382.1 424.1 L3384.9 423.4 L3387.6 422.6 L3390.3 421.7 L3392.9 420.5 L3395.4 419.2 L3397.8 417.7 L3400.1 416.1 L3402.4 414.4 L3404.5 412.5 L3406.5 410.4 L3408.3 408.3 L3410 406Z" fill="#50c8f4" fill-opacity="1"/>
<path d="M3410 406 L3408 404.2 L3405.9 402.5 L3403.8 400.9 L3401.6 399.5 L3399.3 398.1 L3396.9 396.9 L3394.5 395.8 L3392 394.8 L3389.4 393.9 L3386.9 393.2 L3384.3 392.6 L3381.6 392.1 L3379 391.7 L3376.3 391.5 L3373.7 391.5 L3371 391.5 L3368.3 391.7 L3365.7 392.1 L3363 392.6 L3360.4 393.2 L3357.9 393.9 L3355.3 394.8 L3352.8 395.8 L3350.4 396.9 L3348 398.1 L3345.7 399.5 L3343.5 400.9 L3341.4 402.5 L3339.3 404.2 L3337.3 406 L3339.3 407.8 L3341.4 409.5 L3343.5 411.1 L3345.7 412.5 L3348 413.9 L3350.4 415.1 L3352.8 416.2 L3355.3 417.2 L3357.9 418.1 L3360.4 418.8 L3363 419.4 L3365.7 419.9 L3368.3 420.3 L3371 420.5 L3373.7 420.5 L3376.3 420.5 L3379 420.3 L3381.6 419.9 L3384.3 419.4 L3386.9 418.8 L3389.4 418.1 L3392 417.2 L3394.5 416.2 L3396.9 415.1 L3399.3 413.9 L3401.6 412.5 L3403.8 411.1 L3405.9 409.5 L3408 407.8 L3410 406Z" fill="#90f490" fill-opacity="1"/>
<path d="M3410 406 L3407.8 404.7 L3405.6 403.5 L3403.3 402.4 L3400.9 401.4 L3398.6 400.4 L3396.2 399.6 L3393.7 398.8 L3391.3 398.1 L3388.8 397.5 L3386.3 397 L3383.8 396.6 L3381.3 396.2 L3378.7 396 L3376.2 395.9 L3373.7 395.8 L3371.1 395.9 L3368.6 396 L3366 396.2 L3363.5 396.6 L3361 397 L3358.5 397.5 L3356 398.1 L3353.6 398.8 L3351.1 399.6 L3348.7 400.4 L3346.4 401.4 L3344 402.4 L3341.7 403.5 L3339.5 404.7 L3337.3 406 L3339.5 407.3 L3341.7 408.5 L3344 409.6 L3346.4 410.6 L3348.7 411.6 L3351.1 412.4 L3353.6 413.2 L3356 413.9 L3358.5 414.5 L3361 415 L3363.5 415.4 L3366 415.8 L3368.6 416 L3371.1 416.1 L3373.7 416.2 L3376.2 416.1 L3378.7 416 L3381.3 415.8 L3383.8 415.4 L3386.3 415 L3388.8 414.5 L3391.3 413.9 L3393.7 413.2 L3396.2 412.4 L3398.6 411.6 L3400.9 410.6 L3403.3 409.6 L3405.6 408.5 L3407.8 407.3 L3410 406Z" fill="#e0f020" fill-opacity="1"/>
<ellipse cx="3420.2" cy="406" rx="36.3" ry="33.4" fill="url(#dc0)"/>
<ellipse cx="3320.6" cy="390" rx="11.6" ry="18.9" fill="url(#dc1)"/>
<ellipse cx="3320.6" cy="422" rx="11.6" ry="18.9" fill="url(#dc2)"/>
<ellipse cx="3330.8" cy="390" rx="17.4" ry="18.9" fill="url(#dc3)"/>
<ellipse cx="3330.8" cy="422" rx="17.4" ry="18.9" fill="url(#dc4)"/>
<ellipse cx="3354.7" cy="406" rx="24.7" ry="9.4" fill="url(#dc5)"/>

</g>
<g filter="url(#lbc)" fill="none" stroke-linejoin="round">
<path d="M3109 406 L3108.5 415.5 L3108.1 425 L3108.7 434.5 L3110 443.9 L3111.7 453.2 L3113.9 462.4 L3116.4 471.6 L3119.3 480.6 L3122.5 489.4 L3126.2 498.1 L3130.1 506.7 L3134.4 515 L3139.1 523.1 L3144 531.1 L3149.3 538.7 L3154.9 546.1 L3160.7 553.3 L3166.8 560.2 L3173.2 566.8 L3179.8 573.1 L3186.7 579.1 L3193.8 584.7 L3201 590.1 L3208.5 595.1 L3216.1 599.8 L3223.8 604.1 L3231.7 608 L3239.7 611.6 L3247.8 614.9 L3256 617.8 L3264.3 620.3 L3272.6 622.4 L3280.9 624.2 L3289.2 625.5 L3297.5 626.6 L3305.8 627.2 L3314.1 627.5 L3322.2 627.5 L3330.3 627.1 L3338.4 626.3 L3346.3 625.2 L3354 623.8 L3361.7 622 L3369.2 619.9 L3376.5 617.5 L3383.6 614.8 L3390.5 611.9 L3397.2 608.6 L3403.7 605.1 L3410 601.3 L3416 597.3 L3421.8 593.1 L3427.3 588.7 L3432.5 584 L3437.5 579.2 L3442.1 574.3 L3446.5 569.1 L3450.6 563.9 L3454.3 558.5 L3457.8 553 L3461 547.5 L3463.8 541.8 L3466.4 536.1 L3468.6 530.4 L3470.5 524.7 L3472.1 518.9 L3473.4 513.2 L3474.4 507.5 L3475.2 501.8 L3475.6 496.2 L3475.7 490.6 L3475.6 485.2 L3475.2 479.8 L3474.5 474.6 L3473.5 469.5 L3472.4 464.5 L3471 459.7 L3469.3 455 L3467.5 450.6 L3465.5 446.3 L3463.2 442.2 L3460.9 438.3 L3458.3 434.6 L3455.6 431.1 L3452.8 427.8 L3449.9 424.8 L3446.9 422 L3443.8 419.4 L3440.7 417 L3437.5 414.9 L3434.4 413.1 L3431.2 411.4 L3428 410 L3425 408.8 L3421.9 407.9 L3419 407.1 L3416.3 406.6 L3413.8 406.2 L3411.6 406 L3410 406 L3411.6 406 L3413.8 405.8 L3416.3 405.4 L3419 404.9 L3421.9 404.1 L3425 403.2 L3428 402 L3431.2 400.6 L3434.4 398.9 L3437.5 397.1 L3440.7 395 L3443.8 392.6 L3446.9 390 L3449.9 387.2 L3452.8 384.2 L3455.6 380.9 L3458.3 377.4 L3460.9 373.7 L3463.2 369.8 L3465.5 365.7 L3467.5 361.4 L3469.3 357 L3471 352.3 L3472.4 347.5 L3473.5 342.5 L3474.5 337.4 L3475.2 332.2 L3475.6 326.8 L3475.7 321.4 L3475.6 315.8 L3475.2 310.2 L3474.4 304.5 L3473.4 298.8 L3472.1 293.1 L3470.5 287.3 L3468.6 281.6 L3466.4 275.9 L3463.8 270.2 L3461 264.5 L3457.8 259 L3454.3 253.5 L3450.6 248.1 L3446.5 242.9 L3442.1 237.7 L3437.5 232.8 L3432.5 228 L3427.3 223.3 L3421.8 218.9 L3416 214.7 L3410 210.7 L3403.7 206.9 L3397.2 203.4 L3390.5 200.1 L3383.6 197.2 L3376.5 194.5 L3369.2 192.1 L3361.7 190 L3354 188.2 L3346.3 186.8 L3338.4 185.7 L3330.3 184.9 L3322.2 184.5 L3314.1 184.5 L3305.8 184.8 L3297.5 185.4 L3289.2 186.5 L3280.9 187.8 L3272.6 189.6 L3264.3 191.7 L3256 194.2 L3247.8 197.1 L3239.7 200.4 L3231.7 204 L3223.8 207.9 L3216.1 212.2 L3208.5 216.9 L3201 221.9 L3193.8 227.3 L3186.7 232.9 L3179.8 238.9 L3173.2 245.2 L3166.8 251.8 L3160.7 258.7 L3154.9 265.9 L3149.3 273.3 L3144 280.9 L3139.1 288.9 L3134.4 297 L3130.1 305.3 L3126.2 313.9 L3122.5 322.6 L3119.3 331.4 L3116.4 340.4 L3113.9 349.6 L3111.7 358.8 L3110 368.1 L3108.7 377.5 L3108.1 387 L3108.5 396.5 L3109 406" stroke="#14161c" stroke-width="2.4"/>
<path d="M3251.5 406 L3251.7 411 L3252.1 415.9 L3252.8 420.9 L3253.7 425.7 L3255 430.5 L3256.5 435.3 L3258.2 439.9 L3260.3 444.4 L3262.5 448.8 L3265 453.1 L3267.7 457.2 L3270.7 461.1 L3273.8 464.9 L3277.1 468.5 L3280.6 471.9 L3284.3 475 L3288.2 478 L3292.1 480.7 L3296.2 483.3 L3300.4 485.5 L3304.7 487.6 L3309.1 489.4 L3313.5 491 L3318 492.3 L3322.5 493.4 L3327.1 494.2 L3331.6 494.8 L3336.1 495.2 L3340.6 495.3 L3345.1 495.3 L3349.5 494.9 L3353.8 494.4 L3358.1 493.7 L3362.3 492.8 L3366.3 491.6 L3370.3 490.3 L3374.1 488.9 L3377.8 487.2 L3381.4 485.5 L3384.8 483.6 L3388 481.5 L3391.1 479.4 L3394.1 477.1 L3396.9 474.8 L3399.5 472.3 L3401.9 469.8 L3404.2 467.3 L3406.3 464.7 L3408.2 462.1 L3410 459.5 L3411.6 456.9 L3413 454.2 L3414.3 451.6 L3415.4 449 L3416.4 446.5 L3417.2 444 L3417.9 441.5 L3418.5 439.1 L3419 436.8 L3419.3 434.5 L3419.5 432.3 L3419.6 430.2 L3419.6 428.2 L3419.6 426.3 L3419.4 424.5 L3419.2 422.7 L3418.9 421.1 L3418.6 419.6 L3418.3 418.1 L3417.9 416.8 L3417.4 415.6 L3417 414.4 L3416.5 413.4 L3416 412.4 L3415.5 411.5 L3415.1 410.7 L3414.6 410 L3414.1 409.4 L3413.7 408.8 L3413.2 408.4 L3412.8 407.9 L3412.5 407.6 L3412.1 407.2 L3411.8 407 L3411.5 406.8 L3411.2 406.6 L3411 406.4 L3410.8 406.3 L3410.6 406.2 L3410.5 406.1 L3410.3 406.1 L3410.2 406.1 L3410.2 406 L3410.1 406 L3410.1 406 L3410 406 L3410 406 L3410 406 L3410 406 L3410 406 L3410 406 L3410 406 L3410 406 L3410 406 L3410.1 406 L3410.1 406 L3410.2 406 L3410.2 405.9 L3410.3 405.9 L3410.5 405.9 L3410.6 405.8 L3410.8 405.7 L3411 405.6 L3411.2 405.4 L3411.5 405.2 L3411.8 405 L3412.1 404.8 L3412.5 404.4 L3412.8 404.1 L3413.2 403.6 L3413.7 403.2 L3414.1 402.6 L3414.6 402 L3415.1 401.3 L3415.5 400.5 L3416 399.6 L3416.5 398.6 L3417 397.6 L3417.4 396.4 L3417.9 395.2 L3418.3 393.9 L3418.6 392.4 L3418.9 390.9 L3419.2 389.3 L3419.4 387.5 L3419.6 385.7 L3419.6 383.8 L3419.6 381.8 L3419.5 379.7 L3419.3 377.5 L3419 375.2 L3418.5 372.9 L3417.9 370.5 L3417.2 368 L3416.4 365.5 L3415.4 363 L3414.3 360.4 L3413 357.8 L3411.6 355.1 L3410 352.5 L3408.2 349.9 L3406.3 347.3 L3404.2 344.7 L3401.9 342.2 L3399.5 339.7 L3396.9 337.2 L3394.1 334.9 L3391.1 332.6 L3388 330.5 L3384.8 328.4 L3381.4 326.5 L3377.8 324.8 L3374.1 323.1 L3370.3 321.7 L3366.3 320.4 L3362.3 319.2 L3358.1 318.3 L3353.8 317.6 L3349.5 317.1 L3345.1 316.7 L3340.6 316.7 L3336.1 316.8 L3331.6 317.2 L3327.1 317.8 L3322.5 318.6 L3318 319.7 L3313.5 321 L3309.1 322.6 L3304.7 324.4 L3300.4 326.5 L3296.2 328.7 L3292.1 331.3 L3288.2 334 L3284.3 337 L3280.6 340.1 L3277.1 343.5 L3273.8 347.1 L3270.7 350.9 L3267.7 354.8 L3265 358.9 L3262.5 363.2 L3260.3 367.6 L3258.2 372.1 L3256.5 376.7 L3255 381.5 L3253.7 386.3 L3252.8 391.1 L3252.1 396.1 L3251.7 401 L3251.5 406" stroke="#1a1e2c" stroke-width="2.3"/>
<path d="M3275.5 406 L3275.6 410.2 L3276.1 414.4 L3276.8 418.6 L3277.8 422.7 L3279 426.7 L3280.6 430.7 L3282.3 434.5 L3284.4 438.2 L3286.7 441.8 L3289.2 445.2 L3291.9 448.5 L3294.8 451.6 L3297.9 454.5 L3301.2 457.2 L3304.6 459.6 L3308.2 461.9 L3311.9 464 L3315.7 465.8 L3319.6 467.4 L3323.6 468.7 L3327.6 469.9 L3331.6 470.8 L3335.7 471.4 L3339.8 471.9 L3343.9 472.1 L3347.9 472.1 L3351.9 471.9 L3355.8 471.4 L3359.7 470.8 L3363.4 470 L3367.1 469 L3370.7 467.9 L3374.1 466.6 L3377.4 465.2 L3380.6 463.6 L3383.7 461.9 L3386.5 460.2 L3389.3 458.3 L3391.9 456.3 L3394.3 454.3 L3396.5 452.3 L3398.6 450.2 L3400.6 448 L3402.4 445.9 L3404 443.8 L3405.5 441.6 L3406.8 439.5 L3408 437.4 L3409.1 435.4 L3410 433.4 L3410.8 431.4 L3411.5 429.6 L3412.1 427.7 L3412.5 426 L3412.9 424.3 L3413.2 422.7 L3413.4 421.2 L3413.5 419.8 L3413.6 418.4 L3413.6 417.2 L3413.6 416 L3413.5 414.9 L3413.4 413.9 L3413.3 412.9 L3413.1 412.1 L3412.9 411.3 L3412.7 410.6 L3412.5 410 L3412.3 409.4 L3412.1 408.9 L3411.9 408.5 L3411.7 408.1 L3411.5 407.7 L3411.3 407.4 L3411.2 407.2 L3411 406.9 L3410.9 406.8 L3410.7 406.6 L3410.6 406.5 L3410.5 406.4 L3410.4 406.3 L3410.3 406.2 L3410.3 406.2 L3410.2 406.1 L3410.2 406.1 L3410.1 406.1 L3410.1 406 L3410.1 406 L3410 406 L3410 406 L3410 406 L3410 406 L3410 406 L3410 406 L3410 406 L3410 406 L3410 406 L3410 406 L3410 406 L3410 406 L3410 406 L3410 406 L3410 406 L3410 406 L3410 406 L3410 406 L3410 406 L3410 406 L3410 406 L3410 406 L3410 406 L3410.1 406 L3410.1 406 L3410.1 405.9 L3410.2 405.9 L3410.2 405.9 L3410.3 405.8 L3410.3 405.8 L3410.4 405.7 L3410.5 405.6 L3410.6 405.5 L3410.7 405.4 L3410.9 405.2 L3411 405.1 L3411.2 404.8 L3411.3 404.6 L3411.5 404.3 L3411.7 403.9 L3411.9 403.5 L3412.1 403.1 L3412.3 402.6 L3412.5 402 L3412.7 401.4 L3412.9 400.7 L3413.1 399.9 L3413.3 399.1 L3413.4 398.1 L3413.5 397.1 L3413.6 396 L3413.6 394.8 L3413.6 393.6 L3413.5 392.2 L3413.4 390.8 L3413.2 389.3 L3412.9 387.7 L3412.5 386 L3412.1 384.3 L3411.5 382.4 L3410.8 380.6 L3410 378.6 L3409.1 376.6 L3408 374.6 L3406.8 372.5 L3405.5 370.4 L3404 368.2 L3402.4 366.1 L3400.6 364 L3398.6 361.8 L3396.5 359.7 L3394.3 357.7 L3391.9 355.7 L3389.3 353.7 L3386.5 351.8 L3383.7 350.1 L3380.6 348.4 L3377.4 346.8 L3374.1 345.4 L3370.7 344.1 L3367.1 343 L3363.4 342 L3359.7 341.2 L3355.8 340.6 L3351.9 340.1 L3347.9 339.9 L3343.9 339.9 L3339.8 340.1 L3335.7 340.6 L3331.6 341.2 L3327.6 342.1 L3323.6 343.3 L3319.6 344.6 L3315.7 346.2 L3311.9 348 L3308.2 350.1 L3304.6 352.4 L3301.2 354.8 L3297.9 357.5 L3294.8 360.4 L3291.9 363.5 L3289.2 366.8 L3286.7 370.2 L3284.4 373.8 L3282.3 377.5 L3280.6 381.3 L3279 385.3 L3277.8 389.3 L3276.8 393.4 L3276.1 397.6 L3275.6 401.8 L3275.5 406" stroke="#1c2440" stroke-width="2.2"/>
<path d="M3288.6 406 L3288.8 409.8 L3289.2 413.6 L3290.1 417.3 L3291.2 421 L3292.6 424.6 L3294.3 428 L3296.4 431.4 L3298.6 434.6 L3301.2 437.6 L3304 440.4 L3307 443.1 L3310.2 445.5 L3313.6 447.7 L3317.1 449.7 L3320.8 451.4 L3324.6 452.9 L3328.5 454.2 L3332.4 455.2 L3336.4 456 L3340.5 456.5 L3344.5 456.8 L3348.5 456.8 L3352.5 456.7 L3356.4 456.3 L3360.2 455.8 L3364 455 L3367.6 454.1 L3371.1 453 L3374.5 451.7 L3377.7 450.4 L3380.8 448.9 L3383.8 447.3 L3386.5 445.6 L3389.2 443.9 L3391.6 442.1 L3393.9 440.3 L3396 438.4 L3397.9 436.5 L3399.7 434.7 L3401.3 432.8 L3402.7 431 L3404 429.2 L3405.2 427.5 L3406.2 425.8 L3407.1 424.2 L3407.9 422.6 L3408.6 421.2 L3409.1 419.8 L3409.6 418.4 L3410 417.2 L3410.3 416 L3410.6 414.9 L3410.7 413.9 L3410.9 413 L3411 412.1 L3411 411.4 L3411 410.7 L3411 410 L3411 409.5 L3411 409 L3410.9 408.5 L3410.8 408.1 L3410.8 407.8 L3410.7 407.5 L3410.6 407.2 L3410.6 407 L3410.5 406.8 L3410.4 406.7 L3410.4 406.5 L3410.3 406.4 L3410.3 406.3 L3410.2 406.3 L3410.2 406.2 L3410.1 406.2 L3410.1 406.1 L3410.1 406.1 L3410.1 406.1 L3410.1 406 L3410 406 L3410 406 L3410 406 L3410 406 L3410 406 L3410 406 L3410 406 L3410 406 L3410 406 L3410 406 L3410 406 L3410 406 L3410 406 L3410 406 L3410 406 L3410 406 L3410 406 L3410 406 L3410 406 L3410 406 L3410 406 L3410 406 L3410 406 L3410 406 L3410 406 L3410 406 L3410 406 L3410 406 L3410 406 L3410 406 L3410 406 L3410 406 L3410 406 L3410 406 L3410 406 L3410 406 L3410 406 L3410 406 L3410 406 L3410 406 L3410 406 L3410 406 L3410 406 L3410.1 406 L3410.1 405.9 L3410.1 405.9 L3410.1 405.9 L3410.1 405.8 L3410.2 405.8 L3410.2 405.7 L3410.3 405.7 L3410.3 405.6 L3410.4 405.5 L3410.4 405.3 L3410.5 405.2 L3410.6 405 L3410.6 404.8 L3410.7 404.5 L3410.8 404.2 L3410.8 403.9 L3410.9 403.5 L3411 403 L3411 402.5 L3411 402 L3411 401.3 L3411 400.6 L3411 399.9 L3410.9 399 L3410.7 398.1 L3410.6 397.1 L3410.3 396 L3410 394.8 L3409.6 393.6 L3409.1 392.2 L3408.6 390.8 L3407.9 389.4 L3407.1 387.8 L3406.2 386.2 L3405.2 384.5 L3404 382.8 L3402.7 381 L3401.3 379.2 L3399.7 377.3 L3397.9 375.5 L3396 373.6 L3393.9 371.7 L3391.6 369.9 L3389.2 368.1 L3386.5 366.4 L3383.8 364.7 L3380.8 363.1 L3377.7 361.6 L3374.5 360.3 L3371.1 359 L3367.6 357.9 L3364 357 L3360.2 356.2 L3356.4 355.7 L3352.5 355.3 L3348.5 355.2 L3344.5 355.2 L3340.5 355.5 L3336.4 356 L3332.4 356.8 L3328.5 357.8 L3324.6 359.1 L3320.8 360.6 L3317.1 362.3 L3313.6 364.3 L3310.2 366.5 L3307 368.9 L3304 371.6 L3301.2 374.4 L3298.6 377.4 L3296.4 380.6 L3294.3 384 L3292.6 387.4 L3291.2 391 L3290.1 394.7 L3289.2 398.4 L3288.8 402.2 L3288.6 406" stroke="#20306a" stroke-width="2.0"/>
<path d="M3297.3 406 L3297.5 409.5 L3298.1 413 L3299 416.5 L3300.3 419.8 L3302 423.1 L3304 426.2 L3306.4 429.1 L3309 431.9 L3311.9 434.5 L3315.1 436.8 L3318.4 438.9 L3322 440.8 L3325.8 442.4 L3329.7 443.8 L3333.7 444.9 L3337.7 445.7 L3341.8 446.3 L3346 446.6 L3350.1 446.7 L3354.2 446.5 L3358.2 446.1 L3362.1 445.6 L3366 444.8 L3369.7 443.8 L3373.3 442.7 L3376.7 441.5 L3379.9 440.1 L3383 438.6 L3385.9 437.1 L3388.6 435.5 L3391.1 433.8 L3393.4 432.1 L3395.5 430.5 L3397.5 428.8 L3399.2 427.1 L3400.8 425.5 L3402.3 423.9 L3403.5 422.4 L3404.6 420.9 L3405.6 419.5 L3406.5 418.2 L3407.2 416.9 L3407.8 415.7 L3408.3 414.6 L3408.8 413.6 L3409.2 412.7 L3409.4 411.9 L3409.7 411.1 L3409.9 410.4 L3410 409.8 L3410.1 409.3 L3410.2 408.8 L3410.2 408.3 L3410.2 408 L3410.3 407.6 L3410.3 407.4 L3410.2 407.1 L3410.2 406.9 L3410.2 406.7 L3410.2 406.6 L3410.2 406.5 L3410.1 406.4 L3410.1 406.3 L3410.1 406.2 L3410.1 406.2 L3410.1 406.1 L3410.1 406.1 L3410 406.1 L3410 406.1 L3410 406 L3410 406 L3410 406 L3410 406 L3410 406 L3410 406 L3410 406 L3410 406 L3410 406 L3410 406 L3410 406 L3410 406 L3410 406 L3410 406 L3410 406 L3410 406 L3410 406 L3410 406 L3410 406 L3410 406 L3410 406 L3410 406 L3410 406 L3410 406 L3410 406 L3410 406 L3410 406 L3410 406 L3410 406 L3410 406 L3410 406 L3410 406 L3410 406 L3410 406 L3410 406 L3410 406 L3410 406 L3410 406 L3410 406 L3410 406 L3410 406 L3410 406 L3410 406 L3410 406 L3410 406 L3410 406 L3410 406 L3410 406 L3410 406 L3410 406 L3410 406 L3410 406 L3410 406 L3410 406 L3410 406 L3410 406 L3410 406 L3410 406 L3410 406 L3410 406 L3410 406 L3410 405.9 L3410 405.9 L3410.1 405.9 L3410.1 405.9 L3410.1 405.8 L3410.1 405.8 L3410.1 405.7 L3410.1 405.6 L3410.2 405.5 L3410.2 405.4 L3410.2 405.3 L3410.2 405.1 L3410.2 404.9 L3410.3 404.6 L3410.3 404.4 L3410.2 404 L3410.2 403.7 L3410.2 403.2 L3410.1 402.7 L3410 402.2 L3409.9 401.6 L3409.7 400.9 L3409.4 400.1 L3409.2 399.3 L3408.8 398.4 L3408.3 397.4 L3407.8 396.3 L3407.2 395.1 L3406.5 393.8 L3405.6 392.5 L3404.6 391.1 L3403.5 389.6 L3402.3 388.1 L3400.8 386.5 L3399.2 384.9 L3397.5 383.2 L3395.5 381.5 L3393.4 379.9 L3391.1 378.2 L3388.6 376.5 L3385.9 374.9 L3383 373.4 L3379.9 371.9 L3376.7 370.5 L3373.3 369.3 L3369.7 368.2 L3366 367.2 L3362.1 366.4 L3358.2 365.9 L3354.2 365.5 L3350.1 365.3 L3346 365.4 L3341.8 365.7 L3337.7 366.3 L3333.7 367.1 L3329.7 368.2 L3325.8 369.6 L3322 371.2 L3318.4 373.1 L3315.1 375.2 L3311.9 377.5 L3309 380.1 L3306.4 382.9 L3304 385.8 L3302 388.9 L3300.3 392.2 L3299 395.5 L3298.1 399 L3297.5 402.5 L3297.3 406" stroke="#2a4a9a" stroke-width="1.9"/>
<path d="M3304.6 406 L3304.8 409.3 L3305.5 412.6 L3306.6 415.8 L3308.1 418.9 L3310 421.8 L3312.3 424.6 L3315 427.2 L3318 429.6 L3321.3 431.8 L3324.8 433.7 L3328.5 435.3 L3332.5 436.7 L3336.6 437.8 L3340.7 438.6 L3345 439.1 L3349.2 439.4 L3353.5 439.4 L3357.7 439.2 L3361.8 438.7 L3365.9 438 L3369.8 437.2 L3373.5 436.2 L3377.1 435 L3380.4 433.7 L3383.6 432.3 L3386.6 430.9 L3389.4 429.4 L3391.9 427.8 L3394.3 426.3 L3396.4 424.7 L3398.3 423.2 L3400 421.7 L3401.5 420.3 L3402.9 418.9 L3404.1 417.6 L3405.1 416.3 L3406 415.2 L3406.8 414.1 L3407.4 413.1 L3408 412.2 L3408.4 411.4 L3408.8 410.6 L3409.1 410 L3409.4 409.4 L3409.5 408.9 L3409.7 408.4 L3409.8 408 L3409.9 407.7 L3410 407.4 L3410 407.1 L3410 406.9 L3410 406.7 L3410.1 406.6 L3410.1 406.5 L3410.1 406.4 L3410.1 406.3 L3410 406.2 L3410 406.2 L3410 406.1 L3410 406.1 L3410 406.1 L3410 406.1 L3410 406 L3410 406 L3410 406 L3410 406 L3410 406 L3410 406 L3410 406 L3410 406 L3410 406 L3410 406 L3410 406 L3410 406 L3410 406 L3410 406 L3410 406 L3410 406 L3410 406 L3410 406 L3410 406 L3410 406 L3410 406 L3410 406 L3410 406 L3410 406 L3410 406 L3410 406 L3410 406 L3410 406 L3410 406 L3410 406 L3410 406 L3410 406 L3410 406 L3410 406 L3410 406 L3410 406 L3410 406 L3410 406 L3410 406 L3410 406 L3410 406 L3410 406 L3410 406 L3410 406 L3410 406 L3410 406 L3410 406 L3410 406 L3410 406 L3410 406 L3410 406 L3410 406 L3410 406 L3410 406 L3410 406 L3410 406 L3410 406 L3410 406 L3410 406 L3410 406 L3410 406 L3410 406 L3410 406 L3410 406 L3410 406 L3410 406 L3410 406 L3410 406 L3410 406 L3410 406 L3410 406 L3410 406 L3410 406 L3410 406 L3410 406 L3410 405.9 L3410 405.9 L3410 405.9 L3410 405.9 L3410 405.8 L3410 405.8 L3410.1 405.7 L3410.1 405.6 L3410.1 405.5 L3410.1 405.4 L3410 405.3 L3410 405.1 L3410 404.9 L3410 404.6 L3409.9 404.3 L3409.8 404 L3409.7 403.6 L3409.5 403.1 L3409.4 402.6 L3409.1 402 L3408.8 401.4 L3408.4 400.6 L3408 399.8 L3407.4 398.9 L3406.8 397.9 L3406 396.8 L3405.1 395.7 L3404.1 394.4 L3402.9 393.1 L3401.5 391.7 L3400 390.3 L3398.3 388.8 L3396.4 387.3 L3394.3 385.7 L3391.9 384.2 L3389.4 382.6 L3386.6 381.1 L3383.6 379.7 L3380.4 378.3 L3377.1 377 L3373.5 375.8 L3369.8 374.8 L3365.9 374 L3361.8 373.3 L3357.7 372.8 L3353.5 372.6 L3349.2 372.6 L3345 372.9 L3340.7 373.4 L3336.6 374.2 L3332.5 375.3 L3328.5 376.7 L3324.8 378.3 L3321.3 380.2 L3318 382.4 L3315 384.8 L3312.3 387.4 L3310 390.2 L3308.1 393.1 L3306.6 396.2 L3305.5 399.4 L3304.8 402.7 L3304.6 406" stroke="#3a6ab8" stroke-width="1.8"/>
<path d="M3310.4 406 L3310.6 409.1 L3311.3 412.2 L3312.4 415.2 L3313.9 418.1 L3315.8 420.9 L3318.1 423.5 L3320.7 425.9 L3323.7 428.2 L3326.9 430.1 L3330.4 431.9 L3334 433.3 L3337.9 434.5 L3341.9 435.5 L3345.9 436.1 L3350.1 436.5 L3354.2 436.7 L3358.3 436.6 L3362.3 436.2 L3366.3 435.7 L3370.1 435 L3373.8 434.1 L3377.3 433 L3380.6 431.9 L3383.8 430.6 L3386.8 429.2 L3389.5 427.8 L3392 426.4 L3394.3 424.9 L3396.5 423.4 L3398.4 422 L3400.1 420.6 L3401.6 419.2 L3402.9 417.9 L3404.1 416.7 L3405.1 415.5 L3406 414.4 L3406.8 413.4 L3407.4 412.5 L3408 411.6 L3408.4 410.9 L3408.8 410.2 L3409.1 409.6 L3409.3 409 L3409.5 408.5 L3409.7 408.1 L3409.8 407.8 L3409.9 407.5 L3409.9 407.2 L3410 407 L3410 406.8 L3410 406.6 L3410 406.5 L3410 406.4 L3410 406.3 L3410 406.2 L3410 406.2 L3410 406.1 L3410 406.1 L3410 406.1 L3410 406.1 L3410 406 L3410 406 L3410 406 L3410 406 L3410 406 L3410 406 L3410 406 L3410 406 L3410 406 L3410 406 L3410 406 L3410 406 L3410 406 L3410 406 L3410 406 L3410 406 L3410 406 L3410 406 L3410 406 L3410 406 L3410 406 L3410 406 L3410 406 L3410 406 L3410 406 L3410 406 L3410 406 L3410 406 L3410 406 L3410 406 L3410 406 L3410 406 L3410 406 L3410 406 L3410 406 L3410 406 L3410 406 L3410 406 L3410 406 L3410 406 L3410 406 L3410 406 L3410 406 L3410 406 L3410 406 L3410 406 L3410 406 L3410 406 L3410 406 L3410 406 L3410 406 L3410 406 L3410 406 L3410 406 L3410 406 L3410 406 L3410 406 L3410 406 L3410 406 L3410 406 L3410 406 L3410 406 L3410 406 L3410 406 L3410 406 L3410 406 L3410 406 L3410 406 L3410 406 L3410 406 L3410 406 L3410 406 L3410 406 L3410 406 L3410 406 L3410 406 L3410 406 L3410 406 L3410 406 L3410 405.9 L3410 405.9 L3410 405.9 L3410 405.9 L3410 405.8 L3410 405.8 L3410 405.7 L3410 405.6 L3410 405.5 L3410 405.4 L3410 405.2 L3410 405 L3409.9 404.8 L3409.9 404.5 L3409.8 404.2 L3409.7 403.9 L3409.5 403.5 L3409.3 403 L3409.1 402.4 L3408.8 401.8 L3408.4 401.1 L3408 400.4 L3407.4 399.5 L3406.8 398.6 L3406 397.6 L3405.1 396.5 L3404.1 395.3 L3402.9 394.1 L3401.6 392.8 L3400.1 391.4 L3398.4 390 L3396.5 388.6 L3394.3 387.1 L3392 385.6 L3389.5 384.2 L3386.8 382.8 L3383.8 381.4 L3380.6 380.1 L3377.3 379 L3373.8 377.9 L3370.1 377 L3366.3 376.3 L3362.3 375.8 L3358.3 375.4 L3354.2 375.3 L3350.1 375.5 L3345.9 375.9 L3341.9 376.5 L3337.9 377.5 L3334 378.7 L3330.4 380.1 L3326.9 381.9 L3323.7 383.8 L3320.7 386.1 L3318.1 388.5 L3315.8 391.1 L3313.9 393.9 L3312.4 396.8 L3311.3 399.8 L3310.6 402.9 L3310.4 406" stroke="#4a80c8" stroke-width="1.7"/>
<path d="M3410 406 L3410.4 403.8 L3410.8 401.6 L3410.9 399.4 L3411 397.1 L3410.9 394.9 L3410.7 392.7 L3410.3 390.5 L3409.8 388.3 L3409.2 386.1 L3408.4 384 L3407.6 382 L3406.6 380 L3405.5 378 L3404.2 376.1 L3402.9 374.3 L3401.4 372.6 L3399.9 371 L3398.3 369.5 L3396.5 368.1 L3394.7 366.7 L3392.8 365.5 L3390.9 364.5 L3388.9 363.5 L3386.8 362.6 L3384.7 361.9 L3382.5 361.3 L3380.3 360.8 L3378.1 360.5 L3375.9 360.3 L3373.7 360.2 L3371.4 360.3 L3369.2 360.5 L3367 360.8 L3364.8 361.3 L3362.6 361.9 L3360.5 362.6 L3358.4 363.5 L3356.4 364.5 L3354.5 365.5 L3352.6 366.7 L3350.8 368.1 L3349 369.5 L3347.4 371 L3345.9 372.6 L3344.4 374.3 L3343.1 376.1 L3341.8 378 L3340.7 380 L3339.7 382 L3338.9 384 L3338.1 386.1 L3337.5 388.3 L3337 390.5 L3336.6 392.7 L3336.4 394.9 L3336.3 397.1 L3336.4 399.4 L3336.5 401.6 L3336.9 403.8 L3337.3 406" stroke="#1a2040" stroke-width="2.0"/>
<path d="M3410 406 L3410.4 408.2 L3410.8 410.4 L3410.9 412.6 L3411 414.9 L3410.9 417.1 L3410.7 419.3 L3410.3 421.5 L3409.8 423.7 L3409.2 425.9 L3408.4 428 L3407.6 430 L3406.6 432 L3405.5 434 L3404.2 435.9 L3402.9 437.7 L3401.4 439.4 L3399.9 441 L3398.3 442.5 L3396.5 443.9 L3394.7 445.3 L3392.8 446.5 L3390.9 447.5 L3388.9 448.5 L3386.8 449.4 L3384.7 450.1 L3382.5 450.7 L3380.3 451.2 L3378.1 451.5 L3375.9 451.7 L3373.7 451.8 L3371.4 451.7 L3369.2 451.5 L3367 451.2 L3364.8 450.7 L3362.6 450.1 L3360.5 449.4 L3358.4 448.5 L3356.4 447.5 L3354.5 446.5 L3352.6 445.3 L3350.8 443.9 L3349 442.5 L3347.4 441 L3345.9 439.4 L3344.4 437.7 L3343.1 435.9 L3341.8 434 L3340.7 432 L3339.7 430 L3338.9 428 L3338.1 425.9 L3337.5 423.7 L3337 421.5 L3336.6 419.3 L3336.4 417.1 L3336.3 414.9 L3336.4 412.6 L3336.5 410.4 L3336.9 408.2 L3337.3 406" stroke="#1a2040" stroke-width="2.0"/>
<path d="M3410 406 L3409.8 404.2 L3409.5 402.4 L3409.1 400.7 L3408.7 398.9 L3408.1 397.2 L3407.5 395.5 L3406.8 393.8 L3406 392.2 L3405.1 390.6 L3404.2 389.1 L3403.2 387.6 L3402.1 386.2 L3400.9 384.8 L3399.6 383.5 L3398.3 382.2 L3397 381 L3395.6 379.9 L3394.1 378.8 L3392.6 377.9 L3391 377 L3389.4 376.2 L3387.7 375.4 L3386.1 374.8 L3384.3 374.2 L3382.6 373.7 L3380.8 373.3 L3379.1 373 L3377.3 372.8 L3375.5 372.6 L3373.7 372.6 L3371.8 372.6 L3370 372.8 L3368.2 373 L3366.5 373.3 L3364.7 373.7 L3363 374.2 L3361.2 374.8 L3359.6 375.4 L3357.9 376.2 L3356.3 377 L3354.7 377.9 L3353.2 378.8 L3351.7 379.9 L3350.3 381 L3349 382.2 L3347.7 383.5 L3346.4 384.8 L3345.2 386.2 L3344.1 387.6 L3343.1 389.1 L3342.2 390.6 L3341.3 392.2 L3340.5 393.8 L3339.8 395.5 L3339.2 397.2 L3338.6 398.9 L3338.2 400.7 L3337.8 402.4 L3337.5 404.2 L3337.3 406" stroke="#1c2a60" stroke-width="2.0"/>
<path d="M3410 406 L3409.8 407.8 L3409.5 409.6 L3409.1 411.3 L3408.7 413.1 L3408.1 414.8 L3407.5 416.5 L3406.8 418.2 L3406 419.8 L3405.1 421.4 L3404.2 422.9 L3403.2 424.4 L3402.1 425.8 L3400.9 427.2 L3399.6 428.5 L3398.3 429.8 L3397 431 L3395.6 432.1 L3394.1 433.2 L3392.6 434.1 L3391 435 L3389.4 435.8 L3387.7 436.6 L3386.1 437.2 L3384.3 437.8 L3382.6 438.3 L3380.8 438.7 L3379.1 439 L3377.3 439.2 L3375.5 439.4 L3373.7 439.4 L3371.8 439.4 L3370 439.2 L3368.2 439 L3366.5 438.7 L3364.7 438.3 L3363 437.8 L3361.2 437.2 L3359.6 436.6 L3357.9 435.8 L3356.3 435 L3354.7 434.1 L3353.2 433.2 L3351.7 432.1 L3350.3 431 L3349 429.8 L3347.7 428.5 L3346.4 427.2 L3345.2 425.8 L3344.1 424.4 L3343.1 422.9 L3342.2 421.4 L3341.3 419.8 L3340.5 418.2 L3339.8 416.5 L3339.2 414.8 L3338.6 413.1 L3338.2 411.3 L3337.8 409.6 L3337.5 407.8 L3337.3 406" stroke="#1c2a60" stroke-width="2.0"/>

</g>
<circle cx="3410" cy="406" r="6.3" fill="#fff"/>
</g>
<g fill="none" stroke-width="2.5"><g stroke="#b3b9b7"><path d="M2914.2 8 H3831.7 V804.3 H2914.2 Z"/><path transform="translate(1.6,1.6)" d="M2912.4 770.8 h11.5 M3834 770.8 h-11.5 M2912.4 698 h11.5 M3834 698 h-11.5 M2912.4 625.2 h11.5 M3834 625.2 h-11.5 M2912.4 552.4 h11.5 M3834 552.4 h-11.5 M2912.4 479.6 h11.5 M3834 479.6 h-11.5 M2912.4 406.8 h11.5 M3834 406.8 h-11.5 M2912.4 334 h11.5 M3834 334 h-11.5 M2912.4 261.2 h11.5 M3834 261.2 h-11.5 M2912.4 188.4 h11.5 M3834 188.4 h-11.5 M2912.4 115.6 h11.5 M3834 115.6 h-11.5 M2912.4 42.8 h11.5 M3834 42.8 h-11.5 M3046.5 6.2 v11 M3046.5 806.6 v-11 M3191.9 6.2 v11 M3191.9 806.6 v-11 M3337.3 6.2 v11 M3337.3 806.6 v-11 M3482.7 6.2 v11 M3482.7 806.6 v-11 M3628.1 6.2 v11 M3628.1 806.6 v-11 M3773.5 6.2 v11 M3773.5 806.6 v-11"/></g><path d="M2912.4 6.2 H3834 V806.6 H2912.4 Z" stroke="#676b81"/><path d="M2912.4 770.8 h11.5 M3834 770.8 h-11.5 M2912.4 698 h11.5 M3834 698 h-11.5 M2912.4 625.2 h11.5 M3834 625.2 h-11.5 M2912.4 552.4 h11.5 M3834 552.4 h-11.5 M2912.4 479.6 h11.5 M3834 479.6 h-11.5 M2912.4 406.8 h11.5 M3834 406.8 h-11.5 M2912.4 334 h11.5 M3834 334 h-11.5 M2912.4 261.2 h11.5 M3834 261.2 h-11.5 M2912.4 188.4 h11.5 M3834 188.4 h-11.5 M2912.4 115.6 h11.5 M3834 115.6 h-11.5 M2912.4 42.8 h11.5 M3834 42.8 h-11.5 M3046.5 6.2 v11 M3046.5 806.6 v-11 M3191.9 6.2 v11 M3191.9 806.6 v-11 M3337.3 6.2 v11 M3337.3 806.6 v-11 M3482.7 6.2 v11 M3482.7 806.6 v-11 M3628.1 6.2 v11 M3628.1 806.6 v-11 M3773.5 6.2 v11 M3773.5 806.6 v-11" stroke="#5a5e74"/></g>
<text x="2890.9" y="792.6" text-anchor="end"><tspan font-size="74" dy="1.2">−</tspan><tspan dy="-1.2" dx="0.5">50</tspan></text>
<text x="2890.9" y="719.8" text-anchor="end"><tspan font-size="74" dy="1.2">−</tspan><tspan dy="-1.2" dx="0.5">40</tspan></text>
<text x="2890.9" y="647" text-anchor="end"><tspan font-size="74" dy="1.2">−</tspan><tspan dy="-1.2" dx="0.5">30</tspan></text>
<text x="2890.9" y="574.2" text-anchor="end"><tspan font-size="74" dy="1.2">−</tspan><tspan dy="-1.2" dx="0.5">20</tspan></text>
<text x="2890.9" y="501.4" text-anchor="end"><tspan font-size="74" dy="1.2">−</tspan><tspan dy="-1.2" dx="0.5">10</tspan></text>
<text x="2890.9" y="428.6" text-anchor="end">0</text>
<text x="2890.9" y="355.8" text-anchor="end">10</text>
<text x="2890.9" y="283" text-anchor="end">20</text>
<text x="2890.9" y="210.2" text-anchor="end">30</text>
<text x="2890.9" y="137.4" text-anchor="end">40</text>
<text x="2890.9" y="64.6" text-anchor="end">50</text>
<text x="2990.8" y="876.5"><tspan font-size="74" dy="1.2">−</tspan><tspan dy="-1.2" dx="-1.5">40</tspan></text>
<text x="3136.2" y="876.5"><tspan font-size="74" dy="1.2">−</tspan><tspan dy="-1.2" dx="-1.5">20</tspan></text>
<text x="3338.5" y="876.5" text-anchor="middle">0</text>
<text x="3483.9" y="876.5" text-anchor="middle">20</text>
<text x="3629.3" y="876.5" text-anchor="middle">40</text>
<text x="2932.9" y="55.8">mm</text>
<text x="3812.6" y="775.6" text-anchor="end">mm</text>
<text x="3373.4" y="954.5" text-anchor="middle">(c) 15 kV</text>
<rect x="3882.3" y="123.5" width="36.7" height="671" fill="url(#cbc)" stroke="#b6b9c0" stroke-width="3"/>
<path d="M3883.8 703.9 h8.5 M3917.5 703.9 h-8.5 M3883.8 614.7 h8.5 M3917.5 614.7 h-8.5 M3883.8 525.6 h8.5 M3917.5 525.6 h-8.5 M3883.8 436.5 h8.5 M3917.5 436.5 h-8.5 M3883.8 347.3 h8.5 M3917.5 347.3 h-8.5 M3883.8 258.2 h8.5 M3917.5 258.2 h-8.5 M3883.8 169.1 h8.5 M3917.5 169.1 h-8.5" stroke="#1c1c28" stroke-width="2.8" fill="none"/>
<text x="3940.5" y="815.5">0</text>
<text x="3940.5" y="726.4">2</text>
<text x="3940.5" y="637.2">4</text>
<text x="3940.5" y="548.1">6</text>
<text x="3940.5" y="459">8</text>
<text x="3940.5" y="369.8">10</text>
<text x="3940.5" y="280.7">12</text>
<text x="3940.5" y="191.6">14</text>
<text x="3873" y="82.5" letter-spacing="-0.7"><tspan font-style="italic">V</tspan>/10<tspan font-size="37" dy="-21">3</tspan></text>
</svg>
</body></html>
